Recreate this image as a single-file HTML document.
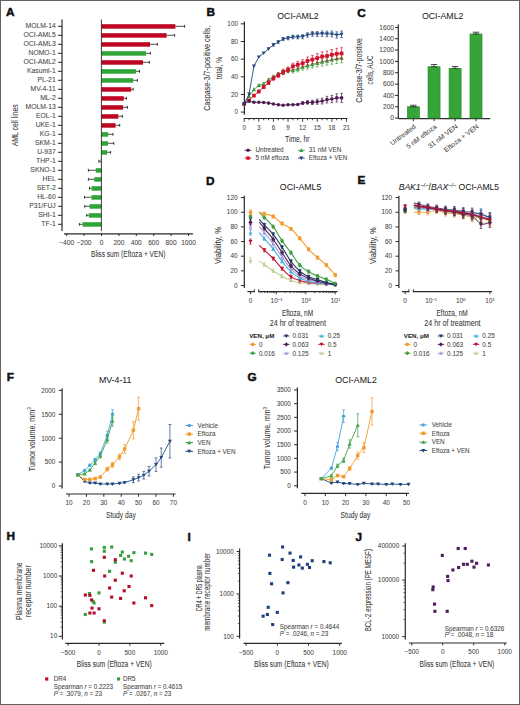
<!DOCTYPE html>
<html><head><meta charset="utf-8"><style>
html,body{margin:0;padding:0;background:#fff;}
body{width:520px;height:705px;overflow:hidden;}
svg{display:block;font-family:"Liberation Sans", sans-serif;}
text{paint-order:stroke;stroke:#666;stroke-width:0.06px;}
</style></head><body>
<svg width="520" height="705" viewBox="0 0 520 705">
<rect x="0" y="0" width="520" height="705" fill="#fff"/>
<text x="6.00" y="15.90" font-size="11.8" fill="#111" font-weight="bold" style="stroke:#111;stroke-width:0.5px" >A</text>
<text x="55.70" y="28.45" font-size="6.3" fill="#444" text-anchor="end" textLength="30.23" lengthAdjust="spacingAndGlyphs" >MOLM-14</text>
<line x1="58.00" y1="26.30" x2="62.00" y2="26.30" stroke="#2a2a2a" stroke-width="1" />
<rect x="101.40" y="24.20" width="74.00" height="4.50" fill="#be0522" />
<line x1="175.40" y1="26.30" x2="184.60" y2="26.30" stroke="#222" stroke-width="0.8" />
<line x1="184.60" y1="24.90" x2="184.60" y2="27.70" stroke="#222" stroke-width="0.9" />
<text x="55.70" y="37.45" font-size="6.3" fill="#444" text-anchor="end" textLength="32.12" lengthAdjust="spacingAndGlyphs" >OCI-AML5</text>
<line x1="58.00" y1="35.30" x2="62.00" y2="35.30" stroke="#2a2a2a" stroke-width="1" />
<rect x="101.40" y="33.20" width="65.20" height="4.50" fill="#be0522" />
<line x1="166.60" y1="35.30" x2="174.60" y2="35.30" stroke="#222" stroke-width="0.8" />
<line x1="174.60" y1="33.90" x2="174.60" y2="36.70" stroke="#222" stroke-width="0.9" />
<text x="55.70" y="46.45" font-size="6.3" fill="#444" text-anchor="end" textLength="32.12" lengthAdjust="spacingAndGlyphs" >OCI-AML3</text>
<line x1="58.00" y1="44.30" x2="62.00" y2="44.30" stroke="#2a2a2a" stroke-width="1" />
<rect x="101.40" y="42.20" width="48.60" height="4.50" fill="#be0522" />
<line x1="150.00" y1="44.30" x2="157.40" y2="44.30" stroke="#222" stroke-width="0.8" />
<line x1="157.40" y1="42.90" x2="157.40" y2="45.70" stroke="#222" stroke-width="0.9" />
<text x="55.70" y="55.45" font-size="6.3" fill="#444" text-anchor="end" textLength="27.2" lengthAdjust="spacingAndGlyphs" >NOMO-1</text>
<line x1="58.00" y1="53.30" x2="62.00" y2="53.30" stroke="#2a2a2a" stroke-width="1" />
<rect x="101.40" y="51.20" width="44.60" height="4.50" fill="#2fa437" />
<line x1="146.00" y1="53.30" x2="150.40" y2="53.30" stroke="#222" stroke-width="0.8" />
<line x1="150.40" y1="51.90" x2="150.40" y2="54.70" stroke="#222" stroke-width="0.9" />
<text x="55.70" y="64.45" font-size="6.3" fill="#444" text-anchor="end" textLength="32.12" lengthAdjust="spacingAndGlyphs" >OCI-AML2</text>
<line x1="58.00" y1="62.30" x2="62.00" y2="62.30" stroke="#2a2a2a" stroke-width="1" />
<rect x="101.40" y="60.20" width="41.60" height="4.50" fill="#be0522" />
<line x1="143.00" y1="62.30" x2="149.40" y2="62.30" stroke="#222" stroke-width="0.8" />
<line x1="149.40" y1="60.90" x2="149.40" y2="63.70" stroke="#222" stroke-width="0.9" />
<text x="55.70" y="73.45" font-size="6.3" fill="#444" text-anchor="end" textLength="28.72" lengthAdjust="spacingAndGlyphs" >Kasumi-1</text>
<line x1="58.00" y1="71.30" x2="62.00" y2="71.30" stroke="#2a2a2a" stroke-width="1" />
<rect x="101.40" y="69.20" width="34.60" height="4.50" fill="#2fa437" />
<line x1="136.00" y1="71.30" x2="139.60" y2="71.30" stroke="#222" stroke-width="0.8" />
<line x1="139.60" y1="69.90" x2="139.60" y2="72.70" stroke="#222" stroke-width="0.9" />
<text x="55.70" y="82.45" font-size="6.3" fill="#444" text-anchor="end" textLength="18.14" lengthAdjust="spacingAndGlyphs" >PL-21</text>
<line x1="58.00" y1="80.30" x2="62.00" y2="80.30" stroke="#2a2a2a" stroke-width="1" />
<rect x="101.40" y="78.20" width="31.80" height="4.50" fill="#2fa437" />
<line x1="133.20" y1="80.30" x2="137.40" y2="80.30" stroke="#222" stroke-width="0.8" />
<line x1="137.40" y1="78.90" x2="137.40" y2="81.70" stroke="#222" stroke-width="0.9" />
<text x="55.70" y="91.45" font-size="6.3" fill="#444" text-anchor="end" textLength="25.19" lengthAdjust="spacingAndGlyphs" >MV-4-11</text>
<line x1="58.00" y1="89.30" x2="62.00" y2="89.30" stroke="#2a2a2a" stroke-width="1" />
<rect x="101.40" y="87.20" width="29.80" height="4.50" fill="#be0522" />
<line x1="131.20" y1="89.30" x2="133.20" y2="89.30" stroke="#222" stroke-width="0.8" />
<line x1="133.20" y1="87.90" x2="133.20" y2="90.70" stroke="#222" stroke-width="0.9" />
<text x="55.70" y="100.45" font-size="6.3" fill="#444" text-anchor="end" textLength="15.49" lengthAdjust="spacingAndGlyphs" >ML-2</text>
<line x1="58.00" y1="98.30" x2="62.00" y2="98.30" stroke="#2a2a2a" stroke-width="1" />
<rect x="101.40" y="96.20" width="22.40" height="4.50" fill="#be0522" />
<line x1="123.80" y1="98.30" x2="126.40" y2="98.30" stroke="#222" stroke-width="0.8" />
<line x1="126.40" y1="96.90" x2="126.40" y2="99.70" stroke="#222" stroke-width="0.9" />
<text x="55.70" y="109.45" font-size="6.3" fill="#444" text-anchor="end" textLength="30.23" lengthAdjust="spacingAndGlyphs" >MOLM-13</text>
<line x1="58.00" y1="107.30" x2="62.00" y2="107.30" stroke="#2a2a2a" stroke-width="1" />
<rect x="101.40" y="105.20" width="21.60" height="4.50" fill="#be0522" />
<line x1="123.00" y1="107.30" x2="127.40" y2="107.30" stroke="#222" stroke-width="0.8" />
<line x1="127.40" y1="105.90" x2="127.40" y2="108.70" stroke="#222" stroke-width="0.9" />
<text x="55.70" y="118.45" font-size="6.3" fill="#444" text-anchor="end" textLength="19.65" lengthAdjust="spacingAndGlyphs" >EOL-1</text>
<line x1="58.00" y1="116.30" x2="62.00" y2="116.30" stroke="#2a2a2a" stroke-width="1" />
<rect x="101.40" y="114.20" width="17.00" height="4.50" fill="#be0522" />
<line x1="118.40" y1="116.30" x2="122.40" y2="116.30" stroke="#222" stroke-width="0.8" />
<line x1="122.40" y1="114.90" x2="122.40" y2="117.70" stroke="#222" stroke-width="0.9" />
<text x="55.70" y="127.45" font-size="6.3" fill="#444" text-anchor="end" textLength="20.03" lengthAdjust="spacingAndGlyphs" >UKE-1</text>
<line x1="58.00" y1="125.30" x2="62.00" y2="125.30" stroke="#2a2a2a" stroke-width="1" />
<rect x="101.40" y="123.20" width="14.20" height="4.50" fill="#be0522" />
<line x1="115.60" y1="125.30" x2="119.70" y2="125.30" stroke="#222" stroke-width="0.8" />
<line x1="119.70" y1="123.90" x2="119.70" y2="126.70" stroke="#222" stroke-width="0.9" />
<text x="55.70" y="136.45" font-size="6.3" fill="#444" text-anchor="end" textLength="15.87" lengthAdjust="spacingAndGlyphs" >KG-1</text>
<line x1="58.00" y1="134.30" x2="62.00" y2="134.30" stroke="#2a2a2a" stroke-width="1" />
<rect x="101.40" y="132.20" width="6.90" height="4.50" fill="#2fa437" />
<line x1="108.30" y1="134.30" x2="113.00" y2="134.30" stroke="#222" stroke-width="0.8" />
<line x1="113.00" y1="132.90" x2="113.00" y2="135.70" stroke="#222" stroke-width="0.9" />
<text x="55.70" y="145.45" font-size="6.3" fill="#444" text-anchor="end" textLength="20.78" lengthAdjust="spacingAndGlyphs" >SKM-1</text>
<line x1="58.00" y1="143.30" x2="62.00" y2="143.30" stroke="#2a2a2a" stroke-width="1" />
<rect x="101.40" y="141.20" width="6.60" height="4.50" fill="#2fa437" />
<line x1="108.00" y1="143.30" x2="113.75" y2="143.30" stroke="#222" stroke-width="0.8" />
<line x1="113.75" y1="141.90" x2="113.75" y2="144.70" stroke="#222" stroke-width="0.9" />
<text x="55.70" y="154.45" font-size="6.3" fill="#444" text-anchor="end" textLength="18.52" lengthAdjust="spacingAndGlyphs" >U-937</text>
<line x1="58.00" y1="152.30" x2="62.00" y2="152.30" stroke="#2a2a2a" stroke-width="1" />
<rect x="101.40" y="150.20" width="5.80" height="4.50" fill="#2fa437" />
<line x1="107.20" y1="152.30" x2="110.60" y2="152.30" stroke="#222" stroke-width="0.8" />
<line x1="110.60" y1="150.90" x2="110.60" y2="153.70" stroke="#222" stroke-width="0.9" />
<text x="55.70" y="163.45" font-size="6.3" fill="#444" text-anchor="end" textLength="19.65" lengthAdjust="spacingAndGlyphs" >THP-1</text>
<line x1="58.00" y1="161.30" x2="62.00" y2="161.30" stroke="#2a2a2a" stroke-width="1" />
<rect x="100.60" y="159.20" width="0.80" height="4.50" fill="#2fa437" />
<line x1="100.60" y1="161.30" x2="98.90" y2="161.30" stroke="#222" stroke-width="0.8" />
<line x1="98.90" y1="159.90" x2="98.90" y2="162.70" stroke="#222" stroke-width="0.9" />
<text x="55.70" y="172.45" font-size="6.3" fill="#444" text-anchor="end" textLength="25.32" lengthAdjust="spacingAndGlyphs" >SKNO-1</text>
<line x1="58.00" y1="170.30" x2="62.00" y2="170.30" stroke="#2a2a2a" stroke-width="1" />
<rect x="95.80" y="168.20" width="5.60" height="4.50" fill="#2fa437" />
<line x1="95.80" y1="170.30" x2="88.40" y2="170.30" stroke="#222" stroke-width="0.8" />
<line x1="88.40" y1="168.90" x2="88.40" y2="171.70" stroke="#222" stroke-width="0.9" />
<text x="55.70" y="181.45" font-size="6.3" fill="#444" text-anchor="end" textLength="13.23" lengthAdjust="spacingAndGlyphs" >HEL</text>
<line x1="58.00" y1="179.30" x2="62.00" y2="179.30" stroke="#2a2a2a" stroke-width="1" />
<rect x="94.20" y="177.20" width="7.20" height="4.50" fill="#2fa437" />
<line x1="94.20" y1="179.30" x2="88.40" y2="179.30" stroke="#222" stroke-width="0.8" />
<line x1="88.40" y1="177.90" x2="88.40" y2="180.70" stroke="#222" stroke-width="0.9" />
<text x="55.70" y="190.45" font-size="6.3" fill="#444" text-anchor="end" textLength="18.9" lengthAdjust="spacingAndGlyphs" >SET-2</text>
<line x1="58.00" y1="188.30" x2="62.00" y2="188.30" stroke="#2a2a2a" stroke-width="1" />
<rect x="91.60" y="186.20" width="9.80" height="4.50" fill="#2fa437" />
<line x1="91.60" y1="188.30" x2="89.50" y2="188.30" stroke="#222" stroke-width="0.8" />
<line x1="89.50" y1="186.90" x2="89.50" y2="189.70" stroke="#222" stroke-width="0.9" />
<text x="55.70" y="199.45" font-size="6.3" fill="#444" text-anchor="end" textLength="18.52" lengthAdjust="spacingAndGlyphs" >HL-60</text>
<line x1="58.00" y1="197.30" x2="62.00" y2="197.30" stroke="#2a2a2a" stroke-width="1" />
<rect x="91.40" y="195.20" width="10.00" height="4.50" fill="#2fa437" />
<line x1="91.40" y1="197.30" x2="84.50" y2="197.30" stroke="#222" stroke-width="0.8" />
<line x1="84.50" y1="195.90" x2="84.50" y2="198.70" stroke="#222" stroke-width="0.9" />
<text x="55.70" y="208.45" font-size="6.3" fill="#444" text-anchor="end" textLength="26.45" lengthAdjust="spacingAndGlyphs" >P31/FUJ</text>
<line x1="58.00" y1="206.30" x2="62.00" y2="206.30" stroke="#2a2a2a" stroke-width="1" />
<rect x="89.50" y="204.20" width="11.90" height="4.50" fill="#2fa437" />
<line x1="89.50" y1="206.30" x2="84.80" y2="206.30" stroke="#222" stroke-width="0.8" />
<line x1="84.80" y1="204.90" x2="84.80" y2="207.70" stroke="#222" stroke-width="0.9" />
<text x="55.70" y="217.45" font-size="6.3" fill="#444" text-anchor="end" textLength="17.38" lengthAdjust="spacingAndGlyphs" >SHI-1</text>
<line x1="58.00" y1="215.30" x2="62.00" y2="215.30" stroke="#2a2a2a" stroke-width="1" />
<rect x="88.75" y="213.20" width="12.65" height="4.50" fill="#2fa437" />
<line x1="88.75" y1="215.30" x2="86.70" y2="215.30" stroke="#222" stroke-width="0.8" />
<line x1="86.70" y1="213.90" x2="86.70" y2="216.70" stroke="#222" stroke-width="0.9" />
<text x="55.70" y="226.45" font-size="6.3" fill="#444" text-anchor="end" textLength="14.35" lengthAdjust="spacingAndGlyphs" >TF-1</text>
<line x1="58.00" y1="224.30" x2="62.00" y2="224.30" stroke="#2a2a2a" stroke-width="1" />
<rect x="82.50" y="222.20" width="18.90" height="4.50" fill="#2fa437" />
<line x1="82.50" y1="224.30" x2="79.40" y2="224.30" stroke="#222" stroke-width="0.8" />
<line x1="79.40" y1="222.90" x2="79.40" y2="225.70" stroke="#222" stroke-width="0.9" />
<line x1="62.00" y1="19.50" x2="62.00" y2="231.00" stroke="#2a2a2a" stroke-width="1.2" />
<line x1="101.40" y1="19.50" x2="101.40" y2="231.00" stroke="#2a2a2a" stroke-width="0.9" />
<line x1="64.00" y1="233.80" x2="193.00" y2="233.80" stroke="#2a2a2a" stroke-width="1.2" />
<line x1="66.70" y1="233.80" x2="66.70" y2="236.00" stroke="#2a2a2a" stroke-width="1" />
<text x="66.70" y="245.00" font-size="6.6" fill="#444" text-anchor="middle" >−400</text>
<line x1="84.10" y1="233.80" x2="84.10" y2="236.00" stroke="#2a2a2a" stroke-width="1" />
<text x="84.10" y="245.00" font-size="6.6" fill="#444" text-anchor="middle" >−200</text>
<line x1="101.50" y1="233.80" x2="101.50" y2="236.00" stroke="#2a2a2a" stroke-width="1" />
<text x="101.50" y="245.00" font-size="6.6" fill="#444" text-anchor="middle" >0</text>
<line x1="118.90" y1="233.80" x2="118.90" y2="236.00" stroke="#2a2a2a" stroke-width="1" />
<text x="118.90" y="245.00" font-size="6.6" fill="#444" text-anchor="middle" >200</text>
<line x1="136.30" y1="233.80" x2="136.30" y2="236.00" stroke="#2a2a2a" stroke-width="1" />
<text x="136.30" y="245.00" font-size="6.6" fill="#444" text-anchor="middle" >400</text>
<line x1="153.70" y1="233.80" x2="153.70" y2="236.00" stroke="#2a2a2a" stroke-width="1" />
<text x="153.70" y="245.00" font-size="6.6" fill="#444" text-anchor="middle" >600</text>
<line x1="171.10" y1="233.80" x2="171.10" y2="236.00" stroke="#2a2a2a" stroke-width="1" />
<text x="171.10" y="245.00" font-size="6.6" fill="#444" text-anchor="middle" >800</text>
<line x1="188.50" y1="233.80" x2="188.50" y2="236.00" stroke="#2a2a2a" stroke-width="1" />
<text x="188.50" y="245.00" font-size="6.6" fill="#444" text-anchor="middle" >1000</text>
<text x="91.00" y="257.30" font-size="8.5" fill="#333" textLength="74.4" lengthAdjust="spacingAndGlyphs" >Bliss sum (Eftoza + VEN)</text>
<text x="18.50" y="125.20" font-size="8.4" fill="#333" text-anchor="middle" textLength="42" lengthAdjust="spacingAndGlyphs" transform="rotate(-90 18.50 125.20)" >AML cell lines</text>
<text x="206.50" y="16.30" font-size="11.8" fill="#111" font-weight="bold" style="stroke:#111;stroke-width:0.5px" >B</text>
<text x="277.20" y="19.40" font-size="8.8" fill="#222" >OCI-AML2</text>
<line x1="244.40" y1="21.50" x2="244.40" y2="114.80" stroke="#2a2a2a" stroke-width="1.2" />
<line x1="240.80" y1="112.10" x2="244.40" y2="112.10" stroke="#2a2a2a" stroke-width="1" />
<text x="238.00" y="114.30" font-size="6.4" fill="#444" text-anchor="end" >0</text>
<line x1="240.80" y1="94.45" x2="244.40" y2="94.45" stroke="#2a2a2a" stroke-width="1" />
<text x="238.00" y="96.65" font-size="6.4" fill="#444" text-anchor="end" >20</text>
<line x1="240.80" y1="76.80" x2="244.40" y2="76.80" stroke="#2a2a2a" stroke-width="1" />
<text x="238.00" y="79.00" font-size="6.4" fill="#444" text-anchor="end" >40</text>
<line x1="240.80" y1="59.15" x2="244.40" y2="59.15" stroke="#2a2a2a" stroke-width="1" />
<text x="238.00" y="61.35" font-size="6.4" fill="#444" text-anchor="end" >60</text>
<line x1="240.80" y1="41.50" x2="244.40" y2="41.50" stroke="#2a2a2a" stroke-width="1" />
<text x="238.00" y="43.70" font-size="6.4" fill="#444" text-anchor="end" >80</text>
<line x1="240.80" y1="23.85" x2="244.40" y2="23.85" stroke="#2a2a2a" stroke-width="1" />
<text x="238.00" y="26.05" font-size="6.4" fill="#444" text-anchor="end" >100</text>
<line x1="243.80" y1="118.50" x2="347.50" y2="118.50" stroke="#2a2a2a" stroke-width="1.2" />
<line x1="244.20" y1="118.50" x2="244.20" y2="121.80" stroke="#2a2a2a" stroke-width="0.9" />
<text x="244.20" y="130.30" font-size="6.4" fill="#444" text-anchor="middle" >0</text>
<line x1="249.07" y1="118.50" x2="249.07" y2="120.30" stroke="#2a2a2a" stroke-width="0.9" />
<line x1="253.94" y1="118.50" x2="253.94" y2="120.30" stroke="#2a2a2a" stroke-width="0.9" />
<line x1="258.81" y1="118.50" x2="258.81" y2="121.80" stroke="#2a2a2a" stroke-width="0.9" />
<text x="258.81" y="130.30" font-size="6.4" fill="#444" text-anchor="middle" >3</text>
<line x1="263.68" y1="118.50" x2="263.68" y2="120.30" stroke="#2a2a2a" stroke-width="0.9" />
<line x1="268.55" y1="118.50" x2="268.55" y2="120.30" stroke="#2a2a2a" stroke-width="0.9" />
<line x1="273.42" y1="118.50" x2="273.42" y2="121.80" stroke="#2a2a2a" stroke-width="0.9" />
<text x="273.42" y="130.30" font-size="6.4" fill="#444" text-anchor="middle" >6</text>
<line x1="278.29" y1="118.50" x2="278.29" y2="120.30" stroke="#2a2a2a" stroke-width="0.9" />
<line x1="283.16" y1="118.50" x2="283.16" y2="120.30" stroke="#2a2a2a" stroke-width="0.9" />
<line x1="288.03" y1="118.50" x2="288.03" y2="121.80" stroke="#2a2a2a" stroke-width="0.9" />
<text x="288.03" y="130.30" font-size="6.4" fill="#444" text-anchor="middle" >9</text>
<line x1="292.90" y1="118.50" x2="292.90" y2="120.30" stroke="#2a2a2a" stroke-width="0.9" />
<line x1="297.77" y1="118.50" x2="297.77" y2="120.30" stroke="#2a2a2a" stroke-width="0.9" />
<line x1="302.64" y1="118.50" x2="302.64" y2="121.80" stroke="#2a2a2a" stroke-width="0.9" />
<text x="302.64" y="130.30" font-size="6.4" fill="#444" text-anchor="middle" >12</text>
<line x1="307.51" y1="118.50" x2="307.51" y2="120.30" stroke="#2a2a2a" stroke-width="0.9" />
<line x1="312.38" y1="118.50" x2="312.38" y2="120.30" stroke="#2a2a2a" stroke-width="0.9" />
<line x1="317.25" y1="118.50" x2="317.25" y2="121.80" stroke="#2a2a2a" stroke-width="0.9" />
<text x="317.25" y="130.30" font-size="6.4" fill="#444" text-anchor="middle" >15</text>
<line x1="322.12" y1="118.50" x2="322.12" y2="120.30" stroke="#2a2a2a" stroke-width="0.9" />
<line x1="326.99" y1="118.50" x2="326.99" y2="120.30" stroke="#2a2a2a" stroke-width="0.9" />
<line x1="331.86" y1="118.50" x2="331.86" y2="121.80" stroke="#2a2a2a" stroke-width="0.9" />
<text x="331.86" y="130.30" font-size="6.4" fill="#444" text-anchor="middle" >18</text>
<line x1="336.73" y1="118.50" x2="336.73" y2="120.30" stroke="#2a2a2a" stroke-width="0.9" />
<line x1="341.60" y1="118.50" x2="341.60" y2="120.30" stroke="#2a2a2a" stroke-width="0.9" />
<line x1="346.47" y1="118.50" x2="346.47" y2="121.80" stroke="#2a2a2a" stroke-width="0.9" />
<text x="346.47" y="130.30" font-size="6.4" fill="#444" text-anchor="middle" >21</text>
<text x="285.00" y="142.30" font-size="8.8" fill="#333" textLength="24.6" lengthAdjust="spacingAndGlyphs" >Time, hr</text>
<text x="210.20" y="68.25" font-size="8.6" fill="#333" text-anchor="middle" textLength="85.1" lengthAdjust="spacingAndGlyphs" transform="rotate(-90 210.20 68.25)" >Caspase-3/7-positive cells,</text>
<text x="221.70" y="68.00" font-size="8.6" fill="#333" text-anchor="middle" textLength="22.3" lengthAdjust="spacingAndGlyphs" transform="rotate(-90 221.70 68.00)" >total, %</text>
<polyline points="244.20,103.80 249.07,96.30 253.94,89.51 258.81,85.36 263.68,83.95 268.55,79.98 273.42,76.98 278.29,74.51 283.16,72.48 288.03,70.36 292.90,70.36 297.77,69.03 302.64,67.00 307.51,65.77 312.38,64.44 317.25,63.21 322.12,61.97 326.99,60.91 331.86,59.86 336.73,58.89 341.60,57.91" fill="none" stroke="#3f9a3f" stroke-width="0.9" stroke-linejoin="round" />
<line x1="258.81" y1="84.26" x2="258.81" y2="86.46" stroke="#3f9a3f" stroke-width="0.7" />
<line x1="257.51" y1="84.26" x2="260.11" y2="84.26" stroke="#3f9a3f" stroke-width="0.7" />
<line x1="257.51" y1="86.46" x2="260.11" y2="86.46" stroke="#3f9a3f" stroke-width="0.7" />
<line x1="263.68" y1="82.62" x2="263.68" y2="85.27" stroke="#3f9a3f" stroke-width="0.7" />
<line x1="262.38" y1="82.62" x2="264.98" y2="82.62" stroke="#3f9a3f" stroke-width="0.7" />
<line x1="262.38" y1="85.27" x2="264.98" y2="85.27" stroke="#3f9a3f" stroke-width="0.7" />
<line x1="268.55" y1="78.43" x2="268.55" y2="81.52" stroke="#3f9a3f" stroke-width="0.7" />
<line x1="267.25" y1="78.43" x2="269.85" y2="78.43" stroke="#3f9a3f" stroke-width="0.7" />
<line x1="267.25" y1="81.52" x2="269.85" y2="81.52" stroke="#3f9a3f" stroke-width="0.7" />
<line x1="273.42" y1="75.21" x2="273.42" y2="78.74" stroke="#3f9a3f" stroke-width="0.7" />
<line x1="272.12" y1="75.21" x2="274.72" y2="75.21" stroke="#3f9a3f" stroke-width="0.7" />
<line x1="272.12" y1="78.74" x2="274.72" y2="78.74" stroke="#3f9a3f" stroke-width="0.7" />
<line x1="278.29" y1="72.52" x2="278.29" y2="76.49" stroke="#3f9a3f" stroke-width="0.7" />
<line x1="276.99" y1="72.52" x2="279.59" y2="72.52" stroke="#3f9a3f" stroke-width="0.7" />
<line x1="276.99" y1="76.49" x2="279.59" y2="76.49" stroke="#3f9a3f" stroke-width="0.7" />
<line x1="283.16" y1="70.27" x2="283.16" y2="74.68" stroke="#3f9a3f" stroke-width="0.7" />
<line x1="281.86" y1="70.27" x2="284.46" y2="70.27" stroke="#3f9a3f" stroke-width="0.7" />
<line x1="281.86" y1="74.68" x2="284.46" y2="74.68" stroke="#3f9a3f" stroke-width="0.7" />
<line x1="288.03" y1="67.93" x2="288.03" y2="72.78" stroke="#3f9a3f" stroke-width="0.7" />
<line x1="286.73" y1="67.93" x2="289.33" y2="67.93" stroke="#3f9a3f" stroke-width="0.7" />
<line x1="286.73" y1="72.78" x2="289.33" y2="72.78" stroke="#3f9a3f" stroke-width="0.7" />
<line x1="292.90" y1="67.71" x2="292.90" y2="73.01" stroke="#3f9a3f" stroke-width="0.7" />
<line x1="291.60" y1="67.71" x2="294.20" y2="67.71" stroke="#3f9a3f" stroke-width="0.7" />
<line x1="291.60" y1="73.01" x2="294.20" y2="73.01" stroke="#3f9a3f" stroke-width="0.7" />
<line x1="297.77" y1="66.17" x2="297.77" y2="71.90" stroke="#3f9a3f" stroke-width="0.7" />
<line x1="296.47" y1="66.17" x2="299.07" y2="66.17" stroke="#3f9a3f" stroke-width="0.7" />
<line x1="296.47" y1="71.90" x2="299.07" y2="71.90" stroke="#3f9a3f" stroke-width="0.7" />
<line x1="302.64" y1="63.92" x2="302.64" y2="70.09" stroke="#3f9a3f" stroke-width="0.7" />
<line x1="301.34" y1="63.92" x2="303.94" y2="63.92" stroke="#3f9a3f" stroke-width="0.7" />
<line x1="301.34" y1="70.09" x2="303.94" y2="70.09" stroke="#3f9a3f" stroke-width="0.7" />
<line x1="307.51" y1="62.46" x2="307.51" y2="69.08" stroke="#3f9a3f" stroke-width="0.7" />
<line x1="306.21" y1="62.46" x2="308.81" y2="62.46" stroke="#3f9a3f" stroke-width="0.7" />
<line x1="306.21" y1="69.08" x2="308.81" y2="69.08" stroke="#3f9a3f" stroke-width="0.7" />
<line x1="312.38" y1="60.91" x2="312.38" y2="67.97" stroke="#3f9a3f" stroke-width="0.7" />
<line x1="311.08" y1="60.91" x2="313.68" y2="60.91" stroke="#3f9a3f" stroke-width="0.7" />
<line x1="311.08" y1="67.97" x2="313.68" y2="67.97" stroke="#3f9a3f" stroke-width="0.7" />
<line x1="317.25" y1="59.46" x2="317.25" y2="66.96" stroke="#3f9a3f" stroke-width="0.7" />
<line x1="315.95" y1="59.46" x2="318.55" y2="59.46" stroke="#3f9a3f" stroke-width="0.7" />
<line x1="315.95" y1="66.96" x2="318.55" y2="66.96" stroke="#3f9a3f" stroke-width="0.7" />
<line x1="322.12" y1="58.00" x2="322.12" y2="65.95" stroke="#3f9a3f" stroke-width="0.7" />
<line x1="320.82" y1="58.00" x2="323.42" y2="58.00" stroke="#3f9a3f" stroke-width="0.7" />
<line x1="320.82" y1="65.95" x2="323.42" y2="65.95" stroke="#3f9a3f" stroke-width="0.7" />
<line x1="326.99" y1="56.72" x2="326.99" y2="65.11" stroke="#3f9a3f" stroke-width="0.7" />
<line x1="325.69" y1="56.72" x2="328.29" y2="56.72" stroke="#3f9a3f" stroke-width="0.7" />
<line x1="325.69" y1="65.11" x2="328.29" y2="65.11" stroke="#3f9a3f" stroke-width="0.7" />
<line x1="331.86" y1="55.44" x2="331.86" y2="64.27" stroke="#3f9a3f" stroke-width="0.7" />
<line x1="330.56" y1="55.44" x2="333.16" y2="55.44" stroke="#3f9a3f" stroke-width="0.7" />
<line x1="330.56" y1="64.27" x2="333.16" y2="64.27" stroke="#3f9a3f" stroke-width="0.7" />
<line x1="336.73" y1="54.25" x2="336.73" y2="63.52" stroke="#3f9a3f" stroke-width="0.7" />
<line x1="335.43" y1="54.25" x2="338.03" y2="54.25" stroke="#3f9a3f" stroke-width="0.7" />
<line x1="335.43" y1="63.52" x2="338.03" y2="63.52" stroke="#3f9a3f" stroke-width="0.7" />
<line x1="341.60" y1="53.06" x2="341.60" y2="62.77" stroke="#3f9a3f" stroke-width="0.7" />
<line x1="340.30" y1="53.06" x2="342.90" y2="53.06" stroke="#3f9a3f" stroke-width="0.7" />
<line x1="340.30" y1="62.77" x2="342.90" y2="62.77" stroke="#3f9a3f" stroke-width="0.7" />
<polygon points="244.20,101.64 246.36,105.53 242.04,105.53" fill="#3f9a3f"/>
<polygon points="249.07,94.14 251.23,98.03 246.91,98.03" fill="#3f9a3f"/>
<polygon points="253.94,87.35 256.10,91.24 251.78,91.24" fill="#3f9a3f"/>
<polygon points="258.81,83.20 260.97,87.09 256.65,87.09" fill="#3f9a3f"/>
<polygon points="263.68,81.79 265.84,85.68 261.52,85.68" fill="#3f9a3f"/>
<polygon points="268.55,77.82 270.71,81.70 266.39,81.70" fill="#3f9a3f"/>
<polygon points="273.42,74.82 275.58,78.70 271.26,78.70" fill="#3f9a3f"/>
<polygon points="278.29,72.35 280.45,76.23 276.13,76.23" fill="#3f9a3f"/>
<polygon points="283.16,70.32 285.32,74.20 281.00,74.20" fill="#3f9a3f"/>
<polygon points="288.03,68.20 290.19,72.09 285.87,72.09" fill="#3f9a3f"/>
<polygon points="292.90,68.20 295.06,72.09 290.74,72.09" fill="#3f9a3f"/>
<polygon points="297.77,66.87 299.93,70.76 295.61,70.76" fill="#3f9a3f"/>
<polygon points="302.64,64.84 304.80,68.73 300.48,68.73" fill="#3f9a3f"/>
<polygon points="307.51,63.61 309.67,67.50 305.35,67.50" fill="#3f9a3f"/>
<polygon points="312.38,62.28 314.54,66.17 310.22,66.17" fill="#3f9a3f"/>
<polygon points="317.25,61.05 319.41,64.94 315.09,64.94" fill="#3f9a3f"/>
<polygon points="322.12,59.81 324.28,63.70 319.96,63.70" fill="#3f9a3f"/>
<polygon points="326.99,58.75 329.15,62.64 324.83,62.64" fill="#3f9a3f"/>
<polygon points="331.86,57.70 334.02,61.58 329.70,61.58" fill="#3f9a3f"/>
<polygon points="336.73,56.73 338.89,60.61 334.57,60.61" fill="#3f9a3f"/>
<polygon points="341.60,55.75 343.76,59.64 339.44,59.64" fill="#3f9a3f"/>
<polyline points="244.20,103.80 249.07,100.36 253.94,95.60 258.81,91.54 263.68,87.04 268.55,82.71 273.42,78.30 278.29,75.21 283.16,71.77 288.03,69.74 292.90,66.30 297.77,64.71 302.64,63.30 307.51,60.91 312.38,59.50 317.25,58.09 322.12,56.50 326.99,56.06 331.86,54.74 336.73,53.77 341.60,53.41" fill="none" stroke="#d1122c" stroke-width="0.9" stroke-linejoin="round" />
<line x1="258.81" y1="90.30" x2="258.81" y2="92.77" stroke="#d1122c" stroke-width="0.7" />
<line x1="257.51" y1="90.30" x2="260.11" y2="90.30" stroke="#d1122c" stroke-width="0.7" />
<line x1="257.51" y1="92.77" x2="260.11" y2="92.77" stroke="#d1122c" stroke-width="0.7" />
<line x1="263.68" y1="85.54" x2="263.68" y2="88.54" stroke="#d1122c" stroke-width="0.7" />
<line x1="262.38" y1="85.54" x2="264.98" y2="85.54" stroke="#d1122c" stroke-width="0.7" />
<line x1="262.38" y1="88.54" x2="264.98" y2="88.54" stroke="#d1122c" stroke-width="0.7" />
<line x1="268.55" y1="80.95" x2="268.55" y2="84.48" stroke="#d1122c" stroke-width="0.7" />
<line x1="267.25" y1="80.95" x2="269.85" y2="80.95" stroke="#d1122c" stroke-width="0.7" />
<line x1="267.25" y1="84.48" x2="269.85" y2="84.48" stroke="#d1122c" stroke-width="0.7" />
<line x1="273.42" y1="76.27" x2="273.42" y2="80.33" stroke="#d1122c" stroke-width="0.7" />
<line x1="272.12" y1="76.27" x2="274.72" y2="76.27" stroke="#d1122c" stroke-width="0.7" />
<line x1="272.12" y1="80.33" x2="274.72" y2="80.33" stroke="#d1122c" stroke-width="0.7" />
<line x1="278.29" y1="72.92" x2="278.29" y2="77.51" stroke="#d1122c" stroke-width="0.7" />
<line x1="276.99" y1="72.92" x2="279.59" y2="72.92" stroke="#d1122c" stroke-width="0.7" />
<line x1="276.99" y1="77.51" x2="279.59" y2="77.51" stroke="#d1122c" stroke-width="0.7" />
<line x1="283.16" y1="69.21" x2="283.16" y2="74.33" stroke="#d1122c" stroke-width="0.7" />
<line x1="281.86" y1="69.21" x2="284.46" y2="69.21" stroke="#d1122c" stroke-width="0.7" />
<line x1="281.86" y1="74.33" x2="284.46" y2="74.33" stroke="#d1122c" stroke-width="0.7" />
<line x1="288.03" y1="66.92" x2="288.03" y2="72.56" stroke="#d1122c" stroke-width="0.7" />
<line x1="286.73" y1="66.92" x2="289.33" y2="66.92" stroke="#d1122c" stroke-width="0.7" />
<line x1="286.73" y1="72.56" x2="289.33" y2="72.56" stroke="#d1122c" stroke-width="0.7" />
<line x1="292.90" y1="63.21" x2="292.90" y2="69.39" stroke="#d1122c" stroke-width="0.7" />
<line x1="291.60" y1="63.21" x2="294.20" y2="63.21" stroke="#d1122c" stroke-width="0.7" />
<line x1="291.60" y1="69.39" x2="294.20" y2="69.39" stroke="#d1122c" stroke-width="0.7" />
<line x1="297.77" y1="61.36" x2="297.77" y2="68.06" stroke="#d1122c" stroke-width="0.7" />
<line x1="296.47" y1="61.36" x2="299.07" y2="61.36" stroke="#d1122c" stroke-width="0.7" />
<line x1="296.47" y1="68.06" x2="299.07" y2="68.06" stroke="#d1122c" stroke-width="0.7" />
<line x1="302.64" y1="59.68" x2="302.64" y2="66.92" stroke="#d1122c" stroke-width="0.7" />
<line x1="301.34" y1="59.68" x2="303.94" y2="59.68" stroke="#d1122c" stroke-width="0.7" />
<line x1="301.34" y1="66.92" x2="303.94" y2="66.92" stroke="#d1122c" stroke-width="0.7" />
<line x1="307.51" y1="57.03" x2="307.51" y2="64.80" stroke="#d1122c" stroke-width="0.7" />
<line x1="306.21" y1="57.03" x2="308.81" y2="57.03" stroke="#d1122c" stroke-width="0.7" />
<line x1="306.21" y1="64.80" x2="308.81" y2="64.80" stroke="#d1122c" stroke-width="0.7" />
<line x1="312.38" y1="55.36" x2="312.38" y2="63.65" stroke="#d1122c" stroke-width="0.7" />
<line x1="311.08" y1="55.36" x2="313.68" y2="55.36" stroke="#d1122c" stroke-width="0.7" />
<line x1="311.08" y1="63.65" x2="313.68" y2="63.65" stroke="#d1122c" stroke-width="0.7" />
<line x1="317.25" y1="53.68" x2="317.25" y2="62.50" stroke="#d1122c" stroke-width="0.7" />
<line x1="315.95" y1="53.68" x2="318.55" y2="53.68" stroke="#d1122c" stroke-width="0.7" />
<line x1="315.95" y1="62.50" x2="318.55" y2="62.50" stroke="#d1122c" stroke-width="0.7" />
<line x1="322.12" y1="51.83" x2="322.12" y2="61.18" stroke="#d1122c" stroke-width="0.7" />
<line x1="320.82" y1="51.83" x2="323.42" y2="51.83" stroke="#d1122c" stroke-width="0.7" />
<line x1="320.82" y1="61.18" x2="323.42" y2="61.18" stroke="#d1122c" stroke-width="0.7" />
<line x1="326.99" y1="51.12" x2="326.99" y2="61.00" stroke="#d1122c" stroke-width="0.7" />
<line x1="325.69" y1="51.12" x2="328.29" y2="51.12" stroke="#d1122c" stroke-width="0.7" />
<line x1="325.69" y1="61.00" x2="328.29" y2="61.00" stroke="#d1122c" stroke-width="0.7" />
<line x1="331.86" y1="49.53" x2="331.86" y2="59.94" stroke="#d1122c" stroke-width="0.7" />
<line x1="330.56" y1="49.53" x2="333.16" y2="49.53" stroke="#d1122c" stroke-width="0.7" />
<line x1="330.56" y1="59.94" x2="333.16" y2="59.94" stroke="#d1122c" stroke-width="0.7" />
<line x1="336.73" y1="48.30" x2="336.73" y2="59.24" stroke="#d1122c" stroke-width="0.7" />
<line x1="335.43" y1="48.30" x2="338.03" y2="48.30" stroke="#d1122c" stroke-width="0.7" />
<line x1="335.43" y1="59.24" x2="338.03" y2="59.24" stroke="#d1122c" stroke-width="0.7" />
<line x1="341.60" y1="47.68" x2="341.60" y2="59.15" stroke="#d1122c" stroke-width="0.7" />
<line x1="340.30" y1="47.68" x2="342.90" y2="47.68" stroke="#d1122c" stroke-width="0.7" />
<line x1="340.30" y1="59.15" x2="342.90" y2="59.15" stroke="#d1122c" stroke-width="0.7" />
<rect x="242.35" y="101.95" width="3.70" height="3.70" fill="#d1122c"/>
<rect x="247.22" y="98.51" width="3.70" height="3.70" fill="#d1122c"/>
<rect x="252.09" y="93.75" width="3.70" height="3.70" fill="#d1122c"/>
<rect x="256.96" y="89.69" width="3.70" height="3.70" fill="#d1122c"/>
<rect x="261.83" y="85.19" width="3.70" height="3.70" fill="#d1122c"/>
<rect x="266.70" y="80.86" width="3.70" height="3.70" fill="#d1122c"/>
<rect x="271.57" y="76.45" width="3.70" height="3.70" fill="#d1122c"/>
<rect x="276.44" y="73.36" width="3.70" height="3.70" fill="#d1122c"/>
<rect x="281.31" y="69.92" width="3.70" height="3.70" fill="#d1122c"/>
<rect x="286.18" y="67.89" width="3.70" height="3.70" fill="#d1122c"/>
<rect x="291.05" y="64.45" width="3.70" height="3.70" fill="#d1122c"/>
<rect x="295.92" y="62.86" width="3.70" height="3.70" fill="#d1122c"/>
<rect x="300.79" y="61.45" width="3.70" height="3.70" fill="#d1122c"/>
<rect x="305.66" y="59.06" width="3.70" height="3.70" fill="#d1122c"/>
<rect x="310.53" y="57.65" width="3.70" height="3.70" fill="#d1122c"/>
<rect x="315.40" y="56.24" width="3.70" height="3.70" fill="#d1122c"/>
<rect x="320.27" y="54.65" width="3.70" height="3.70" fill="#d1122c"/>
<rect x="325.14" y="54.21" width="3.70" height="3.70" fill="#d1122c"/>
<rect x="330.01" y="52.89" width="3.70" height="3.70" fill="#d1122c"/>
<rect x="334.88" y="51.92" width="3.70" height="3.70" fill="#d1122c"/>
<rect x="339.75" y="51.56" width="3.70" height="3.70" fill="#d1122c"/>
<polyline points="244.20,103.80 249.07,101.25 253.94,102.22 258.81,102.22 263.68,102.48 268.55,103.10 273.42,103.98 278.29,104.78 283.16,105.30 288.03,104.78 292.90,104.69 297.77,104.51 302.64,103.10 307.51,102.39 312.38,102.39 317.25,101.69 322.12,101.07 326.99,99.66 331.86,99.04 336.73,97.89 341.60,97.89" fill="none" stroke="#4f1d52" stroke-width="0.9" stroke-linejoin="round" />
<line x1="302.64" y1="101.77" x2="302.64" y2="104.42" stroke="#4f1d52" stroke-width="0.7" />
<line x1="301.34" y1="101.77" x2="303.94" y2="101.77" stroke="#4f1d52" stroke-width="0.7" />
<line x1="301.34" y1="104.42" x2="303.94" y2="104.42" stroke="#4f1d52" stroke-width="0.7" />
<line x1="307.51" y1="100.67" x2="307.51" y2="104.11" stroke="#4f1d52" stroke-width="0.7" />
<line x1="306.21" y1="100.67" x2="308.81" y2="100.67" stroke="#4f1d52" stroke-width="0.7" />
<line x1="306.21" y1="104.11" x2="308.81" y2="104.11" stroke="#4f1d52" stroke-width="0.7" />
<line x1="312.38" y1="100.27" x2="312.38" y2="104.51" stroke="#4f1d52" stroke-width="0.7" />
<line x1="311.08" y1="100.27" x2="313.68" y2="100.27" stroke="#4f1d52" stroke-width="0.7" />
<line x1="311.08" y1="104.51" x2="313.68" y2="104.51" stroke="#4f1d52" stroke-width="0.7" />
<line x1="317.25" y1="99.17" x2="317.25" y2="104.20" stroke="#4f1d52" stroke-width="0.7" />
<line x1="315.95" y1="99.17" x2="318.55" y2="99.17" stroke="#4f1d52" stroke-width="0.7" />
<line x1="315.95" y1="104.20" x2="318.55" y2="104.20" stroke="#4f1d52" stroke-width="0.7" />
<line x1="322.12" y1="98.16" x2="322.12" y2="103.98" stroke="#4f1d52" stroke-width="0.7" />
<line x1="320.82" y1="98.16" x2="323.42" y2="98.16" stroke="#4f1d52" stroke-width="0.7" />
<line x1="320.82" y1="103.98" x2="323.42" y2="103.98" stroke="#4f1d52" stroke-width="0.7" />
<line x1="326.99" y1="96.35" x2="326.99" y2="102.97" stroke="#4f1d52" stroke-width="0.7" />
<line x1="325.69" y1="96.35" x2="328.29" y2="96.35" stroke="#4f1d52" stroke-width="0.7" />
<line x1="325.69" y1="102.97" x2="328.29" y2="102.97" stroke="#4f1d52" stroke-width="0.7" />
<line x1="331.86" y1="95.33" x2="331.86" y2="102.75" stroke="#4f1d52" stroke-width="0.7" />
<line x1="330.56" y1="95.33" x2="333.16" y2="95.33" stroke="#4f1d52" stroke-width="0.7" />
<line x1="330.56" y1="102.75" x2="333.16" y2="102.75" stroke="#4f1d52" stroke-width="0.7" />
<line x1="336.73" y1="93.79" x2="336.73" y2="102.00" stroke="#4f1d52" stroke-width="0.7" />
<line x1="335.43" y1="93.79" x2="338.03" y2="93.79" stroke="#4f1d52" stroke-width="0.7" />
<line x1="335.43" y1="102.00" x2="338.03" y2="102.00" stroke="#4f1d52" stroke-width="0.7" />
<line x1="341.60" y1="93.39" x2="341.60" y2="102.39" stroke="#4f1d52" stroke-width="0.7" />
<line x1="340.30" y1="93.39" x2="342.90" y2="93.39" stroke="#4f1d52" stroke-width="0.7" />
<line x1="340.30" y1="102.39" x2="342.90" y2="102.39" stroke="#4f1d52" stroke-width="0.7" />
<circle cx="244.20" cy="103.80" r="1.80" fill="#4f1d52"/>
<circle cx="249.07" cy="101.25" r="1.80" fill="#4f1d52"/>
<circle cx="253.94" cy="102.22" r="1.80" fill="#4f1d52"/>
<circle cx="258.81" cy="102.22" r="1.80" fill="#4f1d52"/>
<circle cx="263.68" cy="102.48" r="1.80" fill="#4f1d52"/>
<circle cx="268.55" cy="103.10" r="1.80" fill="#4f1d52"/>
<circle cx="273.42" cy="103.98" r="1.80" fill="#4f1d52"/>
<circle cx="278.29" cy="104.78" r="1.80" fill="#4f1d52"/>
<circle cx="283.16" cy="105.30" r="1.80" fill="#4f1d52"/>
<circle cx="288.03" cy="104.78" r="1.80" fill="#4f1d52"/>
<circle cx="292.90" cy="104.69" r="1.80" fill="#4f1d52"/>
<circle cx="297.77" cy="104.51" r="1.80" fill="#4f1d52"/>
<circle cx="302.64" cy="103.10" r="1.80" fill="#4f1d52"/>
<circle cx="307.51" cy="102.39" r="1.80" fill="#4f1d52"/>
<circle cx="312.38" cy="102.39" r="1.80" fill="#4f1d52"/>
<circle cx="317.25" cy="101.69" r="1.80" fill="#4f1d52"/>
<circle cx="322.12" cy="101.07" r="1.80" fill="#4f1d52"/>
<circle cx="326.99" cy="99.66" r="1.80" fill="#4f1d52"/>
<circle cx="331.86" cy="99.04" r="1.80" fill="#4f1d52"/>
<circle cx="336.73" cy="97.89" r="1.80" fill="#4f1d52"/>
<circle cx="341.60" cy="97.89" r="1.80" fill="#4f1d52"/>
<polyline points="244.20,103.80 249.07,94.19 253.94,66.03 258.81,57.03 263.68,53.06 268.55,48.91 273.42,44.94 278.29,42.12 283.16,39.12 288.03,38.15 292.90,37.00 297.77,37.00 302.64,36.65 307.51,34.97 312.38,33.91 317.25,33.91 322.12,33.65 326.99,33.91 331.86,34.00 336.73,34.97 341.60,34.26" fill="none" stroke="#23477e" stroke-width="0.9" stroke-linejoin="round" />
<line x1="273.42" y1="43.78" x2="273.42" y2="46.11" stroke="#23477e" stroke-width="0.7" />
<line x1="272.12" y1="43.78" x2="274.72" y2="43.78" stroke="#23477e" stroke-width="0.7" />
<line x1="272.12" y1="46.11" x2="274.72" y2="46.11" stroke="#23477e" stroke-width="0.7" />
<line x1="278.29" y1="40.80" x2="278.29" y2="43.43" stroke="#23477e" stroke-width="0.7" />
<line x1="276.99" y1="40.80" x2="279.59" y2="40.80" stroke="#23477e" stroke-width="0.7" />
<line x1="276.99" y1="43.43" x2="279.59" y2="43.43" stroke="#23477e" stroke-width="0.7" />
<line x1="283.16" y1="37.65" x2="283.16" y2="40.58" stroke="#23477e" stroke-width="0.7" />
<line x1="281.86" y1="37.65" x2="284.46" y2="37.65" stroke="#23477e" stroke-width="0.7" />
<line x1="281.86" y1="40.58" x2="284.46" y2="40.58" stroke="#23477e" stroke-width="0.7" />
<line x1="288.03" y1="36.53" x2="288.03" y2="39.76" stroke="#23477e" stroke-width="0.7" />
<line x1="286.73" y1="36.53" x2="289.33" y2="36.53" stroke="#23477e" stroke-width="0.7" />
<line x1="286.73" y1="39.76" x2="289.33" y2="39.76" stroke="#23477e" stroke-width="0.7" />
<line x1="292.90" y1="35.23" x2="292.90" y2="38.76" stroke="#23477e" stroke-width="0.7" />
<line x1="291.60" y1="35.23" x2="294.20" y2="35.23" stroke="#23477e" stroke-width="0.7" />
<line x1="291.60" y1="38.76" x2="294.20" y2="38.76" stroke="#23477e" stroke-width="0.7" />
<line x1="297.77" y1="35.08" x2="297.77" y2="38.91" stroke="#23477e" stroke-width="0.7" />
<line x1="296.47" y1="35.08" x2="299.07" y2="35.08" stroke="#23477e" stroke-width="0.7" />
<line x1="296.47" y1="38.91" x2="299.07" y2="38.91" stroke="#23477e" stroke-width="0.7" />
<line x1="302.64" y1="34.58" x2="302.64" y2="38.71" stroke="#23477e" stroke-width="0.7" />
<line x1="301.34" y1="34.58" x2="303.94" y2="34.58" stroke="#23477e" stroke-width="0.7" />
<line x1="301.34" y1="38.71" x2="303.94" y2="38.71" stroke="#23477e" stroke-width="0.7" />
<line x1="307.51" y1="32.75" x2="307.51" y2="37.18" stroke="#23477e" stroke-width="0.7" />
<line x1="306.21" y1="32.75" x2="308.81" y2="32.75" stroke="#23477e" stroke-width="0.7" />
<line x1="306.21" y1="37.18" x2="308.81" y2="37.18" stroke="#23477e" stroke-width="0.7" />
<line x1="312.38" y1="31.55" x2="312.38" y2="36.28" stroke="#23477e" stroke-width="0.7" />
<line x1="311.08" y1="31.55" x2="313.68" y2="31.55" stroke="#23477e" stroke-width="0.7" />
<line x1="311.08" y1="36.28" x2="313.68" y2="36.28" stroke="#23477e" stroke-width="0.7" />
<line x1="317.25" y1="31.40" x2="317.25" y2="36.43" stroke="#23477e" stroke-width="0.7" />
<line x1="315.95" y1="31.40" x2="318.55" y2="31.40" stroke="#23477e" stroke-width="0.7" />
<line x1="315.95" y1="36.43" x2="318.55" y2="36.43" stroke="#23477e" stroke-width="0.7" />
<line x1="322.12" y1="30.98" x2="322.12" y2="36.31" stroke="#23477e" stroke-width="0.7" />
<line x1="320.82" y1="30.98" x2="323.42" y2="30.98" stroke="#23477e" stroke-width="0.7" />
<line x1="320.82" y1="36.31" x2="323.42" y2="36.31" stroke="#23477e" stroke-width="0.7" />
<line x1="326.99" y1="31.10" x2="326.99" y2="36.73" stroke="#23477e" stroke-width="0.7" />
<line x1="325.69" y1="31.10" x2="328.29" y2="31.10" stroke="#23477e" stroke-width="0.7" />
<line x1="325.69" y1="36.73" x2="328.29" y2="36.73" stroke="#23477e" stroke-width="0.7" />
<line x1="331.86" y1="31.03" x2="331.86" y2="36.96" stroke="#23477e" stroke-width="0.7" />
<line x1="330.56" y1="31.03" x2="333.16" y2="31.03" stroke="#23477e" stroke-width="0.7" />
<line x1="330.56" y1="36.96" x2="333.16" y2="36.96" stroke="#23477e" stroke-width="0.7" />
<line x1="336.73" y1="31.85" x2="336.73" y2="38.08" stroke="#23477e" stroke-width="0.7" />
<line x1="335.43" y1="31.85" x2="338.03" y2="31.85" stroke="#23477e" stroke-width="0.7" />
<line x1="335.43" y1="38.08" x2="338.03" y2="38.08" stroke="#23477e" stroke-width="0.7" />
<line x1="341.60" y1="31.00" x2="341.60" y2="37.53" stroke="#23477e" stroke-width="0.7" />
<line x1="340.30" y1="31.00" x2="342.90" y2="31.00" stroke="#23477e" stroke-width="0.7" />
<line x1="340.30" y1="37.53" x2="342.90" y2="37.53" stroke="#23477e" stroke-width="0.7" />
<polygon points="244.20,105.78 246.18,102.22 242.22,102.22" fill="#23477e"/>
<polygon points="249.07,96.17 251.05,92.60 247.09,92.60" fill="#23477e"/>
<polygon points="253.94,68.01 255.92,64.45 251.96,64.45" fill="#23477e"/>
<polygon points="258.81,59.01 260.79,55.45 256.83,55.45" fill="#23477e"/>
<polygon points="263.68,55.04 265.66,51.48 261.70,51.48" fill="#23477e"/>
<polygon points="268.55,50.89 270.53,47.33 266.57,47.33" fill="#23477e"/>
<polygon points="273.42,46.92 275.40,43.36 271.44,43.36" fill="#23477e"/>
<polygon points="278.29,44.10 280.27,40.53 276.31,40.53" fill="#23477e"/>
<polygon points="283.16,41.10 285.14,37.53 281.18,37.53" fill="#23477e"/>
<polygon points="288.03,40.13 290.01,36.56 286.05,36.56" fill="#23477e"/>
<polygon points="292.90,38.98 294.88,35.42 290.92,35.42" fill="#23477e"/>
<polygon points="297.77,38.98 299.75,35.42 295.79,35.42" fill="#23477e"/>
<polygon points="302.64,38.63 304.62,35.06 300.66,35.06" fill="#23477e"/>
<polygon points="307.51,36.95 309.49,33.39 305.53,33.39" fill="#23477e"/>
<polygon points="312.38,35.89 314.36,32.33 310.40,32.33" fill="#23477e"/>
<polygon points="317.25,35.89 319.23,32.33 315.27,32.33" fill="#23477e"/>
<polygon points="322.12,35.63 324.10,32.06 320.14,32.06" fill="#23477e"/>
<polygon points="326.99,35.89 328.97,32.33 325.01,32.33" fill="#23477e"/>
<polygon points="331.86,35.98 333.84,32.41 329.88,32.41" fill="#23477e"/>
<polygon points="336.73,36.95 338.71,33.39 334.75,33.39" fill="#23477e"/>
<polygon points="341.60,36.24 343.58,32.68 339.62,32.68" fill="#23477e"/>
<line x1="244.60" y1="150.30" x2="251.40" y2="150.30" stroke="#4f1d52" stroke-width="0.9" />
<circle cx="248.00" cy="150.30" r="1.70" fill="#4f1d52"/>
<text x="255.50" y="152.20" font-size="6.4" fill="#444" >Untreated</text>
<line x1="244.60" y1="158.10" x2="251.40" y2="158.10" stroke="#d1122c" stroke-width="0.9" />
<rect x="246.30" y="156.40" width="3.40" height="3.40" fill="#d1122c"/>
<text x="255.50" y="160.00" font-size="6.4" fill="#444" >5 nM eftoza</text>
<line x1="297.90" y1="150.30" x2="304.70" y2="150.30" stroke="#3f9a3f" stroke-width="0.9" />
<polygon points="301.30,148.26 303.34,151.93 299.26,151.93" fill="#3f9a3f"/>
<text x="308.80" y="152.20" font-size="6.4" fill="#444" >31 nM VEN</text>
<line x1="297.90" y1="158.10" x2="304.70" y2="158.10" stroke="#23477e" stroke-width="0.9" />
<polygon points="301.30,160.14 303.34,156.47 299.26,156.47" fill="#23477e"/>
<text x="308.80" y="160.00" font-size="6.4" fill="#444" >Eftoza + VEN</text>
<text x="357.30" y="16.60" font-size="11.8" fill="#111" font-weight="bold" style="stroke:#111;stroke-width:0.5px" >C</text>
<text x="421.90" y="19.30" font-size="8.8" fill="#222" >OCI-AML2</text>
<line x1="398.30" y1="24.40" x2="398.30" y2="118.60" stroke="#2a2a2a" stroke-width="1.2" />
<line x1="395.00" y1="118.10" x2="398.30" y2="118.10" stroke="#2a2a2a" stroke-width="1" />
<text x="394.00" y="120.40" font-size="6.6" fill="#444" text-anchor="end" >0</text>
<line x1="395.00" y1="106.76" x2="398.30" y2="106.76" stroke="#2a2a2a" stroke-width="1" />
<text x="394.00" y="109.06" font-size="6.6" fill="#444" text-anchor="end" >200</text>
<line x1="395.00" y1="95.42" x2="398.30" y2="95.42" stroke="#2a2a2a" stroke-width="1" />
<text x="394.00" y="97.72" font-size="6.6" fill="#444" text-anchor="end" >400</text>
<line x1="395.00" y1="84.08" x2="398.30" y2="84.08" stroke="#2a2a2a" stroke-width="1" />
<text x="394.00" y="86.38" font-size="6.6" fill="#444" text-anchor="end" >600</text>
<line x1="395.00" y1="72.74" x2="398.30" y2="72.74" stroke="#2a2a2a" stroke-width="1" />
<text x="394.00" y="75.04" font-size="6.6" fill="#444" text-anchor="end" >800</text>
<line x1="395.00" y1="61.40" x2="398.30" y2="61.40" stroke="#2a2a2a" stroke-width="1" />
<text x="394.00" y="63.70" font-size="6.6" fill="#444" text-anchor="end" >1000</text>
<line x1="395.00" y1="50.06" x2="398.30" y2="50.06" stroke="#2a2a2a" stroke-width="1" />
<text x="394.00" y="52.36" font-size="6.6" fill="#444" text-anchor="end" >1200</text>
<line x1="395.00" y1="38.72" x2="398.30" y2="38.72" stroke="#2a2a2a" stroke-width="1" />
<text x="394.00" y="41.02" font-size="6.6" fill="#444" text-anchor="end" >1400</text>
<line x1="395.00" y1="27.38" x2="398.30" y2="27.38" stroke="#2a2a2a" stroke-width="1" />
<text x="394.00" y="29.68" font-size="6.6" fill="#444" text-anchor="end" >1600</text>
<line x1="398.30" y1="118.60" x2="490.20" y2="118.60" stroke="#2a2a2a" stroke-width="1.2" />
<rect x="407.35" y="106.76" width="12.00" height="11.34" fill="#34a536" stroke="#2a8d2c" stroke-width="0.7"/>
<line x1="413.35" y1="105.23" x2="413.35" y2="106.76" stroke="#333" stroke-width="0.9" />
<line x1="410.15" y1="105.23" x2="416.55" y2="105.23" stroke="#333" stroke-width="0.9" />
<line x1="410.15" y1="106.76" x2="416.55" y2="106.76" stroke="#333" stroke-width="0.9" />
<line x1="413.35" y1="118.60" x2="413.35" y2="121.20" stroke="#2a2a2a" stroke-width="1" />
<rect x="428.05" y="66.79" width="12.00" height="51.31" fill="#34a536" stroke="#2a8d2c" stroke-width="0.7"/>
<line x1="434.05" y1="64.52" x2="434.05" y2="66.79" stroke="#333" stroke-width="0.9" />
<line x1="430.85" y1="64.52" x2="437.25" y2="64.52" stroke="#333" stroke-width="0.9" />
<line x1="430.85" y1="66.79" x2="437.25" y2="66.79" stroke="#333" stroke-width="0.9" />
<line x1="434.05" y1="118.60" x2="434.05" y2="121.20" stroke="#2a2a2a" stroke-width="1" />
<rect x="449.10" y="68.37" width="12.00" height="49.73" fill="#34a536" stroke="#2a8d2c" stroke-width="0.7"/>
<line x1="455.10" y1="66.50" x2="455.10" y2="68.37" stroke="#333" stroke-width="0.9" />
<line x1="451.90" y1="66.50" x2="458.30" y2="66.50" stroke="#333" stroke-width="0.9" />
<line x1="451.90" y1="68.37" x2="458.30" y2="68.37" stroke="#333" stroke-width="0.9" />
<line x1="455.10" y1="118.60" x2="455.10" y2="121.20" stroke="#2a2a2a" stroke-width="1" />
<rect x="470.00" y="34.01" width="12.00" height="84.09" fill="#34a536" stroke="#2a8d2c" stroke-width="0.7"/>
<line x1="476.00" y1="32.20" x2="476.00" y2="34.01" stroke="#333" stroke-width="0.9" />
<line x1="472.80" y1="32.20" x2="479.20" y2="32.20" stroke="#333" stroke-width="0.9" />
<line x1="472.80" y1="34.01" x2="479.20" y2="34.01" stroke="#333" stroke-width="0.9" />
<line x1="476.00" y1="118.60" x2="476.00" y2="121.20" stroke="#2a2a2a" stroke-width="1" />
<text x="416.35" y="127.60" font-size="6.85" fill="#444" text-anchor="end" transform="rotate(-37 416.35 127.60)" >Untreated</text>
<text x="437.05" y="127.60" font-size="6.85" fill="#444" text-anchor="end" transform="rotate(-37 437.05 127.60)" >5 nM eftoza</text>
<text x="458.10" y="127.60" font-size="6.85" fill="#444" text-anchor="end" transform="rotate(-37 458.10 127.60)" >31 nM VEN</text>
<text x="479.00" y="127.60" font-size="6.85" fill="#444" text-anchor="end" transform="rotate(-37 479.00 127.60)" >Eftoza + VEN</text>
<text x="362.20" y="70.40" font-size="8.6" fill="#333" text-anchor="middle" textLength="64.7" lengthAdjust="spacingAndGlyphs" transform="rotate(-90 362.20 70.40)" >Caspase-3/7-positive</text>
<text x="373.40" y="70.00" font-size="8.6" fill="#333" text-anchor="middle" textLength="28.9" lengthAdjust="spacingAndGlyphs" transform="rotate(-90 373.40 70.00)" >cells, AUC</text>
<text x="205.90" y="184.70" font-size="11.8" fill="#111" font-weight="bold" style="stroke:#111;stroke-width:0.5px" >D</text>
<text x="300.60" y="190.40" font-size="8.8" fill="#222" text-anchor="middle" >OCI-AML5</text>
<line x1="244.30" y1="195.80" x2="244.30" y2="288.00" stroke="#2a2a2a" stroke-width="1.2" />
<line x1="240.90" y1="285.50" x2="244.30" y2="285.50" stroke="#2a2a2a" stroke-width="1" />
<text x="237.50" y="287.50" font-size="6.4" fill="#444" text-anchor="end" >0</text>
<line x1="240.90" y1="270.85" x2="244.30" y2="270.85" stroke="#2a2a2a" stroke-width="1" />
<text x="237.50" y="272.85" font-size="6.4" fill="#444" text-anchor="end" >20</text>
<line x1="240.90" y1="256.20" x2="244.30" y2="256.20" stroke="#2a2a2a" stroke-width="1" />
<text x="237.50" y="258.20" font-size="6.4" fill="#444" text-anchor="end" >40</text>
<line x1="240.90" y1="241.55" x2="244.30" y2="241.55" stroke="#2a2a2a" stroke-width="1" />
<text x="237.50" y="243.55" font-size="6.4" fill="#444" text-anchor="end" >60</text>
<line x1="240.90" y1="226.90" x2="244.30" y2="226.90" stroke="#2a2a2a" stroke-width="1" />
<text x="237.50" y="228.90" font-size="6.4" fill="#444" text-anchor="end" >80</text>
<line x1="240.90" y1="212.25" x2="244.30" y2="212.25" stroke="#2a2a2a" stroke-width="1" />
<text x="237.50" y="214.25" font-size="6.4" fill="#444" text-anchor="end" >100</text>
<line x1="240.90" y1="197.60" x2="244.30" y2="197.60" stroke="#2a2a2a" stroke-width="1" />
<text x="237.50" y="199.60" font-size="6.4" fill="#444" text-anchor="end" >120</text>
<line x1="247.40" y1="291.60" x2="254.60" y2="291.60" stroke="#2a2a2a" stroke-width="1.2" />
<line x1="250.60" y1="291.60" x2="250.60" y2="294.20" stroke="#2a2a2a" stroke-width="1" />
<line x1="254.30" y1="289.20" x2="254.30" y2="292.20" stroke="#2a2a2a" stroke-width="0.9" />
<line x1="258.40" y1="291.60" x2="337.50" y2="291.60" stroke="#2a2a2a" stroke-width="1.2" />
<line x1="258.70" y1="289.20" x2="258.70" y2="292.20" stroke="#2a2a2a" stroke-width="0.9" />
<line x1="260.95" y1="291.60" x2="260.95" y2="293.10" stroke="#2a2a2a" stroke-width="0.8" />
<line x1="264.63" y1="291.60" x2="264.63" y2="293.10" stroke="#2a2a2a" stroke-width="0.8" />
<line x1="267.48" y1="291.60" x2="267.48" y2="293.10" stroke="#2a2a2a" stroke-width="0.8" />
<line x1="269.82" y1="291.60" x2="269.82" y2="293.10" stroke="#2a2a2a" stroke-width="0.8" />
<line x1="271.79" y1="291.60" x2="271.79" y2="293.10" stroke="#2a2a2a" stroke-width="0.8" />
<line x1="273.50" y1="291.60" x2="273.50" y2="293.10" stroke="#2a2a2a" stroke-width="0.8" />
<line x1="275.00" y1="291.60" x2="275.00" y2="293.10" stroke="#2a2a2a" stroke-width="0.8" />
<line x1="276.35" y1="291.60" x2="276.35" y2="294.40" stroke="#2a2a2a" stroke-width="0.8" />
<line x1="285.22" y1="291.60" x2="285.22" y2="293.10" stroke="#2a2a2a" stroke-width="0.8" />
<line x1="290.40" y1="291.60" x2="290.40" y2="293.10" stroke="#2a2a2a" stroke-width="0.8" />
<line x1="294.08" y1="291.60" x2="294.08" y2="293.10" stroke="#2a2a2a" stroke-width="0.8" />
<line x1="296.93" y1="291.60" x2="296.93" y2="293.10" stroke="#2a2a2a" stroke-width="0.8" />
<line x1="299.27" y1="291.60" x2="299.27" y2="293.10" stroke="#2a2a2a" stroke-width="0.8" />
<line x1="301.24" y1="291.60" x2="301.24" y2="293.10" stroke="#2a2a2a" stroke-width="0.8" />
<line x1="302.95" y1="291.60" x2="302.95" y2="293.10" stroke="#2a2a2a" stroke-width="0.8" />
<line x1="304.45" y1="291.60" x2="304.45" y2="293.10" stroke="#2a2a2a" stroke-width="0.8" />
<line x1="305.80" y1="291.60" x2="305.80" y2="294.40" stroke="#2a2a2a" stroke-width="0.8" />
<line x1="314.67" y1="291.60" x2="314.67" y2="293.10" stroke="#2a2a2a" stroke-width="0.8" />
<line x1="319.85" y1="291.60" x2="319.85" y2="293.10" stroke="#2a2a2a" stroke-width="0.8" />
<line x1="323.53" y1="291.60" x2="323.53" y2="293.10" stroke="#2a2a2a" stroke-width="0.8" />
<line x1="326.38" y1="291.60" x2="326.38" y2="293.10" stroke="#2a2a2a" stroke-width="0.8" />
<line x1="328.72" y1="291.60" x2="328.72" y2="293.10" stroke="#2a2a2a" stroke-width="0.8" />
<line x1="330.69" y1="291.60" x2="330.69" y2="293.10" stroke="#2a2a2a" stroke-width="0.8" />
<line x1="332.40" y1="291.60" x2="332.40" y2="293.10" stroke="#2a2a2a" stroke-width="0.8" />
<line x1="333.90" y1="291.60" x2="333.90" y2="293.10" stroke="#2a2a2a" stroke-width="0.8" />
<line x1="335.25" y1="291.60" x2="335.25" y2="294.40" stroke="#2a2a2a" stroke-width="0.8" />
<text x="250.50" y="303.30" font-size="6.4" fill="#444" text-anchor="middle" >0</text>
<text x="276.65" y="303.3" font-size="6.4" fill="#444" text-anchor="middle">10<tspan dy="-2.6" font-size="4.4">−1</tspan></text>
<text x="306.10" y="303.3" font-size="6.4" fill="#444" text-anchor="middle">10<tspan dy="-2.6" font-size="4.4">0</tspan></text>
<text x="335.55" y="303.3" font-size="6.4" fill="#444" text-anchor="middle">10<tspan dy="-2.6" font-size="4.4">1</tspan></text>
<text x="281.90" y="316.25" font-size="8.2" fill="#333" textLength="31.2" lengthAdjust="spacingAndGlyphs" >Eftoza, nM</text>
<text x="269.75" y="326.25" font-size="8.6" fill="#333" textLength="56.25" lengthAdjust="spacingAndGlyphs" >24 hr of treatment</text>
<text x="221.30" y="245.50" font-size="8.6" fill="#333" text-anchor="middle" textLength="37" lengthAdjust="spacingAndGlyphs" transform="rotate(-90 221.30 245.50)" >Viability, %</text>
<polyline points="259.20,261.02 264.33,264.62 265.01,265.11 265.92,265.76 267.00,266.53 268.21,267.39 269.48,268.30 270.77,269.20 272.02,270.06 273.19,270.85 274.30,271.58 275.41,272.31 276.52,273.03 277.63,273.73 278.73,274.42 279.84,275.09 280.95,275.73 282.06,276.34 283.17,276.93 284.27,277.50 285.38,278.04 286.49,278.56 287.60,279.06 288.71,279.53 289.82,279.97 290.92,280.37 292.03,280.74 293.14,281.08 294.25,281.40 295.36,281.68 296.46,281.93 297.57,282.17 298.68,282.38 299.79,282.57 300.90,282.73 302.00,282.86 303.11,282.95 304.22,283.03 305.33,283.09 306.44,283.15 307.55,283.22 308.65,283.30 309.76,283.40 310.87,283.49 311.98,283.59 313.09,283.69 314.19,283.79 315.30,283.88 316.41,283.96 317.52,284.04 318.63,284.10 319.74,284.15 320.84,284.20 321.95,284.24 323.06,284.28 324.17,284.32 325.28,284.36 326.38,284.40 327.55,284.45 328.81,284.50 330.10,284.55 331.37,284.61 332.57,284.66 333.66,284.70 334.57,284.74 335.25,284.77" fill="none" stroke="#c3cc95" stroke-width="1.1" stroke-linejoin="round" />
<line x1="250.50" y1="257.81" x2="250.50" y2="262.94" stroke="#c3cc95" stroke-width="0.7" />
<line x1="249.20" y1="257.81" x2="251.80" y2="257.81" stroke="#c3cc95" stroke-width="0.7" />
<line x1="249.20" y1="262.94" x2="251.80" y2="262.94" stroke="#c3cc95" stroke-width="0.7" />
<line x1="264.33" y1="263.01" x2="264.33" y2="266.24" stroke="#c3cc95" stroke-width="0.7" />
<line x1="263.03" y1="263.01" x2="265.63" y2="263.01" stroke="#c3cc95" stroke-width="0.7" />
<line x1="263.03" y1="266.24" x2="265.63" y2="266.24" stroke="#c3cc95" stroke-width="0.7" />
<line x1="273.19" y1="269.24" x2="273.19" y2="272.46" stroke="#c3cc95" stroke-width="0.7" />
<line x1="271.89" y1="269.24" x2="274.49" y2="269.24" stroke="#c3cc95" stroke-width="0.7" />
<line x1="271.89" y1="272.46" x2="274.49" y2="272.46" stroke="#c3cc95" stroke-width="0.7" />
<line x1="282.06" y1="274.73" x2="282.06" y2="277.96" stroke="#c3cc95" stroke-width="0.7" />
<line x1="280.76" y1="274.73" x2="283.36" y2="274.73" stroke="#c3cc95" stroke-width="0.7" />
<line x1="280.76" y1="277.96" x2="283.36" y2="277.96" stroke="#c3cc95" stroke-width="0.7" />
<line x1="290.92" y1="278.76" x2="290.92" y2="281.98" stroke="#c3cc95" stroke-width="0.7" />
<line x1="289.62" y1="278.76" x2="292.22" y2="278.76" stroke="#c3cc95" stroke-width="0.7" />
<line x1="289.62" y1="281.98" x2="292.22" y2="281.98" stroke="#c3cc95" stroke-width="0.7" />
<polygon points="250.50,258.40 252.48,261.96 248.52,261.96" fill="#c3cc95"/>
<polygon points="264.33,262.64 266.31,266.21 262.35,266.21" fill="#c3cc95"/>
<polygon points="273.19,268.87 275.17,272.43 271.21,272.43" fill="#c3cc95"/>
<polygon points="282.06,274.36 284.04,277.93 280.08,277.93" fill="#c3cc95"/>
<polygon points="290.92,278.39 292.90,281.96 288.94,281.96" fill="#c3cc95"/>
<polygon points="299.79,280.59 301.77,284.15 297.81,284.15" fill="#c3cc95"/>
<polygon points="308.65,281.32 310.63,284.89 306.67,284.89" fill="#c3cc95"/>
<polygon points="317.52,282.06 319.50,285.62 315.54,285.62" fill="#c3cc95"/>
<polygon points="326.38,282.42 328.36,285.99 324.40,285.99" fill="#c3cc95"/>
<polygon points="335.25,282.79 337.23,286.35 333.27,286.35" fill="#c3cc95"/>
<polyline points="259.20,245.41 264.33,250.19 265.01,250.82 265.92,251.64 267.00,252.61 268.21,253.70 269.48,254.86 270.77,256.07 272.02,257.29 273.19,258.47 274.30,259.67 275.41,260.93 276.52,262.24 277.63,263.58 278.73,264.91 279.84,266.21 280.95,267.47 282.06,268.65 283.17,269.79 284.27,270.92 285.38,272.02 286.49,273.09 287.60,274.10 288.71,275.05 289.82,275.93 290.92,276.71 292.03,277.39 293.14,277.97 294.25,278.47 295.36,278.91 296.46,279.30 297.57,279.66 298.68,280.01 299.79,280.37 300.90,280.73 302.00,281.06 303.11,281.37 304.22,281.65 305.33,281.92 306.44,282.16 307.55,282.38 308.65,282.57 309.76,282.73 310.87,282.86 311.98,282.95 313.09,283.03 314.19,283.09 315.30,283.15 316.41,283.22 317.52,283.30 318.63,283.39 319.74,283.49 320.84,283.58 321.95,283.67 323.06,283.76 324.17,283.85 325.28,283.94 326.38,284.04 327.55,284.13 328.81,284.24 330.10,284.34 331.37,284.45 332.57,284.55 333.66,284.64 334.57,284.71 335.25,284.77" fill="none" stroke="#c0102c" stroke-width="1.1" stroke-linejoin="round" />
<line x1="250.50" y1="238.99" x2="250.50" y2="244.11" stroke="#c0102c" stroke-width="0.7" />
<line x1="249.20" y1="238.99" x2="251.80" y2="238.99" stroke="#c0102c" stroke-width="0.7" />
<line x1="249.20" y1="244.11" x2="251.80" y2="244.11" stroke="#c0102c" stroke-width="0.7" />
<line x1="264.33" y1="248.58" x2="264.33" y2="251.81" stroke="#c0102c" stroke-width="0.7" />
<line x1="263.03" y1="248.58" x2="265.63" y2="248.58" stroke="#c0102c" stroke-width="0.7" />
<line x1="263.03" y1="251.81" x2="265.63" y2="251.81" stroke="#c0102c" stroke-width="0.7" />
<line x1="273.19" y1="256.86" x2="273.19" y2="260.08" stroke="#c0102c" stroke-width="0.7" />
<line x1="271.89" y1="256.86" x2="274.49" y2="256.86" stroke="#c0102c" stroke-width="0.7" />
<line x1="271.89" y1="260.08" x2="274.49" y2="260.08" stroke="#c0102c" stroke-width="0.7" />
<line x1="282.06" y1="267.04" x2="282.06" y2="270.26" stroke="#c0102c" stroke-width="0.7" />
<line x1="280.76" y1="267.04" x2="283.36" y2="267.04" stroke="#c0102c" stroke-width="0.7" />
<line x1="280.76" y1="270.26" x2="283.36" y2="270.26" stroke="#c0102c" stroke-width="0.7" />
<line x1="290.92" y1="275.10" x2="290.92" y2="278.32" stroke="#c0102c" stroke-width="0.7" />
<line x1="289.62" y1="275.10" x2="292.22" y2="275.10" stroke="#c0102c" stroke-width="0.7" />
<line x1="289.62" y1="278.32" x2="292.22" y2="278.32" stroke="#c0102c" stroke-width="0.7" />
<line x1="299.79" y1="278.76" x2="299.79" y2="281.98" stroke="#c0102c" stroke-width="0.7" />
<line x1="298.49" y1="278.76" x2="301.09" y2="278.76" stroke="#c0102c" stroke-width="0.7" />
<line x1="298.49" y1="281.98" x2="301.09" y2="281.98" stroke="#c0102c" stroke-width="0.7" />
<polygon points="250.50,243.53 252.48,239.97 248.52,239.97" fill="#c0102c"/>
<polygon points="264.33,252.17 266.31,248.61 262.35,248.61" fill="#c0102c"/>
<polygon points="273.19,260.45 275.17,256.89 271.21,256.89" fill="#c0102c"/>
<polygon points="282.06,270.63 284.04,267.07 280.08,267.07" fill="#c0102c"/>
<polygon points="290.92,278.69 292.90,275.13 288.94,275.13" fill="#c0102c"/>
<polygon points="299.79,282.35 301.77,278.79 297.81,278.79" fill="#c0102c"/>
<polygon points="308.65,284.55 310.63,280.99 306.67,280.99" fill="#c0102c"/>
<polygon points="317.52,285.28 319.50,281.72 315.54,281.72" fill="#c0102c"/>
<polygon points="326.38,286.02 328.36,282.45 324.40,282.45" fill="#c0102c"/>
<polygon points="335.25,286.75 337.23,283.18 333.27,283.18" fill="#c0102c"/>
<polyline points="259.20,232.69 264.33,238.62 265.01,239.40 265.92,240.41 267.00,241.62 268.21,242.97 269.48,244.42 270.77,245.92 272.02,247.42 273.19,248.88 274.30,250.34 275.41,251.89 276.52,253.48 277.63,255.10 278.73,256.72 279.84,258.32 280.95,259.86 282.06,261.33 283.17,262.74 284.27,264.14 285.38,265.51 286.49,266.84 287.60,268.13 288.71,269.35 289.82,270.51 290.92,271.58 292.03,272.57 293.14,273.49 294.25,274.34 295.36,275.13 296.46,275.87 297.57,276.55 298.68,277.20 299.79,277.81 300.90,278.37 302.00,278.88 303.11,279.34 304.22,279.75 305.33,280.13 306.44,280.48 307.55,280.80 308.65,281.11 309.76,281.38 310.87,281.60 311.98,281.79 313.09,281.95 314.19,282.10 315.30,282.25 316.41,282.40 317.52,282.57 318.63,282.76 319.74,282.95 320.84,283.15 321.95,283.35 323.06,283.54 324.17,283.72 325.28,283.89 326.38,284.04 327.55,284.17 328.81,284.29 330.10,284.40 331.37,284.49 332.57,284.58 333.66,284.65 334.57,284.72 335.25,284.77" fill="none" stroke="#47aedc" stroke-width="1.1" stroke-linejoin="round" />
<line x1="250.50" y1="230.20" x2="250.50" y2="235.32" stroke="#47aedc" stroke-width="0.7" />
<line x1="249.20" y1="230.20" x2="251.80" y2="230.20" stroke="#47aedc" stroke-width="0.7" />
<line x1="249.20" y1="235.32" x2="251.80" y2="235.32" stroke="#47aedc" stroke-width="0.7" />
<line x1="264.33" y1="237.01" x2="264.33" y2="240.23" stroke="#47aedc" stroke-width="0.7" />
<line x1="263.03" y1="237.01" x2="265.63" y2="237.01" stroke="#47aedc" stroke-width="0.7" />
<line x1="263.03" y1="240.23" x2="265.63" y2="240.23" stroke="#47aedc" stroke-width="0.7" />
<line x1="273.19" y1="247.26" x2="273.19" y2="250.49" stroke="#47aedc" stroke-width="0.7" />
<line x1="271.89" y1="247.26" x2="274.49" y2="247.26" stroke="#47aedc" stroke-width="0.7" />
<line x1="271.89" y1="250.49" x2="274.49" y2="250.49" stroke="#47aedc" stroke-width="0.7" />
<line x1="282.06" y1="259.72" x2="282.06" y2="262.94" stroke="#47aedc" stroke-width="0.7" />
<line x1="280.76" y1="259.72" x2="283.36" y2="259.72" stroke="#47aedc" stroke-width="0.7" />
<line x1="280.76" y1="262.94" x2="283.36" y2="262.94" stroke="#47aedc" stroke-width="0.7" />
<line x1="290.92" y1="269.97" x2="290.92" y2="273.19" stroke="#47aedc" stroke-width="0.7" />
<line x1="289.62" y1="269.97" x2="292.22" y2="269.97" stroke="#47aedc" stroke-width="0.7" />
<line x1="289.62" y1="273.19" x2="292.22" y2="273.19" stroke="#47aedc" stroke-width="0.7" />
<line x1="299.79" y1="276.20" x2="299.79" y2="279.42" stroke="#47aedc" stroke-width="0.7" />
<line x1="298.49" y1="276.20" x2="301.09" y2="276.20" stroke="#47aedc" stroke-width="0.7" />
<line x1="298.49" y1="279.42" x2="301.09" y2="279.42" stroke="#47aedc" stroke-width="0.7" />
<polygon points="250.50,230.78 252.48,234.34 248.52,234.34" fill="#47aedc"/>
<polygon points="264.33,236.64 266.31,240.20 262.35,240.20" fill="#47aedc"/>
<polygon points="273.19,246.90 275.17,250.46 271.21,250.46" fill="#47aedc"/>
<polygon points="282.06,259.35 284.04,262.91 280.08,262.91" fill="#47aedc"/>
<polygon points="290.92,269.60 292.90,273.17 288.94,273.17" fill="#47aedc"/>
<polygon points="299.79,275.83 301.77,279.39 297.81,279.39" fill="#47aedc"/>
<polygon points="308.65,279.12 310.63,282.69 306.67,282.69" fill="#47aedc"/>
<polygon points="317.52,280.59 319.50,284.15 315.54,284.15" fill="#47aedc"/>
<polygon points="326.38,282.06 328.36,285.62 324.40,285.62" fill="#47aedc"/>
<polygon points="335.25,282.79 337.23,286.35 333.27,286.35" fill="#47aedc"/>
<polyline points="259.20,226.41 264.33,232.76 265.01,233.59 265.92,234.68 267.00,235.98 268.21,237.43 269.48,238.98 270.77,240.59 272.02,242.19 273.19,243.75 274.30,245.30 275.41,246.92 276.52,248.60 277.63,250.29 278.73,252.00 279.84,253.69 280.95,255.34 282.06,256.93 283.17,258.50 284.27,260.07 285.38,261.63 286.49,263.16 287.60,264.64 288.71,266.07 289.82,267.41 290.92,268.65 292.03,269.80 293.14,270.88 294.25,271.88 295.36,272.82 296.46,273.69 297.57,274.51 298.68,275.27 299.79,275.98 300.90,276.62 302.00,277.18 303.11,277.68 304.22,278.13 305.33,278.53 306.44,278.91 307.55,279.28 308.65,279.64 309.76,279.99 310.87,280.31 311.98,280.60 313.09,280.88 314.19,281.13 315.30,281.37 316.41,281.61 317.52,281.84 318.63,282.06 319.74,282.26 320.84,282.44 321.95,282.62 323.06,282.79 324.17,282.95 325.28,283.12 326.38,283.30 327.55,283.50 328.81,283.70 330.10,283.92 331.37,284.13 332.57,284.33 333.66,284.50 334.57,284.65 335.25,284.77" fill="none" stroke="#a39ad8" stroke-width="1.1" stroke-linejoin="round" />
<line x1="250.50" y1="224.34" x2="250.50" y2="229.46" stroke="#a39ad8" stroke-width="0.7" />
<line x1="249.20" y1="224.34" x2="251.80" y2="224.34" stroke="#a39ad8" stroke-width="0.7" />
<line x1="249.20" y1="229.46" x2="251.80" y2="229.46" stroke="#a39ad8" stroke-width="0.7" />
<line x1="264.33" y1="231.15" x2="264.33" y2="234.37" stroke="#a39ad8" stroke-width="0.7" />
<line x1="263.03" y1="231.15" x2="265.63" y2="231.15" stroke="#a39ad8" stroke-width="0.7" />
<line x1="263.03" y1="234.37" x2="265.63" y2="234.37" stroke="#a39ad8" stroke-width="0.7" />
<line x1="273.19" y1="242.14" x2="273.19" y2="245.36" stroke="#a39ad8" stroke-width="0.7" />
<line x1="271.89" y1="242.14" x2="274.49" y2="242.14" stroke="#a39ad8" stroke-width="0.7" />
<line x1="271.89" y1="245.36" x2="274.49" y2="245.36" stroke="#a39ad8" stroke-width="0.7" />
<line x1="282.06" y1="255.32" x2="282.06" y2="258.54" stroke="#a39ad8" stroke-width="0.7" />
<line x1="280.76" y1="255.32" x2="283.36" y2="255.32" stroke="#a39ad8" stroke-width="0.7" />
<line x1="280.76" y1="258.54" x2="283.36" y2="258.54" stroke="#a39ad8" stroke-width="0.7" />
<line x1="290.92" y1="267.04" x2="290.92" y2="270.26" stroke="#a39ad8" stroke-width="0.7" />
<line x1="289.62" y1="267.04" x2="292.22" y2="267.04" stroke="#a39ad8" stroke-width="0.7" />
<line x1="289.62" y1="270.26" x2="292.22" y2="270.26" stroke="#a39ad8" stroke-width="0.7" />
<line x1="299.79" y1="274.37" x2="299.79" y2="277.59" stroke="#a39ad8" stroke-width="0.7" />
<line x1="298.49" y1="274.37" x2="301.09" y2="274.37" stroke="#a39ad8" stroke-width="0.7" />
<line x1="298.49" y1="277.59" x2="301.09" y2="277.59" stroke="#a39ad8" stroke-width="0.7" />
<line x1="308.65" y1="278.03" x2="308.65" y2="281.25" stroke="#a39ad8" stroke-width="0.7" />
<line x1="307.35" y1="278.03" x2="309.95" y2="278.03" stroke="#a39ad8" stroke-width="0.7" />
<line x1="307.35" y1="281.25" x2="309.95" y2="281.25" stroke="#a39ad8" stroke-width="0.7" />
<polygon points="250.50,224.92 252.48,228.48 248.52,228.48" fill="#a39ad8"/>
<polygon points="264.33,230.78 266.31,234.34 262.35,234.34" fill="#a39ad8"/>
<polygon points="273.19,241.77 275.17,245.33 271.21,245.33" fill="#a39ad8"/>
<polygon points="282.06,254.95 284.04,258.52 280.08,258.52" fill="#a39ad8"/>
<polygon points="290.92,266.67 292.90,270.24 288.94,270.24" fill="#a39ad8"/>
<polygon points="299.79,274.00 301.77,277.56 297.81,277.56" fill="#a39ad8"/>
<polygon points="308.65,277.66 310.63,281.22 306.67,281.22" fill="#a39ad8"/>
<polygon points="317.52,279.86 319.50,283.42 315.54,283.42" fill="#a39ad8"/>
<polygon points="326.38,281.32 328.36,284.89 324.40,284.89" fill="#a39ad8"/>
<polygon points="335.25,282.79 337.23,286.35 333.27,286.35" fill="#a39ad8"/>
<polyline points="259.20,222.01 264.33,228.37 265.01,229.20 265.92,230.29 267.00,231.58 268.21,233.03 269.48,234.59 270.77,236.19 272.02,237.80 273.19,239.35 274.30,240.90 275.41,242.49 276.52,244.14 277.63,245.81 278.73,247.50 279.84,249.19 280.95,250.87 282.06,252.54 283.17,254.22 284.27,255.95 285.38,257.71 286.49,259.45 287.60,261.15 288.71,262.79 289.82,264.32 290.92,265.72 292.03,267.00 293.14,268.18 294.25,269.28 295.36,270.30 296.46,271.25 297.57,272.14 298.68,272.98 299.79,273.78 300.90,274.51 302.00,275.17 303.11,275.76 304.22,276.30 305.33,276.80 306.44,277.27 307.55,277.72 308.65,278.18 309.76,278.62 310.87,279.03 311.98,279.41 313.09,279.78 314.19,280.12 315.30,280.46 316.41,280.78 317.52,281.11 318.63,281.42 319.74,281.73 320.84,282.02 321.95,282.30 323.06,282.58 324.17,282.83 325.28,283.07 326.38,283.30 327.55,283.52 328.81,283.72 330.10,283.92 331.37,284.10 332.57,284.26 333.66,284.40 334.57,284.53 335.25,284.62" fill="none" stroke="#4c1f55" stroke-width="1.1" stroke-linejoin="round" />
<line x1="250.50" y1="219.94" x2="250.50" y2="225.07" stroke="#4c1f55" stroke-width="0.7" />
<line x1="249.20" y1="219.94" x2="251.80" y2="219.94" stroke="#4c1f55" stroke-width="0.7" />
<line x1="249.20" y1="225.07" x2="251.80" y2="225.07" stroke="#4c1f55" stroke-width="0.7" />
<line x1="264.33" y1="226.75" x2="264.33" y2="229.98" stroke="#4c1f55" stroke-width="0.7" />
<line x1="263.03" y1="226.75" x2="265.63" y2="226.75" stroke="#4c1f55" stroke-width="0.7" />
<line x1="263.03" y1="229.98" x2="265.63" y2="229.98" stroke="#4c1f55" stroke-width="0.7" />
<line x1="273.19" y1="237.74" x2="273.19" y2="240.96" stroke="#4c1f55" stroke-width="0.7" />
<line x1="271.89" y1="237.74" x2="274.49" y2="237.74" stroke="#4c1f55" stroke-width="0.7" />
<line x1="271.89" y1="240.96" x2="274.49" y2="240.96" stroke="#4c1f55" stroke-width="0.7" />
<line x1="282.06" y1="250.93" x2="282.06" y2="254.15" stroke="#4c1f55" stroke-width="0.7" />
<line x1="280.76" y1="250.93" x2="283.36" y2="250.93" stroke="#4c1f55" stroke-width="0.7" />
<line x1="280.76" y1="254.15" x2="283.36" y2="254.15" stroke="#4c1f55" stroke-width="0.7" />
<line x1="290.92" y1="264.11" x2="290.92" y2="267.33" stroke="#4c1f55" stroke-width="0.7" />
<line x1="289.62" y1="264.11" x2="292.22" y2="264.11" stroke="#4c1f55" stroke-width="0.7" />
<line x1="289.62" y1="267.33" x2="292.22" y2="267.33" stroke="#4c1f55" stroke-width="0.7" />
<line x1="299.79" y1="272.17" x2="299.79" y2="275.39" stroke="#4c1f55" stroke-width="0.7" />
<line x1="298.49" y1="272.17" x2="301.09" y2="272.17" stroke="#4c1f55" stroke-width="0.7" />
<line x1="298.49" y1="275.39" x2="301.09" y2="275.39" stroke="#4c1f55" stroke-width="0.7" />
<line x1="308.65" y1="276.56" x2="308.65" y2="279.79" stroke="#4c1f55" stroke-width="0.7" />
<line x1="307.35" y1="276.56" x2="309.95" y2="276.56" stroke="#4c1f55" stroke-width="0.7" />
<line x1="307.35" y1="279.79" x2="309.95" y2="279.79" stroke="#4c1f55" stroke-width="0.7" />
<polygon points="250.50,220.36 252.65,222.50 250.50,224.65 248.35,222.50" fill="#4c1f55"/>
<polygon points="264.33,226.22 266.47,228.37 264.33,230.51 262.18,228.37" fill="#4c1f55"/>
<polygon points="273.19,237.21 275.34,239.35 273.19,241.50 271.05,239.35" fill="#4c1f55"/>
<polygon points="282.06,250.39 284.20,252.54 282.06,254.68 279.91,252.54" fill="#4c1f55"/>
<polygon points="290.92,263.58 293.07,265.72 290.92,267.87 288.78,265.72" fill="#4c1f55"/>
<polygon points="299.79,271.63 301.93,273.78 299.79,275.92 297.64,273.78" fill="#4c1f55"/>
<polygon points="308.65,276.03 310.80,278.18 308.65,280.32 306.51,278.18" fill="#4c1f55"/>
<polygon points="317.52,278.96 319.66,281.11 317.52,283.25 315.37,281.11" fill="#4c1f55"/>
<polygon points="326.38,281.16 328.53,283.30 326.38,285.45 324.24,283.30" fill="#4c1f55"/>
<polygon points="335.25,282.48 337.39,284.62 335.25,286.77 333.11,284.62" fill="#4c1f55"/>
<polyline points="259.20,219.46 264.33,224.92 265.01,225.63 265.92,226.54 267.00,227.62 268.21,228.84 269.48,230.16 270.77,231.55 272.02,232.96 273.19,234.37 274.30,235.81 275.41,237.32 276.52,238.90 277.63,240.53 278.73,242.19 279.84,243.88 280.95,245.57 282.06,247.26 283.17,249.00 284.27,250.80 285.38,252.64 286.49,254.50 287.60,256.32 288.71,258.09 289.82,259.77 290.92,261.33 292.03,262.77 293.14,264.15 294.25,265.45 295.36,266.68 296.46,267.85 297.57,268.96 298.68,270.01 299.79,271.00 300.90,271.92 302.00,272.77 303.11,273.55 304.22,274.27 305.33,274.95 306.44,275.57 307.55,276.16 308.65,276.71 309.76,277.21 310.87,277.64 311.98,278.02 313.09,278.35 314.19,278.67 315.30,278.98 316.41,279.30 317.52,279.64 318.63,280.01 319.74,280.38 320.84,280.76 321.95,281.13 323.06,281.50 324.17,281.85 325.28,282.19 326.38,282.50 327.55,282.79 328.81,283.08 330.10,283.36 331.37,283.63 332.57,283.87 333.66,284.08 334.57,284.26 335.25,284.40" fill="none" stroke="#1f3563" stroke-width="1.1" stroke-linejoin="round" />
<line x1="250.50" y1="216.28" x2="250.50" y2="221.41" stroke="#1f3563" stroke-width="0.7" />
<line x1="249.20" y1="216.28" x2="251.80" y2="216.28" stroke="#1f3563" stroke-width="0.7" />
<line x1="249.20" y1="221.41" x2="251.80" y2="221.41" stroke="#1f3563" stroke-width="0.7" />
<line x1="264.33" y1="223.31" x2="264.33" y2="226.53" stroke="#1f3563" stroke-width="0.7" />
<line x1="263.03" y1="223.31" x2="265.63" y2="223.31" stroke="#1f3563" stroke-width="0.7" />
<line x1="263.03" y1="226.53" x2="265.63" y2="226.53" stroke="#1f3563" stroke-width="0.7" />
<line x1="273.19" y1="232.76" x2="273.19" y2="235.98" stroke="#1f3563" stroke-width="0.7" />
<line x1="271.89" y1="232.76" x2="274.49" y2="232.76" stroke="#1f3563" stroke-width="0.7" />
<line x1="271.89" y1="235.98" x2="274.49" y2="235.98" stroke="#1f3563" stroke-width="0.7" />
<line x1="282.06" y1="245.65" x2="282.06" y2="248.88" stroke="#1f3563" stroke-width="0.7" />
<line x1="280.76" y1="245.65" x2="283.36" y2="245.65" stroke="#1f3563" stroke-width="0.7" />
<line x1="280.76" y1="248.88" x2="283.36" y2="248.88" stroke="#1f3563" stroke-width="0.7" />
<line x1="290.92" y1="259.72" x2="290.92" y2="262.94" stroke="#1f3563" stroke-width="0.7" />
<line x1="289.62" y1="259.72" x2="292.22" y2="259.72" stroke="#1f3563" stroke-width="0.7" />
<line x1="289.62" y1="262.94" x2="292.22" y2="262.94" stroke="#1f3563" stroke-width="0.7" />
<line x1="299.79" y1="269.38" x2="299.79" y2="272.61" stroke="#1f3563" stroke-width="0.7" />
<line x1="298.49" y1="269.38" x2="301.09" y2="269.38" stroke="#1f3563" stroke-width="0.7" />
<line x1="298.49" y1="272.61" x2="301.09" y2="272.61" stroke="#1f3563" stroke-width="0.7" />
<line x1="308.65" y1="275.10" x2="308.65" y2="278.32" stroke="#1f3563" stroke-width="0.7" />
<line x1="307.35" y1="275.10" x2="309.95" y2="275.10" stroke="#1f3563" stroke-width="0.7" />
<line x1="307.35" y1="278.32" x2="309.95" y2="278.32" stroke="#1f3563" stroke-width="0.7" />
<line x1="317.52" y1="278.03" x2="317.52" y2="281.25" stroke="#1f3563" stroke-width="0.7" />
<line x1="316.22" y1="278.03" x2="318.82" y2="278.03" stroke="#1f3563" stroke-width="0.7" />
<line x1="316.22" y1="281.25" x2="318.82" y2="281.25" stroke="#1f3563" stroke-width="0.7" />
<polygon points="250.50,220.82 252.48,217.26 248.52,217.26" fill="#1f3563"/>
<polygon points="264.33,226.90 266.31,223.34 262.35,223.34" fill="#1f3563"/>
<polygon points="273.19,236.35 275.17,232.79 271.21,232.79" fill="#1f3563"/>
<polygon points="282.06,249.24 284.04,245.68 280.08,245.68" fill="#1f3563"/>
<polygon points="290.92,263.31 292.90,259.74 288.94,259.74" fill="#1f3563"/>
<polygon points="299.79,272.98 301.77,269.41 297.81,269.41" fill="#1f3563"/>
<polygon points="308.65,278.69 310.63,275.13 306.67,275.13" fill="#1f3563"/>
<polygon points="317.52,281.62 319.50,278.06 315.54,278.06" fill="#1f3563"/>
<polygon points="326.38,284.48 328.36,280.91 324.40,280.91" fill="#1f3563"/>
<polygon points="335.25,286.38 337.23,282.82 333.27,282.82" fill="#1f3563"/>
<polyline points="259.20,212.23 264.33,217.52 265.01,218.20 265.92,219.05 267.00,220.07 268.21,221.22 269.48,222.48 270.77,223.83 272.02,225.23 273.19,226.68 274.30,228.22 275.41,229.92 276.52,231.72 277.63,233.58 278.73,235.46 279.84,237.33 280.95,239.12 282.06,240.82 283.17,242.41 284.27,243.93 285.38,245.41 286.49,246.86 287.60,248.29 288.71,249.73 289.82,251.19 290.92,252.68 292.03,254.25 293.14,255.90 294.25,257.57 295.36,259.25 296.46,260.88 297.57,262.43 298.68,263.86 299.79,265.14 300.90,266.24 302.00,267.22 303.11,268.08 304.22,268.86 305.33,269.58 306.44,270.26 307.55,270.92 308.65,271.58 309.76,272.24 310.87,272.85 311.98,273.42 313.09,273.96 314.19,274.48 315.30,274.99 316.41,275.48 317.52,275.98 318.63,276.46 319.74,276.91 320.84,277.35 321.95,277.77 323.06,278.19 324.17,278.61 325.28,279.05 326.38,279.49 327.55,279.98 328.81,280.51 330.10,281.07 331.37,281.62 332.57,282.14 333.66,282.61 334.57,283.01 335.25,283.30" fill="none" stroke="#3d9e3d" stroke-width="1.1" stroke-linejoin="round" />
<line x1="250.50" y1="213.35" x2="250.50" y2="218.48" stroke="#3d9e3d" stroke-width="0.7" />
<line x1="249.20" y1="213.35" x2="251.80" y2="213.35" stroke="#3d9e3d" stroke-width="0.7" />
<line x1="249.20" y1="218.48" x2="251.80" y2="218.48" stroke="#3d9e3d" stroke-width="0.7" />
<line x1="264.33" y1="215.91" x2="264.33" y2="219.14" stroke="#3d9e3d" stroke-width="0.7" />
<line x1="263.03" y1="215.91" x2="265.63" y2="215.91" stroke="#3d9e3d" stroke-width="0.7" />
<line x1="263.03" y1="219.14" x2="265.63" y2="219.14" stroke="#3d9e3d" stroke-width="0.7" />
<line x1="273.19" y1="225.07" x2="273.19" y2="228.29" stroke="#3d9e3d" stroke-width="0.7" />
<line x1="271.89" y1="225.07" x2="274.49" y2="225.07" stroke="#3d9e3d" stroke-width="0.7" />
<line x1="271.89" y1="228.29" x2="274.49" y2="228.29" stroke="#3d9e3d" stroke-width="0.7" />
<line x1="282.06" y1="239.21" x2="282.06" y2="242.43" stroke="#3d9e3d" stroke-width="0.7" />
<line x1="280.76" y1="239.21" x2="283.36" y2="239.21" stroke="#3d9e3d" stroke-width="0.7" />
<line x1="280.76" y1="242.43" x2="283.36" y2="242.43" stroke="#3d9e3d" stroke-width="0.7" />
<line x1="290.92" y1="251.07" x2="290.92" y2="254.30" stroke="#3d9e3d" stroke-width="0.7" />
<line x1="289.62" y1="251.07" x2="292.22" y2="251.07" stroke="#3d9e3d" stroke-width="0.7" />
<line x1="289.62" y1="254.30" x2="292.22" y2="254.30" stroke="#3d9e3d" stroke-width="0.7" />
<line x1="299.79" y1="263.52" x2="299.79" y2="266.75" stroke="#3d9e3d" stroke-width="0.7" />
<line x1="298.49" y1="263.52" x2="301.09" y2="263.52" stroke="#3d9e3d" stroke-width="0.7" />
<line x1="298.49" y1="266.75" x2="301.09" y2="266.75" stroke="#3d9e3d" stroke-width="0.7" />
<line x1="308.65" y1="269.97" x2="308.65" y2="273.19" stroke="#3d9e3d" stroke-width="0.7" />
<line x1="307.35" y1="269.97" x2="309.95" y2="269.97" stroke="#3d9e3d" stroke-width="0.7" />
<line x1="307.35" y1="273.19" x2="309.95" y2="273.19" stroke="#3d9e3d" stroke-width="0.7" />
<line x1="317.52" y1="274.37" x2="317.52" y2="277.59" stroke="#3d9e3d" stroke-width="0.7" />
<line x1="316.22" y1="274.37" x2="318.82" y2="274.37" stroke="#3d9e3d" stroke-width="0.7" />
<line x1="316.22" y1="277.59" x2="318.82" y2="277.59" stroke="#3d9e3d" stroke-width="0.7" />
<line x1="326.38" y1="277.88" x2="326.38" y2="281.11" stroke="#3d9e3d" stroke-width="0.7" />
<line x1="325.08" y1="277.88" x2="327.68" y2="277.88" stroke="#3d9e3d" stroke-width="0.7" />
<line x1="325.08" y1="281.11" x2="327.68" y2="281.11" stroke="#3d9e3d" stroke-width="0.7" />
<polygon points="250.50,213.77 252.65,215.91 250.50,218.06 248.35,215.91" fill="#3d9e3d"/>
<polygon points="264.33,215.38 266.47,217.52 264.33,219.67 262.18,217.52" fill="#3d9e3d"/>
<polygon points="273.19,224.54 275.34,226.68 273.19,228.83 271.05,226.68" fill="#3d9e3d"/>
<polygon points="282.06,238.67 284.20,240.82 282.06,242.96 279.91,240.82" fill="#3d9e3d"/>
<polygon points="290.92,250.54 293.07,252.68 290.92,254.83 288.78,252.68" fill="#3d9e3d"/>
<polygon points="299.79,262.99 301.93,265.14 299.79,267.28 297.64,265.14" fill="#3d9e3d"/>
<polygon points="308.65,269.44 310.80,271.58 308.65,273.73 306.51,271.58" fill="#3d9e3d"/>
<polygon points="317.52,273.83 319.66,275.98 317.52,278.12 315.37,275.98" fill="#3d9e3d"/>
<polygon points="326.38,277.35 328.53,279.49 326.38,281.64 324.24,279.49" fill="#3d9e3d"/>
<polygon points="335.25,281.16 337.39,283.30 335.25,285.45 333.11,283.30" fill="#3d9e3d"/>
<polyline points="259.20,212.22 264.33,213.79 265.01,213.97 265.92,214.17 267.00,214.42 268.21,214.70 269.48,215.05 270.77,215.45 272.02,215.93 273.19,216.50 274.30,217.18 275.41,217.99 276.52,218.89 277.63,219.85 278.73,220.83 279.84,221.79 280.95,222.70 282.06,223.53 283.17,224.25 284.27,224.89 285.38,225.48 286.49,226.05 287.60,226.64 288.71,227.29 289.82,228.02 290.92,228.88 292.03,229.86 293.14,230.93 294.25,232.08 295.36,233.29 296.46,234.54 297.57,235.82 298.68,237.11 299.79,238.40 300.90,239.72 302.00,241.09 303.11,242.51 304.22,243.94 305.33,245.36 306.44,246.74 307.55,248.07 308.65,249.31 309.76,250.47 310.87,251.57 311.98,252.62 313.09,253.62 314.19,254.60 315.30,255.57 316.41,256.54 317.52,257.52 318.63,258.48 319.74,259.41 320.84,260.32 321.95,261.22 323.06,262.13 324.17,263.08 325.28,264.08 326.38,265.14 327.55,266.34 328.81,267.70 330.10,269.14 331.37,270.59 332.57,271.99 333.66,273.25 334.57,274.31 335.25,275.10" fill="none" stroke="#f39a2b" stroke-width="1.1" stroke-linejoin="round" />
<line x1="250.50" y1="209.83" x2="250.50" y2="214.96" stroke="#f39a2b" stroke-width="0.7" />
<line x1="249.20" y1="209.83" x2="251.80" y2="209.83" stroke="#f39a2b" stroke-width="0.7" />
<line x1="249.20" y1="214.96" x2="251.80" y2="214.96" stroke="#f39a2b" stroke-width="0.7" />
<line x1="264.33" y1="212.18" x2="264.33" y2="215.40" stroke="#f39a2b" stroke-width="0.7" />
<line x1="263.03" y1="212.18" x2="265.63" y2="212.18" stroke="#f39a2b" stroke-width="0.7" />
<line x1="263.03" y1="215.40" x2="265.63" y2="215.40" stroke="#f39a2b" stroke-width="0.7" />
<line x1="273.19" y1="214.89" x2="273.19" y2="218.11" stroke="#f39a2b" stroke-width="0.7" />
<line x1="271.89" y1="214.89" x2="274.49" y2="214.89" stroke="#f39a2b" stroke-width="0.7" />
<line x1="271.89" y1="218.11" x2="274.49" y2="218.11" stroke="#f39a2b" stroke-width="0.7" />
<line x1="282.06" y1="221.92" x2="282.06" y2="225.14" stroke="#f39a2b" stroke-width="0.7" />
<line x1="280.76" y1="221.92" x2="283.36" y2="221.92" stroke="#f39a2b" stroke-width="0.7" />
<line x1="280.76" y1="225.14" x2="283.36" y2="225.14" stroke="#f39a2b" stroke-width="0.7" />
<line x1="290.92" y1="227.27" x2="290.92" y2="230.49" stroke="#f39a2b" stroke-width="0.7" />
<line x1="289.62" y1="227.27" x2="292.22" y2="227.27" stroke="#f39a2b" stroke-width="0.7" />
<line x1="289.62" y1="230.49" x2="292.22" y2="230.49" stroke="#f39a2b" stroke-width="0.7" />
<line x1="299.79" y1="236.79" x2="299.79" y2="240.01" stroke="#f39a2b" stroke-width="0.7" />
<line x1="298.49" y1="236.79" x2="301.09" y2="236.79" stroke="#f39a2b" stroke-width="0.7" />
<line x1="298.49" y1="240.01" x2="301.09" y2="240.01" stroke="#f39a2b" stroke-width="0.7" />
<line x1="308.65" y1="247.70" x2="308.65" y2="250.93" stroke="#f39a2b" stroke-width="0.7" />
<line x1="307.35" y1="247.70" x2="309.95" y2="247.70" stroke="#f39a2b" stroke-width="0.7" />
<line x1="307.35" y1="250.93" x2="309.95" y2="250.93" stroke="#f39a2b" stroke-width="0.7" />
<line x1="317.52" y1="255.91" x2="317.52" y2="259.13" stroke="#f39a2b" stroke-width="0.7" />
<line x1="316.22" y1="255.91" x2="318.82" y2="255.91" stroke="#f39a2b" stroke-width="0.7" />
<line x1="316.22" y1="259.13" x2="318.82" y2="259.13" stroke="#f39a2b" stroke-width="0.7" />
<line x1="326.38" y1="263.52" x2="326.38" y2="266.75" stroke="#f39a2b" stroke-width="0.7" />
<line x1="325.08" y1="263.52" x2="327.68" y2="263.52" stroke="#f39a2b" stroke-width="0.7" />
<line x1="325.08" y1="266.75" x2="327.68" y2="266.75" stroke="#f39a2b" stroke-width="0.7" />
<line x1="335.25" y1="273.49" x2="335.25" y2="276.71" stroke="#f39a2b" stroke-width="0.7" />
<line x1="333.95" y1="273.49" x2="336.55" y2="273.49" stroke="#f39a2b" stroke-width="0.7" />
<line x1="333.95" y1="276.71" x2="336.55" y2="276.71" stroke="#f39a2b" stroke-width="0.7" />
<rect x="248.85" y="210.75" width="3.30" height="3.30" fill="#f39a2b"/>
<rect x="262.68" y="212.14" width="3.30" height="3.30" fill="#f39a2b"/>
<rect x="271.54" y="214.85" width="3.30" height="3.30" fill="#f39a2b"/>
<rect x="280.41" y="221.88" width="3.30" height="3.30" fill="#f39a2b"/>
<rect x="289.27" y="227.23" width="3.30" height="3.30" fill="#f39a2b"/>
<rect x="298.14" y="236.75" width="3.30" height="3.30" fill="#f39a2b"/>
<rect x="307.00" y="247.66" width="3.30" height="3.30" fill="#f39a2b"/>
<rect x="315.87" y="255.87" width="3.30" height="3.30" fill="#f39a2b"/>
<rect x="324.73" y="263.49" width="3.30" height="3.30" fill="#f39a2b"/>
<rect x="333.60" y="273.45" width="3.30" height="3.30" fill="#f39a2b"/>
<text x="249.20" y="337.80" font-size="6.2" fill="#222" font-weight="bold" >VEN, μM</text>
<line x1="283.10" y1="336.00" x2="289.50" y2="336.00" stroke="#1f3563" stroke-width="0.9" />
<polygon points="286.30,337.92 288.22,334.46 284.38,334.46" fill="#1f3563"/>
<text x="292.50" y="338.30" font-size="6.4" fill="#444" >0.031</text>
<line x1="318.30" y1="336.00" x2="324.70" y2="336.00" stroke="#47aedc" stroke-width="0.9" />
<polygon points="321.50,334.08 323.42,337.54 319.58,337.54" fill="#47aedc"/>
<text x="327.70" y="338.30" font-size="6.4" fill="#444" >0.25</text>
<line x1="249.50" y1="344.40" x2="255.90" y2="344.40" stroke="#f39a2b" stroke-width="0.9" />
<circle cx="252.70" cy="344.40" r="1.80" fill="#f39a2b"/>
<text x="258.90" y="346.70" font-size="6.4" fill="#444" >0</text>
<line x1="283.10" y1="344.40" x2="289.50" y2="344.40" stroke="#4c1f55" stroke-width="0.9" />
<polygon points="286.30,342.32 288.38,344.40 286.30,346.48 284.22,344.40" fill="#4c1f55"/>
<text x="292.50" y="346.70" font-size="6.4" fill="#444" >0.063</text>
<line x1="318.30" y1="344.40" x2="324.70" y2="344.40" stroke="#c0102c" stroke-width="0.9" />
<polygon points="321.50,346.32 323.42,342.86 319.58,342.86" fill="#c0102c"/>
<text x="327.70" y="346.70" font-size="6.4" fill="#444" >0.5</text>
<line x1="249.50" y1="353.20" x2="255.90" y2="353.20" stroke="#3d9e3d" stroke-width="0.9" />
<polygon points="252.70,351.12 254.78,353.20 252.70,355.28 250.62,353.20" fill="#3d9e3d"/>
<text x="258.90" y="355.50" font-size="6.4" fill="#444" >0.016</text>
<line x1="283.10" y1="353.20" x2="289.50" y2="353.20" stroke="#a39ad8" stroke-width="0.9" />
<polygon points="286.30,351.28 288.22,354.74 284.38,354.74" fill="#a39ad8"/>
<text x="292.50" y="355.50" font-size="6.4" fill="#444" >0.125</text>
<line x1="318.30" y1="353.20" x2="324.70" y2="353.20" stroke="#c3cc95" stroke-width="0.9" />
<polygon points="321.50,351.28 323.42,354.74 319.58,354.74" fill="#c3cc95"/>
<text x="327.70" y="355.50" font-size="6.4" fill="#444" >1</text>
<text x="357.40" y="183.90" font-size="11.8" fill="#111" font-weight="bold" style="stroke:#111;stroke-width:0.5px" >E</text>
<text x="448.9" y="190.4" font-size="8.6" fill="#222" text-anchor="middle"><tspan font-style="italic">BAK1</tspan><tspan dy="-3" font-size="5.5">−/−</tspan><tspan dy="3">/</tspan><tspan font-style="italic">BAX</tspan><tspan dy="-3" font-size="5.5">−/−</tspan><tspan dy="3"> OCI-AML5</tspan></text>
<line x1="398.90" y1="195.80" x2="398.90" y2="288.00" stroke="#2a2a2a" stroke-width="1.2" />
<line x1="395.50" y1="285.50" x2="398.90" y2="285.50" stroke="#2a2a2a" stroke-width="1" />
<text x="392.10" y="287.50" font-size="6.4" fill="#444" text-anchor="end" >0</text>
<line x1="395.50" y1="270.85" x2="398.90" y2="270.85" stroke="#2a2a2a" stroke-width="1" />
<text x="392.10" y="272.85" font-size="6.4" fill="#444" text-anchor="end" >20</text>
<line x1="395.50" y1="256.20" x2="398.90" y2="256.20" stroke="#2a2a2a" stroke-width="1" />
<text x="392.10" y="258.20" font-size="6.4" fill="#444" text-anchor="end" >40</text>
<line x1="395.50" y1="241.55" x2="398.90" y2="241.55" stroke="#2a2a2a" stroke-width="1" />
<text x="392.10" y="243.55" font-size="6.4" fill="#444" text-anchor="end" >60</text>
<line x1="395.50" y1="226.90" x2="398.90" y2="226.90" stroke="#2a2a2a" stroke-width="1" />
<text x="392.10" y="228.90" font-size="6.4" fill="#444" text-anchor="end" >80</text>
<line x1="395.50" y1="212.25" x2="398.90" y2="212.25" stroke="#2a2a2a" stroke-width="1" />
<text x="392.10" y="214.25" font-size="6.4" fill="#444" text-anchor="end" >100</text>
<line x1="395.50" y1="197.60" x2="398.90" y2="197.60" stroke="#2a2a2a" stroke-width="1" />
<text x="392.10" y="199.60" font-size="6.4" fill="#444" text-anchor="end" >120</text>
<line x1="402.00" y1="291.60" x2="409.20" y2="291.60" stroke="#2a2a2a" stroke-width="1.2" />
<line x1="405.20" y1="291.60" x2="405.20" y2="294.20" stroke="#2a2a2a" stroke-width="1" />
<line x1="408.90" y1="289.20" x2="408.90" y2="292.20" stroke="#2a2a2a" stroke-width="0.9" />
<line x1="413.00" y1="291.60" x2="492.10" y2="291.60" stroke="#2a2a2a" stroke-width="1.2" />
<line x1="413.30" y1="289.20" x2="413.30" y2="292.20" stroke="#2a2a2a" stroke-width="0.9" />
<line x1="489.85" y1="291.60" x2="489.85" y2="294.40" stroke="#2a2a2a" stroke-width="0.8" />
<text x="405.10" y="303.30" font-size="6.4" fill="#444" text-anchor="middle" >0</text>
<text x="431.25" y="303.3" font-size="6.4" fill="#444" text-anchor="middle">10<tspan dy="-2.6" font-size="4.4">−1</tspan></text>
<text x="460.70" y="303.3" font-size="6.4" fill="#444" text-anchor="middle">10<tspan dy="-2.6" font-size="4.4">0</tspan></text>
<text x="490.15" y="303.3" font-size="6.4" fill="#444" text-anchor="middle">10<tspan dy="-2.6" font-size="4.4">1</tspan></text>
<text x="436.50" y="316.25" font-size="8.2" fill="#333" textLength="31.2" lengthAdjust="spacingAndGlyphs" >Eftoza, nM</text>
<text x="424.35" y="326.25" font-size="8.6" fill="#333" textLength="56.25" lengthAdjust="spacingAndGlyphs" >24 hr of treatment</text>
<text x="375.90" y="245.50" font-size="8.6" fill="#333" text-anchor="middle" textLength="37" lengthAdjust="spacingAndGlyphs" transform="rotate(-90 375.90 245.50)" >Viability, %</text>
<polyline points="413.80,209.32 418.93,209.32 419.61,209.31 420.52,209.30 421.60,209.29 422.81,209.27 424.08,209.27 425.37,209.27 426.62,209.28 427.79,209.32 428.90,209.37 430.01,209.43 431.12,209.51 432.23,209.59 433.33,209.69 434.44,209.80 435.55,209.92 436.66,210.05 437.77,210.21 438.87,210.38 439.98,210.58 441.09,210.78 442.20,210.99 443.31,211.19 444.42,211.36 445.52,211.52 446.63,211.63 447.74,211.72 448.85,211.78 449.96,211.84 451.06,211.90 452.17,211.98 453.28,212.09 454.39,212.25 455.50,212.45 456.60,212.68 457.71,212.93 458.82,213.21 459.93,213.51 461.04,213.81 462.15,214.13 463.25,214.45 464.36,214.76 465.47,215.08 466.58,215.40 467.69,215.73 468.79,216.09 469.90,216.47 471.01,216.90 472.12,217.38 473.23,217.95 474.34,218.63 475.44,219.36 476.55,220.12 477.66,220.86 478.77,221.53 479.88,222.09 480.98,222.50 482.15,222.75 483.41,222.87 484.70,222.88 485.97,222.83 487.17,222.73 488.26,222.63 489.17,222.54 489.85,222.50" fill="none" stroke="#c3cc95" stroke-width="0.9" stroke-linejoin="round" />
<line x1="405.10" y1="208.22" x2="405.10" y2="211.88" stroke="#c3cc95" stroke-width="0.7" />
<line x1="403.80" y1="208.22" x2="406.40" y2="208.22" stroke="#c3cc95" stroke-width="0.7" />
<line x1="403.80" y1="211.88" x2="406.40" y2="211.88" stroke="#c3cc95" stroke-width="0.7" />
<line x1="418.93" y1="207.16" x2="418.93" y2="211.48" stroke="#c3cc95" stroke-width="0.7" />
<line x1="417.63" y1="207.16" x2="420.23" y2="207.16" stroke="#c3cc95" stroke-width="0.7" />
<line x1="417.63" y1="211.48" x2="420.23" y2="211.48" stroke="#c3cc95" stroke-width="0.7" />
<line x1="427.79" y1="206.83" x2="427.79" y2="211.81" stroke="#c3cc95" stroke-width="0.7" />
<line x1="426.49" y1="206.83" x2="429.09" y2="206.83" stroke="#c3cc95" stroke-width="0.7" />
<line x1="426.49" y1="211.81" x2="429.09" y2="211.81" stroke="#c3cc95" stroke-width="0.7" />
<line x1="436.66" y1="207.23" x2="436.66" y2="212.87" stroke="#c3cc95" stroke-width="0.7" />
<line x1="435.36" y1="207.23" x2="437.96" y2="207.23" stroke="#c3cc95" stroke-width="0.7" />
<line x1="435.36" y1="212.87" x2="437.96" y2="212.87" stroke="#c3cc95" stroke-width="0.7" />
<line x1="445.52" y1="208.37" x2="445.52" y2="214.67" stroke="#c3cc95" stroke-width="0.7" />
<line x1="444.22" y1="208.37" x2="446.82" y2="208.37" stroke="#c3cc95" stroke-width="0.7" />
<line x1="444.22" y1="214.67" x2="446.82" y2="214.67" stroke="#c3cc95" stroke-width="0.7" />
<line x1="454.39" y1="208.77" x2="454.39" y2="215.73" stroke="#c3cc95" stroke-width="0.7" />
<line x1="453.09" y1="208.77" x2="455.69" y2="208.77" stroke="#c3cc95" stroke-width="0.7" />
<line x1="453.09" y1="215.73" x2="455.69" y2="215.73" stroke="#c3cc95" stroke-width="0.7" />
<line x1="463.25" y1="210.64" x2="463.25" y2="218.26" stroke="#c3cc95" stroke-width="0.7" />
<line x1="461.95" y1="210.64" x2="464.55" y2="210.64" stroke="#c3cc95" stroke-width="0.7" />
<line x1="461.95" y1="218.26" x2="464.55" y2="218.26" stroke="#c3cc95" stroke-width="0.7" />
<line x1="472.12" y1="213.24" x2="472.12" y2="221.52" stroke="#c3cc95" stroke-width="0.7" />
<line x1="470.82" y1="213.24" x2="473.42" y2="213.24" stroke="#c3cc95" stroke-width="0.7" />
<line x1="470.82" y1="221.52" x2="473.42" y2="221.52" stroke="#c3cc95" stroke-width="0.7" />
<line x1="480.98" y1="218.04" x2="480.98" y2="226.97" stroke="#c3cc95" stroke-width="0.7" />
<line x1="479.68" y1="218.04" x2="482.28" y2="218.04" stroke="#c3cc95" stroke-width="0.7" />
<line x1="479.68" y1="226.97" x2="482.28" y2="226.97" stroke="#c3cc95" stroke-width="0.7" />
<line x1="489.85" y1="217.71" x2="489.85" y2="227.30" stroke="#c3cc95" stroke-width="0.7" />
<line x1="488.55" y1="217.71" x2="491.15" y2="217.71" stroke="#c3cc95" stroke-width="0.7" />
<line x1="488.55" y1="227.30" x2="491.15" y2="227.30" stroke="#c3cc95" stroke-width="0.7" />
<polygon points="405.10,208.13 407.02,211.59 403.18,211.59" fill="#c3cc95"/>
<polygon points="418.93,207.40 420.85,210.86 417.01,210.86" fill="#c3cc95"/>
<polygon points="427.79,207.40 429.71,210.86 425.87,210.86" fill="#c3cc95"/>
<polygon points="436.66,208.13 438.58,211.59 434.74,211.59" fill="#c3cc95"/>
<polygon points="445.52,209.60 447.44,213.05 443.60,213.05" fill="#c3cc95"/>
<polygon points="454.39,210.33 456.31,213.79 452.47,213.79" fill="#c3cc95"/>
<polygon points="463.25,212.53 465.17,215.98 461.33,215.98" fill="#c3cc95"/>
<polygon points="472.12,215.46 474.04,218.91 470.20,218.91" fill="#c3cc95"/>
<polygon points="480.98,220.59 482.90,224.04 479.06,224.04" fill="#c3cc95"/>
<polygon points="489.85,220.59 491.77,224.04 487.93,224.04" fill="#c3cc95"/>
<polyline points="413.80,212.25 418.93,212.25 419.61,212.26 420.52,212.28 421.60,212.31 422.81,212.34 424.08,212.36 425.37,212.35 426.62,212.32 427.79,212.25 428.90,212.11 430.01,211.90 431.12,211.65 432.23,211.38 433.33,211.13 434.44,210.93 435.55,210.80 436.66,210.78 437.77,210.89 438.87,211.11 439.98,211.41 441.09,211.75 442.20,212.10 443.31,212.45 444.42,212.75 445.52,212.98 446.63,213.14 447.74,213.25 448.85,213.33 449.96,213.39 451.06,213.45 452.17,213.51 453.28,213.60 454.39,213.71 455.50,213.86 456.60,214.01 457.71,214.18 458.82,214.36 459.93,214.54 461.04,214.75 462.15,214.96 463.25,215.18 464.36,215.43 465.47,215.71 466.58,216.01 467.69,216.32 468.79,216.63 469.90,216.91 471.01,217.17 472.12,217.38 473.23,217.52 474.34,217.61 475.44,217.66 476.55,217.70 477.66,217.74 478.77,217.81 479.88,217.92 480.98,218.11 482.15,218.39 483.41,218.76 484.70,219.18 485.97,219.62 487.17,220.06 488.26,220.46 489.17,220.80 489.85,221.04" fill="none" stroke="#f39a2b" stroke-width="0.9" stroke-linejoin="round" />
<line x1="405.10" y1="209.69" x2="405.10" y2="213.35" stroke="#f39a2b" stroke-width="0.7" />
<line x1="403.80" y1="209.69" x2="406.40" y2="209.69" stroke="#f39a2b" stroke-width="0.7" />
<line x1="403.80" y1="213.35" x2="406.40" y2="213.35" stroke="#f39a2b" stroke-width="0.7" />
<line x1="418.93" y1="210.09" x2="418.93" y2="214.41" stroke="#f39a2b" stroke-width="0.7" />
<line x1="417.63" y1="210.09" x2="420.23" y2="210.09" stroke="#f39a2b" stroke-width="0.7" />
<line x1="417.63" y1="214.41" x2="420.23" y2="214.41" stroke="#f39a2b" stroke-width="0.7" />
<line x1="427.79" y1="209.76" x2="427.79" y2="214.74" stroke="#f39a2b" stroke-width="0.7" />
<line x1="426.49" y1="209.76" x2="429.09" y2="209.76" stroke="#f39a2b" stroke-width="0.7" />
<line x1="426.49" y1="214.74" x2="429.09" y2="214.74" stroke="#f39a2b" stroke-width="0.7" />
<line x1="436.66" y1="207.96" x2="436.66" y2="213.61" stroke="#f39a2b" stroke-width="0.7" />
<line x1="435.36" y1="207.96" x2="437.96" y2="207.96" stroke="#f39a2b" stroke-width="0.7" />
<line x1="435.36" y1="213.61" x2="437.96" y2="213.61" stroke="#f39a2b" stroke-width="0.7" />
<line x1="445.52" y1="209.83" x2="445.52" y2="216.13" stroke="#f39a2b" stroke-width="0.7" />
<line x1="444.22" y1="209.83" x2="446.82" y2="209.83" stroke="#f39a2b" stroke-width="0.7" />
<line x1="444.22" y1="216.13" x2="446.82" y2="216.13" stroke="#f39a2b" stroke-width="0.7" />
<line x1="454.39" y1="210.24" x2="454.39" y2="217.19" stroke="#f39a2b" stroke-width="0.7" />
<line x1="453.09" y1="210.24" x2="455.69" y2="210.24" stroke="#f39a2b" stroke-width="0.7" />
<line x1="453.09" y1="217.19" x2="455.69" y2="217.19" stroke="#f39a2b" stroke-width="0.7" />
<line x1="463.25" y1="211.37" x2="463.25" y2="218.99" stroke="#f39a2b" stroke-width="0.7" />
<line x1="461.95" y1="211.37" x2="464.55" y2="211.37" stroke="#f39a2b" stroke-width="0.7" />
<line x1="461.95" y1="218.99" x2="464.55" y2="218.99" stroke="#f39a2b" stroke-width="0.7" />
<line x1="472.12" y1="213.24" x2="472.12" y2="221.52" stroke="#f39a2b" stroke-width="0.7" />
<line x1="470.82" y1="213.24" x2="473.42" y2="213.24" stroke="#f39a2b" stroke-width="0.7" />
<line x1="470.82" y1="221.52" x2="473.42" y2="221.52" stroke="#f39a2b" stroke-width="0.7" />
<line x1="480.98" y1="213.64" x2="480.98" y2="222.58" stroke="#f39a2b" stroke-width="0.7" />
<line x1="479.68" y1="213.64" x2="482.28" y2="213.64" stroke="#f39a2b" stroke-width="0.7" />
<line x1="479.68" y1="222.58" x2="482.28" y2="222.58" stroke="#f39a2b" stroke-width="0.7" />
<line x1="489.85" y1="216.24" x2="489.85" y2="225.84" stroke="#f39a2b" stroke-width="0.7" />
<line x1="488.55" y1="216.24" x2="491.15" y2="216.24" stroke="#f39a2b" stroke-width="0.7" />
<line x1="488.55" y1="225.84" x2="491.15" y2="225.84" stroke="#f39a2b" stroke-width="0.7" />
<rect x="403.50" y="209.92" width="3.20" height="3.20" fill="#f39a2b"/>
<rect x="417.33" y="210.65" width="3.20" height="3.20" fill="#f39a2b"/>
<rect x="426.19" y="210.65" width="3.20" height="3.20" fill="#f39a2b"/>
<rect x="435.06" y="209.19" width="3.20" height="3.20" fill="#f39a2b"/>
<rect x="443.92" y="211.38" width="3.20" height="3.20" fill="#f39a2b"/>
<rect x="452.79" y="212.11" width="3.20" height="3.20" fill="#f39a2b"/>
<rect x="461.65" y="213.58" width="3.20" height="3.20" fill="#f39a2b"/>
<rect x="470.52" y="215.78" width="3.20" height="3.20" fill="#f39a2b"/>
<rect x="479.38" y="216.51" width="3.20" height="3.20" fill="#f39a2b"/>
<rect x="488.25" y="219.44" width="3.20" height="3.20" fill="#f39a2b"/>
<polyline points="413.80,207.43 418.93,207.85 419.61,207.91 420.52,207.99 421.60,208.08 422.81,208.18 424.08,208.28 425.37,208.39 426.62,208.49 427.79,208.59 428.90,208.67 430.01,208.74 431.12,208.80 432.23,208.86 433.33,208.94 434.44,209.03 435.55,209.16 436.66,209.32 437.77,209.53 438.87,209.80 439.98,210.10 441.09,210.42 442.20,210.74 443.31,211.04 444.42,211.30 445.52,211.52 446.63,211.67 447.74,211.79 448.85,211.87 449.96,211.93 451.06,211.99 452.17,212.05 453.28,212.13 454.39,212.25 455.50,212.40 456.60,212.56 457.71,212.75 458.82,212.94 459.93,213.13 461.04,213.33 462.15,213.53 463.25,213.71 464.36,213.89 465.47,214.05 466.58,214.20 467.69,214.36 468.79,214.52 469.90,214.71 471.01,214.93 472.12,215.18 473.23,215.50 474.34,215.88 475.44,216.30 476.55,216.74 477.66,217.16 478.77,217.55 479.88,217.87 480.98,218.11 482.15,218.25 483.41,218.32 484.70,218.32 485.97,218.29 487.17,218.24 488.26,218.18 489.17,218.13 489.85,218.11" fill="none" stroke="#3d9e3d" stroke-width="0.9" stroke-linejoin="round" />
<line x1="405.10" y1="208.95" x2="405.10" y2="212.62" stroke="#3d9e3d" stroke-width="0.7" />
<line x1="403.80" y1="208.95" x2="406.40" y2="208.95" stroke="#3d9e3d" stroke-width="0.7" />
<line x1="403.80" y1="212.62" x2="406.40" y2="212.62" stroke="#3d9e3d" stroke-width="0.7" />
<line x1="418.93" y1="205.69" x2="418.93" y2="210.02" stroke="#3d9e3d" stroke-width="0.7" />
<line x1="417.63" y1="205.69" x2="420.23" y2="205.69" stroke="#3d9e3d" stroke-width="0.7" />
<line x1="417.63" y1="210.02" x2="420.23" y2="210.02" stroke="#3d9e3d" stroke-width="0.7" />
<line x1="427.79" y1="206.10" x2="427.79" y2="211.08" stroke="#3d9e3d" stroke-width="0.7" />
<line x1="426.49" y1="206.10" x2="429.09" y2="206.10" stroke="#3d9e3d" stroke-width="0.7" />
<line x1="426.49" y1="211.08" x2="429.09" y2="211.08" stroke="#3d9e3d" stroke-width="0.7" />
<line x1="436.66" y1="206.50" x2="436.66" y2="212.14" stroke="#3d9e3d" stroke-width="0.7" />
<line x1="435.36" y1="206.50" x2="437.96" y2="206.50" stroke="#3d9e3d" stroke-width="0.7" />
<line x1="435.36" y1="212.14" x2="437.96" y2="212.14" stroke="#3d9e3d" stroke-width="0.7" />
<line x1="445.52" y1="208.37" x2="445.52" y2="214.67" stroke="#3d9e3d" stroke-width="0.7" />
<line x1="444.22" y1="208.37" x2="446.82" y2="208.37" stroke="#3d9e3d" stroke-width="0.7" />
<line x1="444.22" y1="214.67" x2="446.82" y2="214.67" stroke="#3d9e3d" stroke-width="0.7" />
<line x1="454.39" y1="208.77" x2="454.39" y2="215.73" stroke="#3d9e3d" stroke-width="0.7" />
<line x1="453.09" y1="208.77" x2="455.69" y2="208.77" stroke="#3d9e3d" stroke-width="0.7" />
<line x1="453.09" y1="215.73" x2="455.69" y2="215.73" stroke="#3d9e3d" stroke-width="0.7" />
<line x1="463.25" y1="209.91" x2="463.25" y2="217.52" stroke="#3d9e3d" stroke-width="0.7" />
<line x1="461.95" y1="209.91" x2="464.55" y2="209.91" stroke="#3d9e3d" stroke-width="0.7" />
<line x1="461.95" y1="217.52" x2="464.55" y2="217.52" stroke="#3d9e3d" stroke-width="0.7" />
<line x1="472.12" y1="211.04" x2="472.12" y2="219.32" stroke="#3d9e3d" stroke-width="0.7" />
<line x1="470.82" y1="211.04" x2="473.42" y2="211.04" stroke="#3d9e3d" stroke-width="0.7" />
<line x1="470.82" y1="219.32" x2="473.42" y2="219.32" stroke="#3d9e3d" stroke-width="0.7" />
<line x1="480.98" y1="213.64" x2="480.98" y2="222.58" stroke="#3d9e3d" stroke-width="0.7" />
<line x1="479.68" y1="213.64" x2="482.28" y2="213.64" stroke="#3d9e3d" stroke-width="0.7" />
<line x1="479.68" y1="222.58" x2="482.28" y2="222.58" stroke="#3d9e3d" stroke-width="0.7" />
<line x1="489.85" y1="213.31" x2="489.85" y2="222.91" stroke="#3d9e3d" stroke-width="0.7" />
<line x1="488.55" y1="213.31" x2="491.15" y2="213.31" stroke="#3d9e3d" stroke-width="0.7" />
<line x1="488.55" y1="222.91" x2="491.15" y2="222.91" stroke="#3d9e3d" stroke-width="0.7" />
<polygon points="405.10,208.70 407.18,210.78 405.10,212.87 403.02,210.78" fill="#3d9e3d"/>
<polygon points="418.93,205.77 421.01,207.85 418.93,209.94 416.85,207.85" fill="#3d9e3d"/>
<polygon points="427.79,206.51 429.87,208.59 427.79,210.67 425.71,208.59" fill="#3d9e3d"/>
<polygon points="436.66,207.24 438.74,209.32 436.66,211.40 434.58,209.32" fill="#3d9e3d"/>
<polygon points="445.52,209.44 447.60,211.52 445.52,213.60 443.44,211.52" fill="#3d9e3d"/>
<polygon points="454.39,210.17 456.47,212.25 454.39,214.33 452.31,212.25" fill="#3d9e3d"/>
<polygon points="463.25,211.63 465.33,213.71 463.25,215.79 461.17,213.71" fill="#3d9e3d"/>
<polygon points="472.12,213.10 474.20,215.18 472.12,217.26 470.04,215.18" fill="#3d9e3d"/>
<polygon points="480.98,216.03 483.06,218.11 480.98,220.19 478.90,218.11" fill="#3d9e3d"/>
<polygon points="489.85,216.03 491.93,218.11 489.85,220.19 487.77,218.11" fill="#3d9e3d"/>
<polyline points="413.80,208.16 418.93,208.59 419.61,208.65 420.52,208.74 421.60,208.84 422.81,208.95 424.08,209.07 425.37,209.17 426.62,209.26 427.79,209.32 428.90,209.35 430.01,209.35 431.12,209.34 432.23,209.32 433.33,209.30 434.44,209.29 435.55,209.29 436.66,209.32 437.77,209.38 438.87,209.45 439.98,209.54 441.09,209.64 442.20,209.75 443.31,209.85 444.42,209.96 445.52,210.05 446.63,210.14 447.74,210.22 448.85,210.29 449.96,210.37 451.06,210.46 452.17,210.55 453.28,210.66 454.39,210.78 455.50,210.93 456.60,211.10 457.71,211.28 458.82,211.47 459.93,211.67 461.04,211.87 462.15,212.06 463.25,212.25 464.36,212.45 465.47,212.67 466.58,212.90 467.69,213.12 468.79,213.33 469.90,213.50 471.01,213.64 472.12,213.71 473.23,213.69 474.34,213.55 475.44,213.34 476.55,213.12 477.66,212.92 478.77,212.81 479.88,212.81 480.98,212.98 482.15,213.38 483.41,213.97 484.70,214.70 485.97,215.50 487.17,216.31 488.26,217.05 489.17,217.67 489.85,218.11" fill="none" stroke="#47aedc" stroke-width="0.9" stroke-linejoin="round" />
<line x1="405.10" y1="207.49" x2="405.10" y2="211.15" stroke="#47aedc" stroke-width="0.7" />
<line x1="403.80" y1="207.49" x2="406.40" y2="207.49" stroke="#47aedc" stroke-width="0.7" />
<line x1="403.80" y1="211.15" x2="406.40" y2="211.15" stroke="#47aedc" stroke-width="0.7" />
<line x1="418.93" y1="206.43" x2="418.93" y2="210.75" stroke="#47aedc" stroke-width="0.7" />
<line x1="417.63" y1="206.43" x2="420.23" y2="206.43" stroke="#47aedc" stroke-width="0.7" />
<line x1="417.63" y1="210.75" x2="420.23" y2="210.75" stroke="#47aedc" stroke-width="0.7" />
<line x1="427.79" y1="206.83" x2="427.79" y2="211.81" stroke="#47aedc" stroke-width="0.7" />
<line x1="426.49" y1="206.83" x2="429.09" y2="206.83" stroke="#47aedc" stroke-width="0.7" />
<line x1="426.49" y1="211.81" x2="429.09" y2="211.81" stroke="#47aedc" stroke-width="0.7" />
<line x1="436.66" y1="206.50" x2="436.66" y2="212.14" stroke="#47aedc" stroke-width="0.7" />
<line x1="435.36" y1="206.50" x2="437.96" y2="206.50" stroke="#47aedc" stroke-width="0.7" />
<line x1="435.36" y1="212.14" x2="437.96" y2="212.14" stroke="#47aedc" stroke-width="0.7" />
<line x1="445.52" y1="206.90" x2="445.52" y2="213.20" stroke="#47aedc" stroke-width="0.7" />
<line x1="444.22" y1="206.90" x2="446.82" y2="206.90" stroke="#47aedc" stroke-width="0.7" />
<line x1="444.22" y1="213.20" x2="446.82" y2="213.20" stroke="#47aedc" stroke-width="0.7" />
<line x1="454.39" y1="207.31" x2="454.39" y2="214.26" stroke="#47aedc" stroke-width="0.7" />
<line x1="453.09" y1="207.31" x2="455.69" y2="207.31" stroke="#47aedc" stroke-width="0.7" />
<line x1="453.09" y1="214.26" x2="455.69" y2="214.26" stroke="#47aedc" stroke-width="0.7" />
<line x1="463.25" y1="208.44" x2="463.25" y2="216.06" stroke="#47aedc" stroke-width="0.7" />
<line x1="461.95" y1="208.44" x2="464.55" y2="208.44" stroke="#47aedc" stroke-width="0.7" />
<line x1="461.95" y1="216.06" x2="464.55" y2="216.06" stroke="#47aedc" stroke-width="0.7" />
<line x1="472.12" y1="209.58" x2="472.12" y2="217.85" stroke="#47aedc" stroke-width="0.7" />
<line x1="470.82" y1="209.58" x2="473.42" y2="209.58" stroke="#47aedc" stroke-width="0.7" />
<line x1="470.82" y1="217.85" x2="473.42" y2="217.85" stroke="#47aedc" stroke-width="0.7" />
<line x1="480.98" y1="208.51" x2="480.98" y2="217.45" stroke="#47aedc" stroke-width="0.7" />
<line x1="479.68" y1="208.51" x2="482.28" y2="208.51" stroke="#47aedc" stroke-width="0.7" />
<line x1="479.68" y1="217.45" x2="482.28" y2="217.45" stroke="#47aedc" stroke-width="0.7" />
<line x1="489.85" y1="213.31" x2="489.85" y2="222.91" stroke="#47aedc" stroke-width="0.7" />
<line x1="488.55" y1="213.31" x2="491.15" y2="213.31" stroke="#47aedc" stroke-width="0.7" />
<line x1="488.55" y1="222.91" x2="491.15" y2="222.91" stroke="#47aedc" stroke-width="0.7" />
<polygon points="405.10,207.40 407.02,210.86 403.18,210.86" fill="#47aedc"/>
<polygon points="418.93,206.67 420.85,210.12 417.01,210.12" fill="#47aedc"/>
<polygon points="427.79,207.40 429.71,210.86 425.87,210.86" fill="#47aedc"/>
<polygon points="436.66,207.40 438.58,210.86 434.74,210.86" fill="#47aedc"/>
<polygon points="445.52,208.13 447.44,211.59 443.60,211.59" fill="#47aedc"/>
<polygon points="454.39,208.87 456.31,212.32 452.47,212.32" fill="#47aedc"/>
<polygon points="463.25,210.33 465.17,213.79 461.33,213.79" fill="#47aedc"/>
<polygon points="472.12,211.79 474.04,215.25 470.20,215.25" fill="#47aedc"/>
<polygon points="480.98,211.06 482.90,214.52 479.06,214.52" fill="#47aedc"/>
<polygon points="489.85,216.19 491.77,219.65 487.93,219.65" fill="#47aedc"/>
<polyline points="413.80,206.28 418.93,207.12 419.61,207.24 420.52,207.40 421.60,207.60 422.81,207.81 424.08,208.03 425.37,208.24 426.62,208.43 427.79,208.59 428.90,208.71 430.01,208.82 431.12,208.92 432.23,209.00 433.33,209.08 434.44,209.15 435.55,209.23 436.66,209.32 437.77,209.41 438.87,209.49 439.98,209.56 441.09,209.64 442.20,209.72 443.31,209.82 444.42,209.93 445.52,210.05 446.63,210.21 447.74,210.38 448.85,210.58 449.96,210.78 451.06,210.99 452.17,211.19 453.28,211.36 454.39,211.52 455.50,211.64 456.60,211.73 457.71,211.81 458.82,211.88 459.93,211.95 461.04,212.03 462.15,212.13 463.25,212.25 464.36,212.40 465.47,212.58 466.58,212.78 467.69,212.98 468.79,213.19 469.90,213.38 471.01,213.56 472.12,213.71 473.23,213.82 474.34,213.86 475.44,213.88 476.55,213.90 477.66,213.94 478.77,214.02 479.88,214.19 480.98,214.45 482.15,214.85 483.41,215.39 484.70,216.02 485.97,216.69 487.17,217.36 488.26,217.97 489.17,218.48 489.85,218.84" fill="none" stroke="#a39ad8" stroke-width="0.9" stroke-linejoin="round" />
<line x1="405.10" y1="206.76" x2="405.10" y2="210.42" stroke="#a39ad8" stroke-width="0.7" />
<line x1="403.80" y1="206.76" x2="406.40" y2="206.76" stroke="#a39ad8" stroke-width="0.7" />
<line x1="403.80" y1="210.42" x2="406.40" y2="210.42" stroke="#a39ad8" stroke-width="0.7" />
<line x1="418.93" y1="204.96" x2="418.93" y2="209.28" stroke="#a39ad8" stroke-width="0.7" />
<line x1="417.63" y1="204.96" x2="420.23" y2="204.96" stroke="#a39ad8" stroke-width="0.7" />
<line x1="417.63" y1="209.28" x2="420.23" y2="209.28" stroke="#a39ad8" stroke-width="0.7" />
<line x1="427.79" y1="206.10" x2="427.79" y2="211.08" stroke="#a39ad8" stroke-width="0.7" />
<line x1="426.49" y1="206.10" x2="429.09" y2="206.10" stroke="#a39ad8" stroke-width="0.7" />
<line x1="426.49" y1="211.08" x2="429.09" y2="211.08" stroke="#a39ad8" stroke-width="0.7" />
<line x1="436.66" y1="206.50" x2="436.66" y2="212.14" stroke="#a39ad8" stroke-width="0.7" />
<line x1="435.36" y1="206.50" x2="437.96" y2="206.50" stroke="#a39ad8" stroke-width="0.7" />
<line x1="435.36" y1="212.14" x2="437.96" y2="212.14" stroke="#a39ad8" stroke-width="0.7" />
<line x1="445.52" y1="206.90" x2="445.52" y2="213.20" stroke="#a39ad8" stroke-width="0.7" />
<line x1="444.22" y1="206.90" x2="446.82" y2="206.90" stroke="#a39ad8" stroke-width="0.7" />
<line x1="444.22" y1="213.20" x2="446.82" y2="213.20" stroke="#a39ad8" stroke-width="0.7" />
<line x1="454.39" y1="208.04" x2="454.39" y2="215.00" stroke="#a39ad8" stroke-width="0.7" />
<line x1="453.09" y1="208.04" x2="455.69" y2="208.04" stroke="#a39ad8" stroke-width="0.7" />
<line x1="453.09" y1="215.00" x2="455.69" y2="215.00" stroke="#a39ad8" stroke-width="0.7" />
<line x1="463.25" y1="208.44" x2="463.25" y2="216.06" stroke="#a39ad8" stroke-width="0.7" />
<line x1="461.95" y1="208.44" x2="464.55" y2="208.44" stroke="#a39ad8" stroke-width="0.7" />
<line x1="461.95" y1="216.06" x2="464.55" y2="216.06" stroke="#a39ad8" stroke-width="0.7" />
<line x1="472.12" y1="209.58" x2="472.12" y2="217.85" stroke="#a39ad8" stroke-width="0.7" />
<line x1="470.82" y1="209.58" x2="473.42" y2="209.58" stroke="#a39ad8" stroke-width="0.7" />
<line x1="470.82" y1="217.85" x2="473.42" y2="217.85" stroke="#a39ad8" stroke-width="0.7" />
<line x1="480.98" y1="209.98" x2="480.98" y2="218.92" stroke="#a39ad8" stroke-width="0.7" />
<line x1="479.68" y1="209.98" x2="482.28" y2="209.98" stroke="#a39ad8" stroke-width="0.7" />
<line x1="479.68" y1="218.92" x2="482.28" y2="218.92" stroke="#a39ad8" stroke-width="0.7" />
<line x1="489.85" y1="214.04" x2="489.85" y2="223.64" stroke="#a39ad8" stroke-width="0.7" />
<line x1="488.55" y1="214.04" x2="491.15" y2="214.04" stroke="#a39ad8" stroke-width="0.7" />
<line x1="488.55" y1="223.64" x2="491.15" y2="223.64" stroke="#a39ad8" stroke-width="0.7" />
<polygon points="405.10,206.67 407.02,210.12 403.18,210.12" fill="#a39ad8"/>
<polygon points="418.93,205.20 420.85,208.66 417.01,208.66" fill="#a39ad8"/>
<polygon points="427.79,206.67 429.71,210.12 425.87,210.12" fill="#a39ad8"/>
<polygon points="436.66,207.40 438.58,210.86 434.74,210.86" fill="#a39ad8"/>
<polygon points="445.52,208.13 447.44,211.59 443.60,211.59" fill="#a39ad8"/>
<polygon points="454.39,209.60 456.31,213.05 452.47,213.05" fill="#a39ad8"/>
<polygon points="463.25,210.33 465.17,213.79 461.33,213.79" fill="#a39ad8"/>
<polygon points="472.12,211.79 474.04,215.25 470.20,215.25" fill="#a39ad8"/>
<polygon points="480.98,212.53 482.90,215.98 479.06,215.98" fill="#a39ad8"/>
<polygon points="489.85,216.92 491.77,220.38 487.93,220.38" fill="#a39ad8"/>
<polyline points="413.80,205.54 418.93,206.39 419.61,206.50 420.52,206.65 421.60,206.83 422.81,207.03 424.08,207.24 425.37,207.45 426.62,207.66 427.79,207.85 428.90,208.04 430.01,208.22 431.12,208.40 432.23,208.59 433.33,208.77 434.44,208.95 435.55,209.14 436.66,209.32 437.77,209.50 438.87,209.69 439.98,209.87 441.09,210.05 442.20,210.24 443.31,210.42 444.42,210.60 445.52,210.78 446.63,210.96 447.74,211.13 448.85,211.30 449.96,211.47 451.06,211.65 452.17,211.83 453.28,212.03 454.39,212.25 455.50,212.49 456.60,212.77 457.71,213.05 458.82,213.35 459.93,213.64 461.04,213.93 462.15,214.20 463.25,214.45 464.36,214.62 465.47,214.71 466.58,214.76 467.69,214.81 468.79,214.91 469.90,215.10 471.01,215.42 472.12,215.91 473.23,216.67 474.34,217.69 475.44,218.87 476.55,220.12 477.66,221.36 478.77,222.47 479.88,223.37 480.98,223.97 482.15,224.23 483.41,224.24 484.70,224.05 485.97,223.74 487.17,223.37 488.26,222.99 489.17,222.68 489.85,222.50" fill="none" stroke="#4c1f55" stroke-width="0.9" stroke-linejoin="round" />
<line x1="405.10" y1="207.49" x2="405.10" y2="211.15" stroke="#4c1f55" stroke-width="0.7" />
<line x1="403.80" y1="207.49" x2="406.40" y2="207.49" stroke="#4c1f55" stroke-width="0.7" />
<line x1="403.80" y1="211.15" x2="406.40" y2="211.15" stroke="#4c1f55" stroke-width="0.7" />
<line x1="418.93" y1="204.23" x2="418.93" y2="208.55" stroke="#4c1f55" stroke-width="0.7" />
<line x1="417.63" y1="204.23" x2="420.23" y2="204.23" stroke="#4c1f55" stroke-width="0.7" />
<line x1="417.63" y1="208.55" x2="420.23" y2="208.55" stroke="#4c1f55" stroke-width="0.7" />
<line x1="427.79" y1="205.36" x2="427.79" y2="210.35" stroke="#4c1f55" stroke-width="0.7" />
<line x1="426.49" y1="205.36" x2="429.09" y2="205.36" stroke="#4c1f55" stroke-width="0.7" />
<line x1="426.49" y1="210.35" x2="429.09" y2="210.35" stroke="#4c1f55" stroke-width="0.7" />
<line x1="436.66" y1="206.50" x2="436.66" y2="212.14" stroke="#4c1f55" stroke-width="0.7" />
<line x1="435.36" y1="206.50" x2="437.96" y2="206.50" stroke="#4c1f55" stroke-width="0.7" />
<line x1="435.36" y1="212.14" x2="437.96" y2="212.14" stroke="#4c1f55" stroke-width="0.7" />
<line x1="445.52" y1="207.64" x2="445.52" y2="213.93" stroke="#4c1f55" stroke-width="0.7" />
<line x1="444.22" y1="207.64" x2="446.82" y2="207.64" stroke="#4c1f55" stroke-width="0.7" />
<line x1="444.22" y1="213.93" x2="446.82" y2="213.93" stroke="#4c1f55" stroke-width="0.7" />
<line x1="454.39" y1="208.77" x2="454.39" y2="215.73" stroke="#4c1f55" stroke-width="0.7" />
<line x1="453.09" y1="208.77" x2="455.69" y2="208.77" stroke="#4c1f55" stroke-width="0.7" />
<line x1="453.09" y1="215.73" x2="455.69" y2="215.73" stroke="#4c1f55" stroke-width="0.7" />
<line x1="463.25" y1="210.64" x2="463.25" y2="218.26" stroke="#4c1f55" stroke-width="0.7" />
<line x1="461.95" y1="210.64" x2="464.55" y2="210.64" stroke="#4c1f55" stroke-width="0.7" />
<line x1="461.95" y1="218.26" x2="464.55" y2="218.26" stroke="#4c1f55" stroke-width="0.7" />
<line x1="472.12" y1="211.77" x2="472.12" y2="220.05" stroke="#4c1f55" stroke-width="0.7" />
<line x1="470.82" y1="211.77" x2="473.42" y2="211.77" stroke="#4c1f55" stroke-width="0.7" />
<line x1="470.82" y1="220.05" x2="473.42" y2="220.05" stroke="#4c1f55" stroke-width="0.7" />
<line x1="480.98" y1="219.50" x2="480.98" y2="228.44" stroke="#4c1f55" stroke-width="0.7" />
<line x1="479.68" y1="219.50" x2="482.28" y2="219.50" stroke="#4c1f55" stroke-width="0.7" />
<line x1="479.68" y1="228.44" x2="482.28" y2="228.44" stroke="#4c1f55" stroke-width="0.7" />
<line x1="489.85" y1="217.71" x2="489.85" y2="227.30" stroke="#4c1f55" stroke-width="0.7" />
<line x1="488.55" y1="217.71" x2="491.15" y2="217.71" stroke="#4c1f55" stroke-width="0.7" />
<line x1="488.55" y1="227.30" x2="491.15" y2="227.30" stroke="#4c1f55" stroke-width="0.7" />
<polygon points="405.10,207.24 407.18,209.32 405.10,211.40 403.02,209.32" fill="#4c1f55"/>
<polygon points="418.93,204.31 421.01,206.39 418.93,208.47 416.85,206.39" fill="#4c1f55"/>
<polygon points="427.79,205.77 429.87,207.85 427.79,209.94 425.71,207.85" fill="#4c1f55"/>
<polygon points="436.66,207.24 438.74,209.32 436.66,211.40 434.58,209.32" fill="#4c1f55"/>
<polygon points="445.52,208.70 447.60,210.78 445.52,212.87 443.44,210.78" fill="#4c1f55"/>
<polygon points="454.39,210.17 456.47,212.25 454.39,214.33 452.31,212.25" fill="#4c1f55"/>
<polygon points="463.25,212.37 465.33,214.45 463.25,216.53 461.17,214.45" fill="#4c1f55"/>
<polygon points="472.12,213.83 474.20,215.91 472.12,217.99 470.04,215.91" fill="#4c1f55"/>
<polygon points="480.98,221.89 483.06,223.97 480.98,226.05 478.90,223.97" fill="#4c1f55"/>
<polygon points="489.85,220.42 491.93,222.50 489.85,224.59 487.77,222.50" fill="#4c1f55"/>
<polyline points="413.80,202.92 418.93,204.19 419.61,204.37 420.52,204.60 421.60,204.89 422.81,205.20 424.08,205.52 425.37,205.84 426.62,206.14 427.79,206.39 428.90,206.61 430.01,206.81 431.12,206.99 432.23,207.17 433.33,207.34 434.44,207.51 435.55,207.68 436.66,207.85 437.77,208.04 438.87,208.24 439.98,208.44 441.09,208.63 442.20,208.82 443.31,209.01 444.42,209.17 445.52,209.32 446.63,209.44 447.74,209.54 448.85,209.62 449.96,209.69 451.06,209.76 452.17,209.84 453.28,209.93 454.39,210.05 455.50,210.21 456.60,210.38 457.71,210.58 458.82,210.78 459.93,210.99 461.04,211.19 462.15,211.36 463.25,211.52 464.36,211.63 465.47,211.72 466.58,211.78 467.69,211.84 468.79,211.90 469.90,211.98 471.01,212.09 472.12,212.25 473.23,212.45 474.34,212.68 475.44,212.93 476.55,213.21 477.66,213.51 478.77,213.81 479.88,214.13 480.98,214.45 482.15,214.80 483.41,215.20 484.70,215.62 485.97,216.05 487.17,216.46 488.26,216.83 489.17,217.15 489.85,217.38" fill="none" stroke="#1f3563" stroke-width="0.9" stroke-linejoin="round" />
<line x1="405.10" y1="208.22" x2="405.10" y2="211.88" stroke="#1f3563" stroke-width="0.7" />
<line x1="403.80" y1="208.22" x2="406.40" y2="208.22" stroke="#1f3563" stroke-width="0.7" />
<line x1="403.80" y1="211.88" x2="406.40" y2="211.88" stroke="#1f3563" stroke-width="0.7" />
<line x1="418.93" y1="202.03" x2="418.93" y2="206.35" stroke="#1f3563" stroke-width="0.7" />
<line x1="417.63" y1="202.03" x2="420.23" y2="202.03" stroke="#1f3563" stroke-width="0.7" />
<line x1="417.63" y1="206.35" x2="420.23" y2="206.35" stroke="#1f3563" stroke-width="0.7" />
<line x1="427.79" y1="203.90" x2="427.79" y2="208.88" stroke="#1f3563" stroke-width="0.7" />
<line x1="426.49" y1="203.90" x2="429.09" y2="203.90" stroke="#1f3563" stroke-width="0.7" />
<line x1="426.49" y1="208.88" x2="429.09" y2="208.88" stroke="#1f3563" stroke-width="0.7" />
<line x1="436.66" y1="205.03" x2="436.66" y2="210.68" stroke="#1f3563" stroke-width="0.7" />
<line x1="435.36" y1="205.03" x2="437.96" y2="205.03" stroke="#1f3563" stroke-width="0.7" />
<line x1="435.36" y1="210.68" x2="437.96" y2="210.68" stroke="#1f3563" stroke-width="0.7" />
<line x1="445.52" y1="206.17" x2="445.52" y2="212.47" stroke="#1f3563" stroke-width="0.7" />
<line x1="444.22" y1="206.17" x2="446.82" y2="206.17" stroke="#1f3563" stroke-width="0.7" />
<line x1="444.22" y1="212.47" x2="446.82" y2="212.47" stroke="#1f3563" stroke-width="0.7" />
<line x1="454.39" y1="206.57" x2="454.39" y2="213.53" stroke="#1f3563" stroke-width="0.7" />
<line x1="453.09" y1="206.57" x2="455.69" y2="206.57" stroke="#1f3563" stroke-width="0.7" />
<line x1="453.09" y1="213.53" x2="455.69" y2="213.53" stroke="#1f3563" stroke-width="0.7" />
<line x1="463.25" y1="207.71" x2="463.25" y2="215.33" stroke="#1f3563" stroke-width="0.7" />
<line x1="461.95" y1="207.71" x2="464.55" y2="207.71" stroke="#1f3563" stroke-width="0.7" />
<line x1="461.95" y1="215.33" x2="464.55" y2="215.33" stroke="#1f3563" stroke-width="0.7" />
<line x1="472.12" y1="208.11" x2="472.12" y2="216.39" stroke="#1f3563" stroke-width="0.7" />
<line x1="470.82" y1="208.11" x2="473.42" y2="208.11" stroke="#1f3563" stroke-width="0.7" />
<line x1="470.82" y1="216.39" x2="473.42" y2="216.39" stroke="#1f3563" stroke-width="0.7" />
<line x1="480.98" y1="209.98" x2="480.98" y2="218.92" stroke="#1f3563" stroke-width="0.7" />
<line x1="479.68" y1="209.98" x2="482.28" y2="209.98" stroke="#1f3563" stroke-width="0.7" />
<line x1="479.68" y1="218.92" x2="482.28" y2="218.92" stroke="#1f3563" stroke-width="0.7" />
<line x1="489.85" y1="212.58" x2="489.85" y2="222.18" stroke="#1f3563" stroke-width="0.7" />
<line x1="488.55" y1="212.58" x2="491.15" y2="212.58" stroke="#1f3563" stroke-width="0.7" />
<line x1="488.55" y1="222.18" x2="491.15" y2="222.18" stroke="#1f3563" stroke-width="0.7" />
<polygon points="405.10,211.97 407.02,208.52 403.18,208.52" fill="#1f3563"/>
<polygon points="418.93,206.11 420.85,202.66 417.01,202.66" fill="#1f3563"/>
<polygon points="427.79,208.31 429.71,204.85 425.87,204.85" fill="#1f3563"/>
<polygon points="436.66,209.77 438.58,206.32 434.74,206.32" fill="#1f3563"/>
<polygon points="445.52,211.24 447.44,207.78 443.60,207.78" fill="#1f3563"/>
<polygon points="454.39,211.97 456.31,208.52 452.47,208.52" fill="#1f3563"/>
<polygon points="463.25,213.44 465.17,209.98 461.33,209.98" fill="#1f3563"/>
<polygon points="472.12,214.17 474.04,210.71 470.20,210.71" fill="#1f3563"/>
<polygon points="480.98,216.37 482.90,212.91 479.06,212.91" fill="#1f3563"/>
<polygon points="489.85,219.30 491.77,215.84 487.93,215.84" fill="#1f3563"/>
<polyline points="413.80,205.18 418.93,206.02 419.61,206.14 420.52,206.29 421.60,206.47 422.81,206.66 424.08,206.87 425.37,207.09 426.62,207.30 427.79,207.49 428.90,207.67 430.01,207.85 431.12,208.02 432.23,208.20 433.33,208.38 434.44,208.56 435.55,208.75 436.66,208.95 437.77,209.17 438.87,209.41 439.98,209.66 441.09,209.92 442.20,210.16 443.31,210.40 444.42,210.61 445.52,210.78 446.63,210.92 447.74,211.03 448.85,211.11 449.96,211.17 451.06,211.24 452.17,211.31 453.28,211.40 454.39,211.52 455.50,211.67 456.60,211.83 457.71,212.01 458.82,212.20 459.93,212.40 461.04,212.60 462.15,212.79 463.25,212.98 464.36,213.16 465.47,213.32 466.58,213.48 467.69,213.65 468.79,213.82 469.90,214.00 471.01,214.21 472.12,214.45 473.23,214.71 474.34,215.00 475.44,215.31 476.55,215.64 477.66,215.97 478.77,216.32 479.88,216.67 480.98,217.01 482.15,217.38 483.41,217.79 484.70,218.21 485.97,218.64 487.17,219.04 488.26,219.41 489.17,219.71 489.85,219.94" fill="none" stroke="#a3173f" stroke-width="1.7" stroke-linejoin="round" />
<line x1="405.10" y1="204.56" x2="405.10" y2="208.22" stroke="#a3173f" stroke-width="0.7" />
<line x1="403.80" y1="204.56" x2="406.40" y2="204.56" stroke="#a3173f" stroke-width="0.7" />
<line x1="403.80" y1="208.22" x2="406.40" y2="208.22" stroke="#a3173f" stroke-width="0.7" />
<line x1="418.93" y1="203.86" x2="418.93" y2="208.18" stroke="#a3173f" stroke-width="0.7" />
<line x1="417.63" y1="203.86" x2="420.23" y2="203.86" stroke="#a3173f" stroke-width="0.7" />
<line x1="417.63" y1="208.18" x2="420.23" y2="208.18" stroke="#a3173f" stroke-width="0.7" />
<line x1="427.79" y1="205.00" x2="427.79" y2="209.98" stroke="#a3173f" stroke-width="0.7" />
<line x1="426.49" y1="205.00" x2="429.09" y2="205.00" stroke="#a3173f" stroke-width="0.7" />
<line x1="426.49" y1="209.98" x2="429.09" y2="209.98" stroke="#a3173f" stroke-width="0.7" />
<line x1="436.66" y1="206.13" x2="436.66" y2="211.77" stroke="#a3173f" stroke-width="0.7" />
<line x1="435.36" y1="206.13" x2="437.96" y2="206.13" stroke="#a3173f" stroke-width="0.7" />
<line x1="435.36" y1="211.77" x2="437.96" y2="211.77" stroke="#a3173f" stroke-width="0.7" />
<line x1="445.52" y1="207.64" x2="445.52" y2="213.93" stroke="#a3173f" stroke-width="0.7" />
<line x1="444.22" y1="207.64" x2="446.82" y2="207.64" stroke="#a3173f" stroke-width="0.7" />
<line x1="444.22" y1="213.93" x2="446.82" y2="213.93" stroke="#a3173f" stroke-width="0.7" />
<line x1="454.39" y1="208.04" x2="454.39" y2="215.00" stroke="#a3173f" stroke-width="0.7" />
<line x1="453.09" y1="208.04" x2="455.69" y2="208.04" stroke="#a3173f" stroke-width="0.7" />
<line x1="453.09" y1="215.00" x2="455.69" y2="215.00" stroke="#a3173f" stroke-width="0.7" />
<line x1="463.25" y1="209.17" x2="463.25" y2="216.79" stroke="#a3173f" stroke-width="0.7" />
<line x1="461.95" y1="209.17" x2="464.55" y2="209.17" stroke="#a3173f" stroke-width="0.7" />
<line x1="461.95" y1="216.79" x2="464.55" y2="216.79" stroke="#a3173f" stroke-width="0.7" />
<line x1="472.12" y1="210.31" x2="472.12" y2="218.59" stroke="#a3173f" stroke-width="0.7" />
<line x1="470.82" y1="210.31" x2="473.42" y2="210.31" stroke="#a3173f" stroke-width="0.7" />
<line x1="470.82" y1="218.59" x2="473.42" y2="218.59" stroke="#a3173f" stroke-width="0.7" />
<line x1="480.98" y1="212.54" x2="480.98" y2="221.48" stroke="#a3173f" stroke-width="0.7" />
<line x1="479.68" y1="212.54" x2="482.28" y2="212.54" stroke="#a3173f" stroke-width="0.7" />
<line x1="479.68" y1="221.48" x2="482.28" y2="221.48" stroke="#a3173f" stroke-width="0.7" />
<line x1="489.85" y1="215.14" x2="489.85" y2="224.74" stroke="#a3173f" stroke-width="0.7" />
<line x1="488.55" y1="215.14" x2="491.15" y2="215.14" stroke="#a3173f" stroke-width="0.7" />
<line x1="488.55" y1="224.74" x2="491.15" y2="224.74" stroke="#a3173f" stroke-width="0.7" />
<polygon points="405.10,208.31 407.02,204.85 403.18,204.85" fill="#a3173f"/>
<polygon points="418.93,207.94 420.85,204.49 417.01,204.49" fill="#a3173f"/>
<polygon points="427.79,209.41 429.71,205.95 425.87,205.95" fill="#a3173f"/>
<polygon points="436.66,210.87 438.58,207.42 434.74,207.42" fill="#a3173f"/>
<polygon points="445.52,212.70 447.44,209.25 443.60,209.25" fill="#a3173f"/>
<polygon points="454.39,213.44 456.31,209.98 452.47,209.98" fill="#a3173f"/>
<polygon points="463.25,214.90 465.17,211.45 461.33,211.45" fill="#a3173f"/>
<polygon points="472.12,216.37 474.04,212.91 470.20,212.91" fill="#a3173f"/>
<polygon points="480.98,218.93 482.90,215.48 479.06,215.48" fill="#a3173f"/>
<polygon points="489.85,221.86 491.77,218.41 487.93,218.41" fill="#a3173f"/>
<text x="403.80" y="337.80" font-size="6.2" fill="#222" font-weight="bold" >VEN, μM</text>
<line x1="437.70" y1="336.00" x2="444.10" y2="336.00" stroke="#1f3563" stroke-width="0.9" />
<polygon points="440.90,337.92 442.82,334.46 438.98,334.46" fill="#1f3563"/>
<text x="447.10" y="338.30" font-size="6.4" fill="#444" >0.031</text>
<line x1="472.90" y1="336.00" x2="479.30" y2="336.00" stroke="#47aedc" stroke-width="0.9" />
<polygon points="476.10,334.08 478.02,337.54 474.18,337.54" fill="#47aedc"/>
<text x="482.30" y="338.30" font-size="6.4" fill="#444" >0.25</text>
<line x1="404.10" y1="344.40" x2="410.50" y2="344.40" stroke="#f39a2b" stroke-width="0.9" />
<circle cx="407.30" cy="344.40" r="1.80" fill="#f39a2b"/>
<text x="413.50" y="346.70" font-size="6.4" fill="#444" >0</text>
<line x1="437.70" y1="344.40" x2="444.10" y2="344.40" stroke="#4c1f55" stroke-width="0.9" />
<polygon points="440.90,342.32 442.98,344.40 440.90,346.48 438.82,344.40" fill="#4c1f55"/>
<text x="447.10" y="346.70" font-size="6.4" fill="#444" >0.063</text>
<line x1="472.90" y1="344.40" x2="479.30" y2="344.40" stroke="#c0102c" stroke-width="0.9" />
<polygon points="476.10,346.32 478.02,342.86 474.18,342.86" fill="#c0102c"/>
<text x="482.30" y="346.70" font-size="6.4" fill="#444" >0.5</text>
<line x1="404.10" y1="353.20" x2="410.50" y2="353.20" stroke="#3d9e3d" stroke-width="0.9" />
<polygon points="407.30,351.12 409.38,353.20 407.30,355.28 405.22,353.20" fill="#3d9e3d"/>
<text x="413.50" y="355.50" font-size="6.4" fill="#444" >0.016</text>
<line x1="437.70" y1="353.20" x2="444.10" y2="353.20" stroke="#a39ad8" stroke-width="0.9" />
<polygon points="440.90,351.28 442.82,354.74 438.98,354.74" fill="#a39ad8"/>
<text x="447.10" y="355.50" font-size="6.4" fill="#444" >0.125</text>
<line x1="472.90" y1="353.20" x2="479.30" y2="353.20" stroke="#c3cc95" stroke-width="0.9" />
<polygon points="476.10,351.28 478.02,354.74 474.18,354.74" fill="#c3cc95"/>
<text x="482.30" y="355.50" font-size="6.4" fill="#444" >1</text>
<text x="6.70" y="380.70" font-size="11.8" fill="#111" font-weight="bold" style="stroke:#111;stroke-width:0.5px" >F</text>
<text x="115.20" y="382.50" font-size="8.8" fill="#222" text-anchor="middle" >MV-4-11</text>
<line x1="62.10" y1="388.20" x2="62.10" y2="488.40" stroke="#2a2a2a" stroke-width="1.2" />
<line x1="58.80" y1="486.00" x2="62.10" y2="486.00" stroke="#2a2a2a" stroke-width="1" />
<text x="55.40" y="488.30" font-size="6.4" fill="#444" text-anchor="end" >0</text>
<line x1="58.80" y1="462.10" x2="62.10" y2="462.10" stroke="#2a2a2a" stroke-width="1" />
<text x="55.40" y="464.40" font-size="6.4" fill="#444" text-anchor="end" >500</text>
<line x1="58.80" y1="438.20" x2="62.10" y2="438.20" stroke="#2a2a2a" stroke-width="1" />
<text x="55.40" y="440.50" font-size="6.4" fill="#444" text-anchor="end" >1000</text>
<line x1="58.80" y1="414.30" x2="62.10" y2="414.30" stroke="#2a2a2a" stroke-width="1" />
<text x="55.40" y="416.60" font-size="6.4" fill="#444" text-anchor="end" >1500</text>
<line x1="58.80" y1="390.40" x2="62.10" y2="390.40" stroke="#2a2a2a" stroke-width="1" />
<text x="55.40" y="392.70" font-size="6.4" fill="#444" text-anchor="end" >2000</text>
<line x1="66.00" y1="494.00" x2="175.50" y2="494.00" stroke="#2a2a2a" stroke-width="1.2" />
<line x1="69.00" y1="494.00" x2="69.00" y2="496.80" stroke="#2a2a2a" stroke-width="1" />
<text x="69.00" y="505.00" font-size="6.4" fill="#444" text-anchor="middle" >10</text>
<line x1="86.40" y1="494.00" x2="86.40" y2="496.80" stroke="#2a2a2a" stroke-width="1" />
<text x="86.40" y="505.00" font-size="6.4" fill="#444" text-anchor="middle" >20</text>
<line x1="103.80" y1="494.00" x2="103.80" y2="496.80" stroke="#2a2a2a" stroke-width="1" />
<text x="103.80" y="505.00" font-size="6.4" fill="#444" text-anchor="middle" >30</text>
<line x1="121.20" y1="494.00" x2="121.20" y2="496.80" stroke="#2a2a2a" stroke-width="1" />
<text x="121.20" y="505.00" font-size="6.4" fill="#444" text-anchor="middle" >40</text>
<line x1="138.60" y1="494.00" x2="138.60" y2="496.80" stroke="#2a2a2a" stroke-width="1" />
<text x="138.60" y="505.00" font-size="6.4" fill="#444" text-anchor="middle" >50</text>
<line x1="156.00" y1="494.00" x2="156.00" y2="496.80" stroke="#2a2a2a" stroke-width="1" />
<text x="156.00" y="505.00" font-size="6.4" fill="#444" text-anchor="middle" >60</text>
<line x1="173.40" y1="494.00" x2="173.40" y2="496.80" stroke="#2a2a2a" stroke-width="1" />
<text x="173.40" y="505.00" font-size="6.4" fill="#444" text-anchor="middle" >70</text>
<text x="106.00" y="518.00" font-size="9.2" fill="#333" textLength="29.8" lengthAdjust="spacingAndGlyphs" >Study day</text>
<text x="34.8" y="439.15" font-size="8.8" fill="#333" text-anchor="middle" textLength="64" lengthAdjust="spacingAndGlyphs" transform="rotate(-90 34.8 439.15)">Tumor volume, mm<tspan dy="-3.4" font-size="5.6">3</tspan></text>
<polyline points="77.70,474.72 84.66,481.41 89.88,482.99 95.10,482.99 100.32,483.99 107.28,483.99 112.50,483.99 119.46,483.32 124.68,482.51 133.38,479.74 138.60,477.68 143.82,475.20 149.04,471.18 156.00,464.63 161.22,457.56 169.92,441.21" fill="none" stroke="#1f4a80" stroke-width="0.9" stroke-linejoin="round" />
<line x1="84.66" y1="480.93" x2="84.66" y2="481.89" stroke="#1f4a80" stroke-width="0.7" />
<line x1="83.26" y1="480.93" x2="86.06" y2="480.93" stroke="#1f4a80" stroke-width="0.7" />
<line x1="83.26" y1="481.89" x2="86.06" y2="481.89" stroke="#1f4a80" stroke-width="0.7" />
<line x1="89.88" y1="482.61" x2="89.88" y2="483.37" stroke="#1f4a80" stroke-width="0.7" />
<line x1="88.48" y1="482.61" x2="91.28" y2="482.61" stroke="#1f4a80" stroke-width="0.7" />
<line x1="88.48" y1="483.37" x2="91.28" y2="483.37" stroke="#1f4a80" stroke-width="0.7" />
<line x1="95.10" y1="482.61" x2="95.10" y2="483.37" stroke="#1f4a80" stroke-width="0.7" />
<line x1="93.70" y1="482.61" x2="96.50" y2="482.61" stroke="#1f4a80" stroke-width="0.7" />
<line x1="93.70" y1="483.37" x2="96.50" y2="483.37" stroke="#1f4a80" stroke-width="0.7" />
<line x1="100.32" y1="483.75" x2="100.32" y2="484.23" stroke="#1f4a80" stroke-width="0.7" />
<line x1="98.92" y1="483.75" x2="101.72" y2="483.75" stroke="#1f4a80" stroke-width="0.7" />
<line x1="98.92" y1="484.23" x2="101.72" y2="484.23" stroke="#1f4a80" stroke-width="0.7" />
<line x1="107.28" y1="483.75" x2="107.28" y2="484.23" stroke="#1f4a80" stroke-width="0.7" />
<line x1="105.88" y1="483.75" x2="108.68" y2="483.75" stroke="#1f4a80" stroke-width="0.7" />
<line x1="105.88" y1="484.23" x2="108.68" y2="484.23" stroke="#1f4a80" stroke-width="0.7" />
<line x1="112.50" y1="483.75" x2="112.50" y2="484.23" stroke="#1f4a80" stroke-width="0.7" />
<line x1="111.10" y1="483.75" x2="113.90" y2="483.75" stroke="#1f4a80" stroke-width="0.7" />
<line x1="111.10" y1="484.23" x2="113.90" y2="484.23" stroke="#1f4a80" stroke-width="0.7" />
<line x1="119.46" y1="482.94" x2="119.46" y2="483.71" stroke="#1f4a80" stroke-width="0.7" />
<line x1="118.06" y1="482.94" x2="120.86" y2="482.94" stroke="#1f4a80" stroke-width="0.7" />
<line x1="118.06" y1="483.71" x2="120.86" y2="483.71" stroke="#1f4a80" stroke-width="0.7" />
<line x1="124.68" y1="482.03" x2="124.68" y2="482.99" stroke="#1f4a80" stroke-width="0.7" />
<line x1="123.28" y1="482.03" x2="126.08" y2="482.03" stroke="#1f4a80" stroke-width="0.7" />
<line x1="123.28" y1="482.99" x2="126.08" y2="482.99" stroke="#1f4a80" stroke-width="0.7" />
<line x1="133.38" y1="476.87" x2="133.38" y2="482.61" stroke="#1f4a80" stroke-width="0.7" />
<line x1="131.98" y1="476.87" x2="134.78" y2="476.87" stroke="#1f4a80" stroke-width="0.7" />
<line x1="131.98" y1="482.61" x2="134.78" y2="482.61" stroke="#1f4a80" stroke-width="0.7" />
<line x1="138.60" y1="474.34" x2="138.60" y2="481.03" stroke="#1f4a80" stroke-width="0.7" />
<line x1="137.20" y1="474.34" x2="140.00" y2="474.34" stroke="#1f4a80" stroke-width="0.7" />
<line x1="137.20" y1="481.03" x2="140.00" y2="481.03" stroke="#1f4a80" stroke-width="0.7" />
<line x1="143.82" y1="471.37" x2="143.82" y2="479.02" stroke="#1f4a80" stroke-width="0.7" />
<line x1="142.42" y1="471.37" x2="145.22" y2="471.37" stroke="#1f4a80" stroke-width="0.7" />
<line x1="142.42" y1="479.02" x2="145.22" y2="479.02" stroke="#1f4a80" stroke-width="0.7" />
<line x1="149.04" y1="466.40" x2="149.04" y2="475.96" stroke="#1f4a80" stroke-width="0.7" />
<line x1="147.64" y1="466.40" x2="150.44" y2="466.40" stroke="#1f4a80" stroke-width="0.7" />
<line x1="147.64" y1="475.96" x2="150.44" y2="475.96" stroke="#1f4a80" stroke-width="0.7" />
<line x1="156.00" y1="457.94" x2="156.00" y2="471.33" stroke="#1f4a80" stroke-width="0.7" />
<line x1="154.60" y1="457.94" x2="157.40" y2="457.94" stroke="#1f4a80" stroke-width="0.7" />
<line x1="154.60" y1="471.33" x2="157.40" y2="471.33" stroke="#1f4a80" stroke-width="0.7" />
<line x1="161.22" y1="448.00" x2="161.22" y2="467.12" stroke="#1f4a80" stroke-width="0.7" />
<line x1="159.82" y1="448.00" x2="162.62" y2="448.00" stroke="#1f4a80" stroke-width="0.7" />
<line x1="159.82" y1="467.12" x2="162.62" y2="467.12" stroke="#1f4a80" stroke-width="0.7" />
<line x1="169.92" y1="424.48" x2="169.92" y2="457.94" stroke="#1f4a80" stroke-width="0.7" />
<line x1="168.52" y1="424.48" x2="171.32" y2="424.48" stroke="#1f4a80" stroke-width="0.7" />
<line x1="168.52" y1="457.94" x2="171.32" y2="457.94" stroke="#1f4a80" stroke-width="0.7" />
<polygon points="77.70,476.64 79.62,473.18 75.78,473.18" fill="#1f4a80"/>
<polygon points="84.66,483.33 86.58,479.88 82.74,479.88" fill="#1f4a80"/>
<polygon points="89.88,484.91 91.80,481.45 87.96,481.45" fill="#1f4a80"/>
<polygon points="95.10,484.91 97.02,481.45 93.18,481.45" fill="#1f4a80"/>
<polygon points="100.32,485.91 102.24,482.46 98.40,482.46" fill="#1f4a80"/>
<polygon points="107.28,485.91 109.20,482.46 105.36,482.46" fill="#1f4a80"/>
<polygon points="112.50,485.91 114.42,482.46 110.58,482.46" fill="#1f4a80"/>
<polygon points="119.46,485.24 121.38,481.79 117.54,481.79" fill="#1f4a80"/>
<polygon points="124.68,484.43 126.60,480.97 122.76,480.97" fill="#1f4a80"/>
<polygon points="133.38,481.66 135.30,478.20 131.46,478.20" fill="#1f4a80"/>
<polygon points="138.60,479.60 140.52,476.15 136.68,476.15" fill="#1f4a80"/>
<polygon points="143.82,477.12 145.74,473.66 141.90,473.66" fill="#1f4a80"/>
<polygon points="149.04,473.10 150.96,469.65 147.12,469.65" fill="#1f4a80"/>
<polygon points="156.00,466.55 157.92,463.10 154.08,463.10" fill="#1f4a80"/>
<polygon points="161.22,459.48 163.14,456.02 159.30,456.02" fill="#1f4a80"/>
<polygon points="169.92,443.13 171.84,439.68 168.00,439.68" fill="#1f4a80"/>
<polyline points="77.70,474.72 84.66,479.40 89.88,479.40 95.10,478.59 100.32,477.01 107.28,469.22 112.50,464.92 119.46,456.79 124.68,449.00 133.38,430.22 138.60,408.71" fill="none" stroke="#f39a2b" stroke-width="0.9" stroke-linejoin="round" />
<line x1="84.66" y1="478.69" x2="84.66" y2="480.12" stroke="#f39a2b" stroke-width="0.7" />
<line x1="83.26" y1="478.69" x2="86.06" y2="478.69" stroke="#f39a2b" stroke-width="0.7" />
<line x1="83.26" y1="480.12" x2="86.06" y2="480.12" stroke="#f39a2b" stroke-width="0.7" />
<line x1="89.88" y1="478.69" x2="89.88" y2="480.12" stroke="#f39a2b" stroke-width="0.7" />
<line x1="88.48" y1="478.69" x2="91.28" y2="478.69" stroke="#f39a2b" stroke-width="0.7" />
<line x1="88.48" y1="480.12" x2="91.28" y2="480.12" stroke="#f39a2b" stroke-width="0.7" />
<line x1="95.10" y1="477.63" x2="95.10" y2="479.55" stroke="#f39a2b" stroke-width="0.7" />
<line x1="93.70" y1="477.63" x2="96.50" y2="477.63" stroke="#f39a2b" stroke-width="0.7" />
<line x1="93.70" y1="479.55" x2="96.50" y2="479.55" stroke="#f39a2b" stroke-width="0.7" />
<line x1="100.32" y1="476.06" x2="100.32" y2="477.97" stroke="#f39a2b" stroke-width="0.7" />
<line x1="98.92" y1="476.06" x2="101.72" y2="476.06" stroke="#f39a2b" stroke-width="0.7" />
<line x1="98.92" y1="477.97" x2="101.72" y2="477.97" stroke="#f39a2b" stroke-width="0.7" />
<line x1="107.28" y1="467.31" x2="107.28" y2="471.13" stroke="#f39a2b" stroke-width="0.7" />
<line x1="105.88" y1="467.31" x2="108.68" y2="467.31" stroke="#f39a2b" stroke-width="0.7" />
<line x1="105.88" y1="471.13" x2="108.68" y2="471.13" stroke="#f39a2b" stroke-width="0.7" />
<line x1="112.50" y1="462.53" x2="112.50" y2="467.31" stroke="#f39a2b" stroke-width="0.7" />
<line x1="111.10" y1="462.53" x2="113.90" y2="462.53" stroke="#f39a2b" stroke-width="0.7" />
<line x1="111.10" y1="467.31" x2="113.90" y2="467.31" stroke="#f39a2b" stroke-width="0.7" />
<line x1="119.46" y1="453.93" x2="119.46" y2="459.66" stroke="#f39a2b" stroke-width="0.7" />
<line x1="118.06" y1="453.93" x2="120.86" y2="453.93" stroke="#f39a2b" stroke-width="0.7" />
<line x1="118.06" y1="459.66" x2="120.86" y2="459.66" stroke="#f39a2b" stroke-width="0.7" />
<line x1="124.68" y1="444.70" x2="124.68" y2="453.30" stroke="#f39a2b" stroke-width="0.7" />
<line x1="123.28" y1="444.70" x2="126.08" y2="444.70" stroke="#f39a2b" stroke-width="0.7" />
<line x1="123.28" y1="453.30" x2="126.08" y2="453.30" stroke="#f39a2b" stroke-width="0.7" />
<line x1="133.38" y1="421.61" x2="133.38" y2="438.82" stroke="#f39a2b" stroke-width="0.7" />
<line x1="131.98" y1="421.61" x2="134.78" y2="421.61" stroke="#f39a2b" stroke-width="0.7" />
<line x1="131.98" y1="438.82" x2="134.78" y2="438.82" stroke="#f39a2b" stroke-width="0.7" />
<line x1="138.60" y1="397.24" x2="138.60" y2="420.18" stroke="#f39a2b" stroke-width="0.7" />
<line x1="137.20" y1="397.24" x2="140.00" y2="397.24" stroke="#f39a2b" stroke-width="0.7" />
<line x1="137.20" y1="420.18" x2="140.00" y2="420.18" stroke="#f39a2b" stroke-width="0.7" />
<rect x="76.00" y="473.02" width="3.40" height="3.40" fill="#f39a2b"/>
<rect x="82.96" y="477.70" width="3.40" height="3.40" fill="#f39a2b"/>
<rect x="88.18" y="477.70" width="3.40" height="3.40" fill="#f39a2b"/>
<rect x="93.40" y="476.89" width="3.40" height="3.40" fill="#f39a2b"/>
<rect x="98.62" y="475.31" width="3.40" height="3.40" fill="#f39a2b"/>
<rect x="105.58" y="467.52" width="3.40" height="3.40" fill="#f39a2b"/>
<rect x="110.80" y="463.22" width="3.40" height="3.40" fill="#f39a2b"/>
<rect x="117.76" y="455.09" width="3.40" height="3.40" fill="#f39a2b"/>
<rect x="122.98" y="447.30" width="3.40" height="3.40" fill="#f39a2b"/>
<rect x="131.68" y="428.52" width="3.40" height="3.40" fill="#f39a2b"/>
<rect x="136.90" y="407.01" width="3.40" height="3.40" fill="#f39a2b"/>
<polyline points="77.70,474.72 84.66,470.51 89.88,465.30 95.10,459.61 100.32,453.59 107.28,435.19 112.50,413.92" fill="none" stroke="#4aa5de" stroke-width="0.9" stroke-linejoin="round" />
<line x1="84.66" y1="469.80" x2="84.66" y2="471.23" stroke="#4aa5de" stroke-width="0.7" />
<line x1="83.26" y1="469.80" x2="86.06" y2="469.80" stroke="#4aa5de" stroke-width="0.7" />
<line x1="83.26" y1="471.23" x2="86.06" y2="471.23" stroke="#4aa5de" stroke-width="0.7" />
<line x1="89.88" y1="464.35" x2="89.88" y2="466.26" stroke="#4aa5de" stroke-width="0.7" />
<line x1="88.48" y1="464.35" x2="91.28" y2="464.35" stroke="#4aa5de" stroke-width="0.7" />
<line x1="88.48" y1="466.26" x2="91.28" y2="466.26" stroke="#4aa5de" stroke-width="0.7" />
<line x1="95.10" y1="458.18" x2="95.10" y2="461.05" stroke="#4aa5de" stroke-width="0.7" />
<line x1="93.70" y1="458.18" x2="96.50" y2="458.18" stroke="#4aa5de" stroke-width="0.7" />
<line x1="93.70" y1="461.05" x2="96.50" y2="461.05" stroke="#4aa5de" stroke-width="0.7" />
<line x1="100.32" y1="451.68" x2="100.32" y2="455.50" stroke="#4aa5de" stroke-width="0.7" />
<line x1="98.92" y1="451.68" x2="101.72" y2="451.68" stroke="#4aa5de" stroke-width="0.7" />
<line x1="98.92" y1="455.50" x2="101.72" y2="455.50" stroke="#4aa5de" stroke-width="0.7" />
<line x1="107.28" y1="431.36" x2="107.28" y2="439.01" stroke="#4aa5de" stroke-width="0.7" />
<line x1="105.88" y1="431.36" x2="108.68" y2="431.36" stroke="#4aa5de" stroke-width="0.7" />
<line x1="105.88" y1="439.01" x2="108.68" y2="439.01" stroke="#4aa5de" stroke-width="0.7" />
<line x1="112.50" y1="409.62" x2="112.50" y2="418.22" stroke="#4aa5de" stroke-width="0.7" />
<line x1="111.10" y1="409.62" x2="113.90" y2="409.62" stroke="#4aa5de" stroke-width="0.7" />
<line x1="111.10" y1="418.22" x2="113.90" y2="418.22" stroke="#4aa5de" stroke-width="0.7" />
<circle cx="77.70" cy="474.72" r="1.70" fill="#4aa5de"/>
<circle cx="84.66" cy="470.51" r="1.70" fill="#4aa5de"/>
<circle cx="89.88" cy="465.30" r="1.70" fill="#4aa5de"/>
<circle cx="95.10" cy="459.61" r="1.70" fill="#4aa5de"/>
<circle cx="100.32" cy="453.59" r="1.70" fill="#4aa5de"/>
<circle cx="107.28" cy="435.19" r="1.70" fill="#4aa5de"/>
<circle cx="112.50" cy="413.92" r="1.70" fill="#4aa5de"/>
<polyline points="77.70,474.72 84.66,473.91 89.88,469.99 95.10,463.01 100.32,455.98 107.28,439.59 112.50,420.90" fill="none" stroke="#3fa447" stroke-width="0.9" stroke-linejoin="round" />
<line x1="84.66" y1="473.19" x2="84.66" y2="474.62" stroke="#3fa447" stroke-width="0.7" />
<line x1="83.26" y1="473.19" x2="86.06" y2="473.19" stroke="#3fa447" stroke-width="0.7" />
<line x1="83.26" y1="474.62" x2="86.06" y2="474.62" stroke="#3fa447" stroke-width="0.7" />
<line x1="89.88" y1="469.03" x2="89.88" y2="470.94" stroke="#3fa447" stroke-width="0.7" />
<line x1="88.48" y1="469.03" x2="91.28" y2="469.03" stroke="#3fa447" stroke-width="0.7" />
<line x1="88.48" y1="470.94" x2="91.28" y2="470.94" stroke="#3fa447" stroke-width="0.7" />
<line x1="95.10" y1="461.57" x2="95.10" y2="464.44" stroke="#3fa447" stroke-width="0.7" />
<line x1="93.70" y1="461.57" x2="96.50" y2="461.57" stroke="#3fa447" stroke-width="0.7" />
<line x1="93.70" y1="464.44" x2="96.50" y2="464.44" stroke="#3fa447" stroke-width="0.7" />
<line x1="100.32" y1="454.07" x2="100.32" y2="457.89" stroke="#3fa447" stroke-width="0.7" />
<line x1="98.92" y1="454.07" x2="101.72" y2="454.07" stroke="#3fa447" stroke-width="0.7" />
<line x1="98.92" y1="457.89" x2="101.72" y2="457.89" stroke="#3fa447" stroke-width="0.7" />
<line x1="107.28" y1="436.24" x2="107.28" y2="442.93" stroke="#3fa447" stroke-width="0.7" />
<line x1="105.88" y1="436.24" x2="108.68" y2="436.24" stroke="#3fa447" stroke-width="0.7" />
<line x1="105.88" y1="442.93" x2="108.68" y2="442.93" stroke="#3fa447" stroke-width="0.7" />
<line x1="112.50" y1="415.64" x2="112.50" y2="426.15" stroke="#3fa447" stroke-width="0.7" />
<line x1="111.10" y1="415.64" x2="113.90" y2="415.64" stroke="#3fa447" stroke-width="0.7" />
<line x1="111.10" y1="426.15" x2="113.90" y2="426.15" stroke="#3fa447" stroke-width="0.7" />
<polygon points="77.70,472.68 79.74,476.35 75.66,476.35" fill="#3fa447"/>
<polygon points="84.66,471.87 86.70,475.54 82.62,475.54" fill="#3fa447"/>
<polygon points="89.88,467.95 91.92,471.62 87.84,471.62" fill="#3fa447"/>
<polygon points="95.10,460.97 97.14,464.64 93.06,464.64" fill="#3fa447"/>
<polygon points="100.32,453.94 102.36,457.61 98.28,457.61" fill="#3fa447"/>
<polygon points="107.28,437.55 109.32,441.22 105.24,441.22" fill="#3fa447"/>
<polygon points="112.50,418.86 114.54,422.53 110.46,422.53" fill="#3fa447"/>
<line x1="185.40" y1="425.50" x2="193.00" y2="425.50" stroke="#4aa5de" stroke-width="1.0" />
<circle cx="189.20" cy="425.50" r="1.70" fill="#4aa5de"/>
<text x="197.60" y="427.70" font-size="6.3" fill="#444" >Vehicle</text>
<line x1="185.40" y1="434.10" x2="193.00" y2="434.10" stroke="#f39a2b" stroke-width="1.0" />
<rect x="187.50" y="432.40" width="3.40" height="3.40" fill="#f39a2b"/>
<text x="197.60" y="436.30" font-size="6.3" fill="#444" >Eftoza</text>
<line x1="185.40" y1="442.60" x2="193.00" y2="442.60" stroke="#3fa447" stroke-width="1.0" />
<polygon points="189.20,440.56 191.24,444.23 187.16,444.23" fill="#3fa447"/>
<text x="197.60" y="444.80" font-size="6.3" fill="#444" >VEN</text>
<line x1="185.40" y1="451.30" x2="193.00" y2="451.30" stroke="#1f4a80" stroke-width="1.0" />
<polygon points="189.20,453.34 191.24,449.67 187.16,449.67" fill="#1f4a80"/>
<text x="197.60" y="453.50" font-size="6.3" fill="#444" >Eftoza + VEN</text>
<text x="247.60" y="380.70" font-size="11.8" fill="#111" font-weight="bold" style="stroke:#111;stroke-width:0.5px" >G</text>
<text x="356.00" y="382.50" font-size="8.8" fill="#222" text-anchor="middle" >OCI-AML2</text>
<line x1="297.40" y1="387.60" x2="297.40" y2="488.30" stroke="#2a2a2a" stroke-width="1.2" />
<line x1="294.10" y1="485.75" x2="297.40" y2="485.75" stroke="#2a2a2a" stroke-width="1" />
<text x="290.90" y="487.95" font-size="6.4" fill="#444" text-anchor="end" >0</text>
<line x1="294.10" y1="472.07" x2="297.40" y2="472.07" stroke="#2a2a2a" stroke-width="1" />
<text x="290.90" y="474.27" font-size="6.4" fill="#444" text-anchor="end" >500</text>
<line x1="294.10" y1="458.39" x2="297.40" y2="458.39" stroke="#2a2a2a" stroke-width="1" />
<text x="290.90" y="460.59" font-size="6.4" fill="#444" text-anchor="end" >1000</text>
<line x1="294.10" y1="444.71" x2="297.40" y2="444.71" stroke="#2a2a2a" stroke-width="1" />
<text x="290.90" y="446.91" font-size="6.4" fill="#444" text-anchor="end" >1500</text>
<line x1="294.10" y1="431.03" x2="297.40" y2="431.03" stroke="#2a2a2a" stroke-width="1" />
<text x="290.90" y="433.23" font-size="6.4" fill="#444" text-anchor="end" >2000</text>
<line x1="294.10" y1="417.35" x2="297.40" y2="417.35" stroke="#2a2a2a" stroke-width="1" />
<text x="290.90" y="419.55" font-size="6.4" fill="#444" text-anchor="end" >2500</text>
<line x1="294.10" y1="403.67" x2="297.40" y2="403.67" stroke="#2a2a2a" stroke-width="1" />
<text x="290.90" y="405.87" font-size="6.4" fill="#444" text-anchor="end" >3000</text>
<line x1="294.10" y1="389.99" x2="297.40" y2="389.99" stroke="#2a2a2a" stroke-width="1" />
<text x="290.90" y="392.19" font-size="6.4" fill="#444" text-anchor="end" >3500</text>
<line x1="301.20" y1="493.30" x2="409.00" y2="493.30" stroke="#2a2a2a" stroke-width="1.2" />
<line x1="305.00" y1="493.30" x2="305.00" y2="496.10" stroke="#2a2a2a" stroke-width="1" />
<text x="305.00" y="505.00" font-size="6.4" fill="#444" text-anchor="middle" >0</text>
<line x1="325.30" y1="493.30" x2="325.30" y2="496.10" stroke="#2a2a2a" stroke-width="1" />
<text x="325.30" y="505.00" font-size="6.4" fill="#444" text-anchor="middle" >10</text>
<line x1="345.60" y1="493.30" x2="345.60" y2="496.10" stroke="#2a2a2a" stroke-width="1" />
<text x="345.60" y="505.00" font-size="6.4" fill="#444" text-anchor="middle" >20</text>
<line x1="365.90" y1="493.30" x2="365.90" y2="496.10" stroke="#2a2a2a" stroke-width="1" />
<text x="365.90" y="505.00" font-size="6.4" fill="#444" text-anchor="middle" >30</text>
<line x1="386.20" y1="493.30" x2="386.20" y2="496.10" stroke="#2a2a2a" stroke-width="1" />
<text x="386.20" y="505.00" font-size="6.4" fill="#444" text-anchor="middle" >40</text>
<line x1="406.50" y1="493.30" x2="406.50" y2="496.10" stroke="#2a2a2a" stroke-width="1" />
<text x="406.50" y="505.00" font-size="6.4" fill="#444" text-anchor="middle" >50</text>
<text x="340.60" y="518.00" font-size="9.2" fill="#333" textLength="29.8" lengthAdjust="spacingAndGlyphs" >Study day</text>
<text x="270.1" y="438.1" font-size="8.8" fill="#333" text-anchor="middle" textLength="62.2" lengthAdjust="spacingAndGlyphs" transform="rotate(-90 270.1 438.1)">Tumor volume, mm<tspan dy="-3.4" font-size="5.6">3</tspan></text>
<polyline points="321.24,478.61 331.39,483.01 337.48,482.00 343.57,483.59 349.66,483.59 357.78,484.49 363.87,483.29 371.99,484.00 378.08,484.00 386.20,484.49 392.29,484.00 400.41,484.49 408.53,484.25" fill="none" stroke="#1f4a80" stroke-width="0.9" stroke-linejoin="round" />
<line x1="331.39" y1="482.47" x2="331.39" y2="483.56" stroke="#1f4a80" stroke-width="0.7" />
<line x1="329.99" y1="482.47" x2="332.79" y2="482.47" stroke="#1f4a80" stroke-width="0.7" />
<line x1="329.99" y1="483.56" x2="332.79" y2="483.56" stroke="#1f4a80" stroke-width="0.7" />
<line x1="337.48" y1="481.45" x2="337.48" y2="482.55" stroke="#1f4a80" stroke-width="0.7" />
<line x1="336.08" y1="481.45" x2="338.88" y2="481.45" stroke="#1f4a80" stroke-width="0.7" />
<line x1="336.08" y1="482.55" x2="338.88" y2="482.55" stroke="#1f4a80" stroke-width="0.7" />
<line x1="343.57" y1="483.31" x2="343.57" y2="483.86" stroke="#1f4a80" stroke-width="0.7" />
<line x1="342.17" y1="483.31" x2="344.97" y2="483.31" stroke="#1f4a80" stroke-width="0.7" />
<line x1="342.17" y1="483.86" x2="344.97" y2="483.86" stroke="#1f4a80" stroke-width="0.7" />
<line x1="349.66" y1="483.31" x2="349.66" y2="483.86" stroke="#1f4a80" stroke-width="0.7" />
<line x1="348.26" y1="483.31" x2="351.06" y2="483.31" stroke="#1f4a80" stroke-width="0.7" />
<line x1="348.26" y1="483.86" x2="351.06" y2="483.86" stroke="#1f4a80" stroke-width="0.7" />
<line x1="357.78" y1="484.27" x2="357.78" y2="484.71" stroke="#1f4a80" stroke-width="0.7" />
<line x1="356.38" y1="484.27" x2="359.18" y2="484.27" stroke="#1f4a80" stroke-width="0.7" />
<line x1="356.38" y1="484.71" x2="359.18" y2="484.71" stroke="#1f4a80" stroke-width="0.7" />
<line x1="363.87" y1="482.88" x2="363.87" y2="483.70" stroke="#1f4a80" stroke-width="0.7" />
<line x1="362.47" y1="482.88" x2="365.27" y2="482.88" stroke="#1f4a80" stroke-width="0.7" />
<line x1="362.47" y1="483.70" x2="365.27" y2="483.70" stroke="#1f4a80" stroke-width="0.7" />
<line x1="371.99" y1="483.73" x2="371.99" y2="484.27" stroke="#1f4a80" stroke-width="0.7" />
<line x1="370.59" y1="483.73" x2="373.39" y2="483.73" stroke="#1f4a80" stroke-width="0.7" />
<line x1="370.59" y1="484.27" x2="373.39" y2="484.27" stroke="#1f4a80" stroke-width="0.7" />
<line x1="378.08" y1="483.73" x2="378.08" y2="484.27" stroke="#1f4a80" stroke-width="0.7" />
<line x1="376.68" y1="483.73" x2="379.48" y2="483.73" stroke="#1f4a80" stroke-width="0.7" />
<line x1="376.68" y1="484.27" x2="379.48" y2="484.27" stroke="#1f4a80" stroke-width="0.7" />
<line x1="386.20" y1="484.27" x2="386.20" y2="484.71" stroke="#1f4a80" stroke-width="0.7" />
<line x1="384.80" y1="484.27" x2="387.60" y2="484.27" stroke="#1f4a80" stroke-width="0.7" />
<line x1="384.80" y1="484.71" x2="387.60" y2="484.71" stroke="#1f4a80" stroke-width="0.7" />
<line x1="392.29" y1="483.73" x2="392.29" y2="484.27" stroke="#1f4a80" stroke-width="0.7" />
<line x1="390.89" y1="483.73" x2="393.69" y2="483.73" stroke="#1f4a80" stroke-width="0.7" />
<line x1="390.89" y1="484.27" x2="393.69" y2="484.27" stroke="#1f4a80" stroke-width="0.7" />
<line x1="400.41" y1="484.27" x2="400.41" y2="484.71" stroke="#1f4a80" stroke-width="0.7" />
<line x1="399.01" y1="484.27" x2="401.81" y2="484.27" stroke="#1f4a80" stroke-width="0.7" />
<line x1="399.01" y1="484.71" x2="401.81" y2="484.71" stroke="#1f4a80" stroke-width="0.7" />
<line x1="408.53" y1="483.97" x2="408.53" y2="484.52" stroke="#1f4a80" stroke-width="0.7" />
<line x1="407.13" y1="483.97" x2="409.93" y2="483.97" stroke="#1f4a80" stroke-width="0.7" />
<line x1="407.13" y1="484.52" x2="409.93" y2="484.52" stroke="#1f4a80" stroke-width="0.7" />
<polygon points="321.24,480.53 323.16,477.07 319.32,477.07" fill="#1f4a80"/>
<polygon points="331.39,484.93 333.31,481.48 329.47,481.48" fill="#1f4a80"/>
<polygon points="337.48,483.92 339.40,480.47 335.56,480.47" fill="#1f4a80"/>
<polygon points="343.57,485.51 345.49,482.05 341.65,482.05" fill="#1f4a80"/>
<polygon points="349.66,485.51 351.58,482.05 347.74,482.05" fill="#1f4a80"/>
<polygon points="357.78,486.41 359.70,482.96 355.86,482.96" fill="#1f4a80"/>
<polygon points="363.87,485.21 365.79,481.75 361.95,481.75" fill="#1f4a80"/>
<polygon points="371.99,485.92 373.91,482.46 370.07,482.46" fill="#1f4a80"/>
<polygon points="378.08,485.92 380.00,482.46 376.16,482.46" fill="#1f4a80"/>
<polygon points="386.20,486.41 388.12,482.96 384.28,482.96" fill="#1f4a80"/>
<polygon points="392.29,485.92 394.21,482.46 390.37,482.46" fill="#1f4a80"/>
<polygon points="400.41,486.41 402.33,482.96 398.49,482.96" fill="#1f4a80"/>
<polygon points="408.53,486.17 410.45,482.71 406.61,482.71" fill="#1f4a80"/>
<polyline points="321.24,478.61 331.39,479.89 337.48,475.52 343.57,476.69 349.66,468.51 357.78,455.49 363.87,447.69 371.99,411.49" fill="none" stroke="#f39a2b" stroke-width="0.9" stroke-linejoin="round" />
<line x1="331.39" y1="479.07" x2="331.39" y2="480.72" stroke="#f39a2b" stroke-width="0.7" />
<line x1="329.99" y1="479.07" x2="332.79" y2="479.07" stroke="#f39a2b" stroke-width="0.7" />
<line x1="329.99" y1="480.72" x2="332.79" y2="480.72" stroke="#f39a2b" stroke-width="0.7" />
<line x1="337.48" y1="474.42" x2="337.48" y2="476.61" stroke="#f39a2b" stroke-width="0.7" />
<line x1="336.08" y1="474.42" x2="338.88" y2="474.42" stroke="#f39a2b" stroke-width="0.7" />
<line x1="336.08" y1="476.61" x2="338.88" y2="476.61" stroke="#f39a2b" stroke-width="0.7" />
<line x1="343.57" y1="475.60" x2="343.57" y2="477.79" stroke="#f39a2b" stroke-width="0.7" />
<line x1="342.17" y1="475.60" x2="344.97" y2="475.60" stroke="#f39a2b" stroke-width="0.7" />
<line x1="342.17" y1="477.79" x2="344.97" y2="477.79" stroke="#f39a2b" stroke-width="0.7" />
<line x1="349.66" y1="466.87" x2="349.66" y2="470.15" stroke="#f39a2b" stroke-width="0.7" />
<line x1="348.26" y1="466.87" x2="351.06" y2="466.87" stroke="#f39a2b" stroke-width="0.7" />
<line x1="348.26" y1="470.15" x2="351.06" y2="470.15" stroke="#f39a2b" stroke-width="0.7" />
<line x1="357.78" y1="451.93" x2="357.78" y2="459.05" stroke="#f39a2b" stroke-width="0.7" />
<line x1="356.38" y1="451.93" x2="359.18" y2="451.93" stroke="#f39a2b" stroke-width="0.7" />
<line x1="356.38" y1="459.05" x2="359.18" y2="459.05" stroke="#f39a2b" stroke-width="0.7" />
<line x1="363.87" y1="442.77" x2="363.87" y2="452.62" stroke="#f39a2b" stroke-width="0.7" />
<line x1="362.47" y1="442.77" x2="365.27" y2="442.77" stroke="#f39a2b" stroke-width="0.7" />
<line x1="362.47" y1="452.62" x2="365.27" y2="452.62" stroke="#f39a2b" stroke-width="0.7" />
<line x1="371.99" y1="397.81" x2="371.99" y2="425.17" stroke="#f39a2b" stroke-width="0.7" />
<line x1="370.59" y1="397.81" x2="373.39" y2="397.81" stroke="#f39a2b" stroke-width="0.7" />
<line x1="370.59" y1="425.17" x2="373.39" y2="425.17" stroke="#f39a2b" stroke-width="0.7" />
<rect x="319.54" y="476.91" width="3.40" height="3.40" fill="#f39a2b"/>
<rect x="329.69" y="478.19" width="3.40" height="3.40" fill="#f39a2b"/>
<rect x="335.78" y="473.82" width="3.40" height="3.40" fill="#f39a2b"/>
<rect x="341.87" y="474.99" width="3.40" height="3.40" fill="#f39a2b"/>
<rect x="347.96" y="466.81" width="3.40" height="3.40" fill="#f39a2b"/>
<rect x="356.08" y="453.79" width="3.40" height="3.40" fill="#f39a2b"/>
<rect x="362.17" y="445.99" width="3.40" height="3.40" fill="#f39a2b"/>
<rect x="370.29" y="409.79" width="3.40" height="3.40" fill="#f39a2b"/>
<polyline points="321.24,478.61 331.39,468.21 337.48,446.60 343.57,416.20" fill="none" stroke="#4aa5de" stroke-width="0.9" stroke-linejoin="round" />
<line x1="331.39" y1="467.12" x2="331.39" y2="469.31" stroke="#4aa5de" stroke-width="0.7" />
<line x1="329.99" y1="467.12" x2="332.79" y2="467.12" stroke="#4aa5de" stroke-width="0.7" />
<line x1="329.99" y1="469.31" x2="332.79" y2="469.31" stroke="#4aa5de" stroke-width="0.7" />
<line x1="337.48" y1="442.49" x2="337.48" y2="450.70" stroke="#4aa5de" stroke-width="0.7" />
<line x1="336.08" y1="442.49" x2="338.88" y2="442.49" stroke="#4aa5de" stroke-width="0.7" />
<line x1="336.08" y1="450.70" x2="338.88" y2="450.70" stroke="#4aa5de" stroke-width="0.7" />
<line x1="343.57" y1="409.91" x2="343.57" y2="422.49" stroke="#4aa5de" stroke-width="0.7" />
<line x1="342.17" y1="409.91" x2="344.97" y2="409.91" stroke="#4aa5de" stroke-width="0.7" />
<line x1="342.17" y1="422.49" x2="344.97" y2="422.49" stroke="#4aa5de" stroke-width="0.7" />
<circle cx="321.24" cy="478.61" r="1.70" fill="#4aa5de"/>
<circle cx="331.39" cy="468.21" r="1.70" fill="#4aa5de"/>
<circle cx="337.48" cy="446.60" r="1.70" fill="#4aa5de"/>
<circle cx="343.57" cy="416.20" r="1.70" fill="#4aa5de"/>
<polyline points="321.24,478.61 331.39,475.79 337.48,465.80 343.57,460.41 349.66,444.00 357.78,425.20" fill="none" stroke="#3fa447" stroke-width="0.9" stroke-linejoin="round" />
<line x1="331.39" y1="474.70" x2="331.39" y2="476.89" stroke="#3fa447" stroke-width="0.7" />
<line x1="329.99" y1="474.70" x2="332.79" y2="474.70" stroke="#3fa447" stroke-width="0.7" />
<line x1="329.99" y1="476.89" x2="332.79" y2="476.89" stroke="#3fa447" stroke-width="0.7" />
<line x1="337.48" y1="464.16" x2="337.48" y2="467.45" stroke="#3fa447" stroke-width="0.7" />
<line x1="336.08" y1="464.16" x2="338.88" y2="464.16" stroke="#3fa447" stroke-width="0.7" />
<line x1="336.08" y1="467.45" x2="338.88" y2="467.45" stroke="#3fa447" stroke-width="0.7" />
<line x1="343.57" y1="458.23" x2="343.57" y2="462.60" stroke="#3fa447" stroke-width="0.7" />
<line x1="342.17" y1="458.23" x2="344.97" y2="458.23" stroke="#3fa447" stroke-width="0.7" />
<line x1="342.17" y1="462.60" x2="344.97" y2="462.60" stroke="#3fa447" stroke-width="0.7" />
<line x1="349.66" y1="439.89" x2="349.66" y2="448.10" stroke="#3fa447" stroke-width="0.7" />
<line x1="348.26" y1="439.89" x2="351.06" y2="439.89" stroke="#3fa447" stroke-width="0.7" />
<line x1="348.26" y1="448.10" x2="351.06" y2="448.10" stroke="#3fa447" stroke-width="0.7" />
<line x1="357.78" y1="413.71" x2="357.78" y2="436.69" stroke="#3fa447" stroke-width="0.7" />
<line x1="356.38" y1="413.71" x2="359.18" y2="413.71" stroke="#3fa447" stroke-width="0.7" />
<line x1="356.38" y1="436.69" x2="359.18" y2="436.69" stroke="#3fa447" stroke-width="0.7" />
<polygon points="321.24,476.57 323.28,480.24 319.20,480.24" fill="#3fa447"/>
<polygon points="331.39,473.75 333.43,477.42 329.35,477.42" fill="#3fa447"/>
<polygon points="337.48,463.76 339.52,467.44 335.44,467.44" fill="#3fa447"/>
<polygon points="343.57,458.37 345.61,462.05 341.53,462.05" fill="#3fa447"/>
<polygon points="349.66,441.96 351.70,445.63 347.62,445.63" fill="#3fa447"/>
<polygon points="357.78,423.16 359.82,426.83 355.74,426.83" fill="#3fa447"/>
<line x1="419.50" y1="424.90" x2="427.10" y2="424.90" stroke="#4aa5de" stroke-width="1.0" />
<circle cx="423.30" cy="424.90" r="1.70" fill="#4aa5de"/>
<text x="431.70" y="427.10" font-size="6.3" fill="#444" >Vehicle</text>
<line x1="419.50" y1="433.30" x2="427.10" y2="433.30" stroke="#f39a2b" stroke-width="1.0" />
<rect x="421.60" y="431.60" width="3.40" height="3.40" fill="#f39a2b"/>
<text x="431.70" y="435.50" font-size="6.3" fill="#444" >Eftoza</text>
<line x1="419.50" y1="442.20" x2="427.10" y2="442.20" stroke="#3fa447" stroke-width="1.0" />
<polygon points="423.30,440.16 425.34,443.83 421.26,443.83" fill="#3fa447"/>
<text x="431.70" y="444.40" font-size="6.3" fill="#444" >VEN</text>
<line x1="419.50" y1="450.60" x2="427.10" y2="450.60" stroke="#1f4a80" stroke-width="1.0" />
<polygon points="423.30,452.64 425.34,448.97 421.26,448.97" fill="#1f4a80"/>
<text x="431.70" y="452.80" font-size="6.3" fill="#444" >Eftoza + VEN</text>
<text x="6.40" y="540.30" font-size="11.8" fill="#111" font-weight="bold" style="stroke:#111;stroke-width:0.5px" >H</text>
<line x1="62.40" y1="543.20" x2="62.40" y2="639.40" stroke="#2a2a2a" stroke-width="1.2" />
<line x1="58.80" y1="636.29" x2="62.40" y2="636.29" stroke="#2a2a2a" stroke-width="1" />
<text x="57.20" y="638.49" font-size="6.4" fill="#444" text-anchor="end" >10</text>
<line x1="58.80" y1="606.16" x2="62.40" y2="606.16" stroke="#2a2a2a" stroke-width="1" />
<text x="57.20" y="608.36" font-size="6.4" fill="#444" text-anchor="end" >100</text>
<line x1="58.80" y1="576.03" x2="62.40" y2="576.03" stroke="#2a2a2a" stroke-width="1" />
<text x="57.20" y="578.23" font-size="6.4" fill="#444" text-anchor="end" >1000</text>
<line x1="58.80" y1="545.90" x2="62.40" y2="545.90" stroke="#2a2a2a" stroke-width="1" />
<text x="57.20" y="548.10" font-size="6.4" fill="#444" text-anchor="end" >10000</text>
<line x1="60.60" y1="627.22" x2="62.40" y2="627.22" stroke="#2a2a2a" stroke-width="0.7" />
<line x1="60.60" y1="621.91" x2="62.40" y2="621.91" stroke="#2a2a2a" stroke-width="0.7" />
<line x1="60.60" y1="618.15" x2="62.40" y2="618.15" stroke="#2a2a2a" stroke-width="0.7" />
<line x1="60.60" y1="615.23" x2="62.40" y2="615.23" stroke="#2a2a2a" stroke-width="0.7" />
<line x1="60.60" y1="612.84" x2="62.40" y2="612.84" stroke="#2a2a2a" stroke-width="0.7" />
<line x1="60.60" y1="610.83" x2="62.40" y2="610.83" stroke="#2a2a2a" stroke-width="0.7" />
<line x1="60.60" y1="609.08" x2="62.40" y2="609.08" stroke="#2a2a2a" stroke-width="0.7" />
<line x1="60.60" y1="607.54" x2="62.40" y2="607.54" stroke="#2a2a2a" stroke-width="0.7" />
<line x1="60.60" y1="597.09" x2="62.40" y2="597.09" stroke="#2a2a2a" stroke-width="0.7" />
<line x1="60.60" y1="591.78" x2="62.40" y2="591.78" stroke="#2a2a2a" stroke-width="0.7" />
<line x1="60.60" y1="588.02" x2="62.40" y2="588.02" stroke="#2a2a2a" stroke-width="0.7" />
<line x1="60.60" y1="585.10" x2="62.40" y2="585.10" stroke="#2a2a2a" stroke-width="0.7" />
<line x1="60.60" y1="582.71" x2="62.40" y2="582.71" stroke="#2a2a2a" stroke-width="0.7" />
<line x1="60.60" y1="580.70" x2="62.40" y2="580.70" stroke="#2a2a2a" stroke-width="0.7" />
<line x1="60.60" y1="578.95" x2="62.40" y2="578.95" stroke="#2a2a2a" stroke-width="0.7" />
<line x1="60.60" y1="577.41" x2="62.40" y2="577.41" stroke="#2a2a2a" stroke-width="0.7" />
<line x1="60.60" y1="566.96" x2="62.40" y2="566.96" stroke="#2a2a2a" stroke-width="0.7" />
<line x1="60.60" y1="561.65" x2="62.40" y2="561.65" stroke="#2a2a2a" stroke-width="0.7" />
<line x1="60.60" y1="557.89" x2="62.40" y2="557.89" stroke="#2a2a2a" stroke-width="0.7" />
<line x1="60.60" y1="554.97" x2="62.40" y2="554.97" stroke="#2a2a2a" stroke-width="0.7" />
<line x1="60.60" y1="552.58" x2="62.40" y2="552.58" stroke="#2a2a2a" stroke-width="0.7" />
<line x1="60.60" y1="550.57" x2="62.40" y2="550.57" stroke="#2a2a2a" stroke-width="0.7" />
<line x1="60.60" y1="548.82" x2="62.40" y2="548.82" stroke="#2a2a2a" stroke-width="0.7" />
<line x1="60.60" y1="547.28" x2="62.40" y2="547.28" stroke="#2a2a2a" stroke-width="0.7" />
<line x1="65.30" y1="643.40" x2="164.20" y2="643.40" stroke="#2a2a2a" stroke-width="1.2" />
<line x1="68.10" y1="643.40" x2="68.10" y2="645.80" stroke="#2a2a2a" stroke-width="1" />
<text x="68.10" y="654.70" font-size="6.4" fill="#444" text-anchor="middle" >−500</text>
<line x1="99.00" y1="643.40" x2="99.00" y2="645.80" stroke="#2a2a2a" stroke-width="1" />
<text x="99.00" y="654.70" font-size="6.4" fill="#444" text-anchor="middle" >0</text>
<line x1="129.90" y1="643.40" x2="129.90" y2="645.80" stroke="#2a2a2a" stroke-width="1" />
<text x="129.90" y="654.70" font-size="6.4" fill="#444" text-anchor="middle" >500</text>
<line x1="160.80" y1="643.40" x2="160.80" y2="645.80" stroke="#2a2a2a" stroke-width="1" />
<text x="160.80" y="654.70" font-size="6.4" fill="#444" text-anchor="middle" >1000</text>
<text x="76.80" y="667.00" font-size="8.5" fill="#333" textLength="75" lengthAdjust="spacingAndGlyphs" >Bliss sum (Eftoza + VEN)</text>
<text x="21.60" y="591.20" font-size="8.6" fill="#333" text-anchor="middle" textLength="57.7" lengthAdjust="spacingAndGlyphs" transform="rotate(-90 21.60 591.20)" >Plasma membrane</text>
<text x="31.40" y="591.20" font-size="8.6" fill="#333" text-anchor="middle" textLength="52" lengthAdjust="spacingAndGlyphs" transform="rotate(-90 31.40 591.20)" >receptor number</text>
<rect x="89.85" y="547.35" width="3.10" height="3.10" fill="#35a03a"/>
<rect x="102.75" y="545.85" width="3.10" height="3.10" fill="#35a03a"/>
<rect x="110.15" y="545.45" width="3.10" height="3.10" fill="#35a03a"/>
<rect x="102.75" y="549.65" width="3.10" height="3.10" fill="#35a03a"/>
<rect x="120.75" y="550.55" width="3.10" height="3.10" fill="#35a03a"/>
<rect x="132.35" y="551.15" width="3.10" height="3.10" fill="#35a03a"/>
<rect x="143.95" y="551.55" width="3.10" height="3.10" fill="#35a03a"/>
<rect x="150.15" y="552.85" width="3.10" height="3.10" fill="#35a03a"/>
<rect x="119.05" y="553.85" width="3.10" height="3.10" fill="#35a03a"/>
<rect x="127.05" y="554.75" width="3.10" height="3.10" fill="#35a03a"/>
<rect x="122.85" y="557.45" width="3.10" height="3.10" fill="#35a03a"/>
<rect x="129.65" y="559.15" width="3.10" height="3.10" fill="#35a03a"/>
<rect x="113.75" y="560.65" width="3.10" height="3.10" fill="#35a03a"/>
<rect x="90.05" y="560.05" width="3.10" height="3.10" fill="#35a03a"/>
<rect x="108.05" y="569.75" width="3.10" height="3.10" fill="#35a03a"/>
<rect x="87.95" y="591.95" width="3.10" height="3.10" fill="#35a03a"/>
<rect x="97.45" y="591.35" width="3.10" height="3.10" fill="#35a03a"/>
<rect x="91.55" y="599.75" width="3.10" height="3.10" fill="#35a03a"/>
<rect x="92.55" y="601.45" width="3.10" height="3.10" fill="#35a03a"/>
<rect x="83.75" y="612.95" width="3.10" height="3.10" fill="#35a03a"/>
<rect x="102.75" y="620.55" width="3.10" height="3.10" fill="#35a03a"/>
<rect x="102.75" y="555.75" width="3.10" height="3.10" fill="#b50d28"/>
<rect x="113.75" y="558.15" width="3.10" height="3.10" fill="#b50d28"/>
<rect x="91.95" y="568.75" width="3.10" height="3.10" fill="#b50d28"/>
<rect x="120.75" y="571.65" width="3.10" height="3.10" fill="#b50d28"/>
<rect x="103.15" y="574.45" width="3.10" height="3.10" fill="#b50d28"/>
<rect x="129.65" y="574.45" width="3.10" height="3.10" fill="#b50d28"/>
<rect x="113.75" y="578.65" width="3.10" height="3.10" fill="#b50d28"/>
<rect x="127.45" y="584.95" width="3.10" height="3.10" fill="#b50d28"/>
<rect x="108.05" y="586.45" width="3.10" height="3.10" fill="#b50d28"/>
<rect x="122.65" y="589.25" width="3.10" height="3.10" fill="#b50d28"/>
<rect x="83.75" y="593.45" width="3.10" height="3.10" fill="#b50d28"/>
<rect x="88.35" y="593.85" width="3.10" height="3.10" fill="#b50d28"/>
<rect x="110.15" y="595.55" width="3.10" height="3.10" fill="#b50d28"/>
<rect x="143.95" y="596.25" width="3.10" height="3.10" fill="#b50d28"/>
<rect x="119.05" y="596.85" width="3.10" height="3.10" fill="#b50d28"/>
<rect x="90.05" y="598.35" width="3.10" height="3.10" fill="#b50d28"/>
<rect x="132.35" y="601.45" width="3.10" height="3.10" fill="#b50d28"/>
<rect x="150.15" y="604.05" width="3.10" height="3.10" fill="#b50d28"/>
<rect x="90.45" y="606.55" width="3.10" height="3.10" fill="#b50d28"/>
<rect x="97.45" y="607.25" width="3.10" height="3.10" fill="#b50d28"/>
<rect x="88.35" y="611.45" width="3.10" height="3.10" fill="#b50d28"/>
<rect x="92.55" y="611.45" width="3.10" height="3.10" fill="#b50d28"/>
<rect x="102.75" y="619.25" width="3.10" height="3.10" fill="#b50d28"/>
<rect x="45.10" y="677.40" width="3.20" height="3.20" fill="#b50d28"/>
<text x="53.70" y="681.20" font-size="6.3" fill="#444" >DR4</text>
<text x="53.70" y="688.70" font-size="6.3" fill="#444" >Spearman <tspan font-style="italic">r</tspan> = 0.2223</text>
<text x="53.70" y="695.90" font-size="6.3" fill="#444" ><tspan font-style="italic">P</tspan> = .3079, <tspan font-style="italic">n</tspan> = 23</text>
<rect x="117.00" y="677.40" width="3.20" height="3.20" fill="#35a03a"/>
<text x="123.00" y="681.20" font-size="6.3" fill="#444" >DR5</text>
<text x="123.00" y="688.70" font-size="6.3" fill="#444" >Spearman <tspan font-style="italic">r</tspan> = 0.4615</text>
<text x="123.00" y="695.90" font-size="6.3" fill="#444" ><tspan font-style="italic">P</tspan> = .0267, <tspan font-style="italic">n</tspan> = 23</text>
<text x="187.4" y="541.4" font-size="11.8" font-weight="bold" fill="#111" style="stroke:#111;stroke-width:0.5px">I</text>
<line x1="239.60" y1="548.50" x2="239.60" y2="638.60" stroke="#2a2a2a" stroke-width="1.2" />
<line x1="236.60" y1="636.30" x2="239.60" y2="636.30" stroke="#2a2a2a" stroke-width="1" />
<text x="233.80" y="638.50" font-size="6.4" fill="#444" text-anchor="end" >100</text>
<line x1="236.60" y1="593.90" x2="239.60" y2="593.90" stroke="#2a2a2a" stroke-width="1" />
<text x="233.80" y="596.10" font-size="6.4" fill="#444" text-anchor="end" >1000</text>
<line x1="236.60" y1="551.50" x2="239.60" y2="551.50" stroke="#2a2a2a" stroke-width="1" />
<text x="233.80" y="553.70" font-size="6.4" fill="#444" text-anchor="end" >10000</text>
<line x1="237.80" y1="623.54" x2="239.60" y2="623.54" stroke="#2a2a2a" stroke-width="0.7" />
<line x1="237.80" y1="616.07" x2="239.60" y2="616.07" stroke="#2a2a2a" stroke-width="0.7" />
<line x1="237.80" y1="610.77" x2="239.60" y2="610.77" stroke="#2a2a2a" stroke-width="0.7" />
<line x1="237.80" y1="606.66" x2="239.60" y2="606.66" stroke="#2a2a2a" stroke-width="0.7" />
<line x1="237.80" y1="603.31" x2="239.60" y2="603.31" stroke="#2a2a2a" stroke-width="0.7" />
<line x1="237.80" y1="600.47" x2="239.60" y2="600.47" stroke="#2a2a2a" stroke-width="0.7" />
<line x1="237.80" y1="598.01" x2="239.60" y2="598.01" stroke="#2a2a2a" stroke-width="0.7" />
<line x1="237.80" y1="595.84" x2="239.60" y2="595.84" stroke="#2a2a2a" stroke-width="0.7" />
<line x1="237.80" y1="581.14" x2="239.60" y2="581.14" stroke="#2a2a2a" stroke-width="0.7" />
<line x1="237.80" y1="573.67" x2="239.60" y2="573.67" stroke="#2a2a2a" stroke-width="0.7" />
<line x1="237.80" y1="568.37" x2="239.60" y2="568.37" stroke="#2a2a2a" stroke-width="0.7" />
<line x1="237.80" y1="564.26" x2="239.60" y2="564.26" stroke="#2a2a2a" stroke-width="0.7" />
<line x1="237.80" y1="560.91" x2="239.60" y2="560.91" stroke="#2a2a2a" stroke-width="0.7" />
<line x1="237.80" y1="558.07" x2="239.60" y2="558.07" stroke="#2a2a2a" stroke-width="0.7" />
<line x1="237.80" y1="555.61" x2="239.60" y2="555.61" stroke="#2a2a2a" stroke-width="0.7" />
<line x1="237.80" y1="553.44" x2="239.60" y2="553.44" stroke="#2a2a2a" stroke-width="0.7" />
<line x1="243.50" y1="643.40" x2="341.80" y2="643.40" stroke="#2a2a2a" stroke-width="1.2" />
<line x1="246.10" y1="643.40" x2="246.10" y2="645.80" stroke="#2a2a2a" stroke-width="1" />
<text x="246.10" y="654.70" font-size="6.4" fill="#444" text-anchor="middle" >−500</text>
<line x1="277.30" y1="643.40" x2="277.30" y2="645.80" stroke="#2a2a2a" stroke-width="1" />
<text x="277.30" y="654.70" font-size="6.4" fill="#444" text-anchor="middle" >0</text>
<line x1="308.50" y1="643.40" x2="308.50" y2="645.80" stroke="#2a2a2a" stroke-width="1" />
<text x="308.50" y="654.70" font-size="6.4" fill="#444" text-anchor="middle" >500</text>
<line x1="339.70" y1="643.40" x2="339.70" y2="645.80" stroke="#2a2a2a" stroke-width="1" />
<text x="339.70" y="654.70" font-size="6.4" fill="#444" text-anchor="middle" >1000</text>
<text x="254.00" y="666.70" font-size="8.5" fill="#333" textLength="74.7" lengthAdjust="spacingAndGlyphs" >Bliss sum (Eftoza + VEN)</text>
<text x="202.50" y="588.10" font-size="8.6" fill="#333" text-anchor="middle" textLength="45.8" lengthAdjust="spacingAndGlyphs" transform="rotate(-90 202.50 588.10)" >DR4 + DR5 plasma</text>
<text x="210.40" y="591.90" font-size="8.6" fill="#333" text-anchor="middle" textLength="77.5" lengthAdjust="spacingAndGlyphs" transform="rotate(-90 210.40 591.90)" >membrane receptor number</text>
<rect x="281.05" y="545.45" width="3.10" height="3.10" fill="#1d3f7a"/>
<rect x="267.95" y="553.65" width="3.10" height="3.10" fill="#1d3f7a"/>
<rect x="288.45" y="551.55" width="3.10" height="3.10" fill="#1d3f7a"/>
<rect x="299.05" y="555.35" width="3.10" height="3.10" fill="#1d3f7a"/>
<rect x="280.65" y="557.95" width="3.10" height="3.10" fill="#1d3f7a"/>
<rect x="291.65" y="558.95" width="3.10" height="3.10" fill="#1d3f7a"/>
<rect x="310.65" y="559.15" width="3.10" height="3.10" fill="#1d3f7a"/>
<rect x="322.35" y="560.05" width="3.10" height="3.10" fill="#1d3f7a"/>
<rect x="328.65" y="561.25" width="3.10" height="3.10" fill="#1d3f7a"/>
<rect x="297.35" y="563.45" width="3.10" height="3.10" fill="#1d3f7a"/>
<rect x="305.85" y="562.75" width="3.10" height="3.10" fill="#1d3f7a"/>
<rect x="292.05" y="565.55" width="3.10" height="3.10" fill="#1d3f7a"/>
<rect x="300.75" y="566.55" width="3.10" height="3.10" fill="#1d3f7a"/>
<rect x="307.95" y="565.95" width="3.10" height="3.10" fill="#1d3f7a"/>
<rect x="268.35" y="571.85" width="3.10" height="3.10" fill="#1d3f7a"/>
<rect x="270.05" y="582.25" width="3.10" height="3.10" fill="#1d3f7a"/>
<rect x="286.35" y="581.15" width="3.10" height="3.10" fill="#1d3f7a"/>
<rect x="281.45" y="591.35" width="3.10" height="3.10" fill="#1d3f7a"/>
<rect x="266.65" y="605.75" width="3.10" height="3.10" fill="#1d3f7a"/>
<rect x="275.75" y="610.85" width="3.10" height="3.10" fill="#1d3f7a"/>
<rect x="265.85" y="612.95" width="3.10" height="3.10" fill="#1d3f7a"/>
<rect x="261.55" y="614.65" width="3.10" height="3.10" fill="#1d3f7a"/>
<rect x="271.15" y="623.05" width="3.10" height="3.10" fill="#1d3f7a"/>
<text x="279.80" y="629.00" font-size="6.3" fill="#444" >Spearman <tspan font-style="italic">r</tspan> = 0.4644</text>
<text x="279.80" y="636.00" font-size="6.3" fill="#444" ><tspan font-style="italic">P</tspan> = .0246, <tspan font-style="italic">n</tspan> = 23</text>
<text x="355.50" y="540.60" font-size="11.8" fill="#111" font-weight="bold" style="stroke:#111;stroke-width:0.5px" >J</text>
<line x1="405.30" y1="543.20" x2="405.30" y2="639.40" stroke="#2a2a2a" stroke-width="1.2" />
<line x1="402.20" y1="636.60" x2="405.30" y2="636.60" stroke="#2a2a2a" stroke-width="1" />
<text x="399.20" y="638.80" font-size="6.4" fill="#444" text-anchor="end" >10000</text>
<line x1="402.20" y1="580.10" x2="405.30" y2="580.10" stroke="#2a2a2a" stroke-width="1" />
<text x="399.20" y="582.30" font-size="6.4" fill="#444" text-anchor="end" >100000</text>
<line x1="402.20" y1="546.08" x2="405.30" y2="546.08" stroke="#2a2a2a" stroke-width="1" />
<text x="399.20" y="548.28" font-size="6.4" fill="#444" text-anchor="end" >400000</text>
<line x1="403.50" y1="619.59" x2="405.30" y2="619.59" stroke="#2a2a2a" stroke-width="0.7" />
<line x1="403.50" y1="609.64" x2="405.30" y2="609.64" stroke="#2a2a2a" stroke-width="0.7" />
<line x1="403.50" y1="602.58" x2="405.30" y2="602.58" stroke="#2a2a2a" stroke-width="0.7" />
<line x1="403.50" y1="597.11" x2="405.30" y2="597.11" stroke="#2a2a2a" stroke-width="0.7" />
<line x1="403.50" y1="592.63" x2="405.30" y2="592.63" stroke="#2a2a2a" stroke-width="0.7" />
<line x1="403.50" y1="588.85" x2="405.30" y2="588.85" stroke="#2a2a2a" stroke-width="0.7" />
<line x1="403.50" y1="585.58" x2="405.30" y2="585.58" stroke="#2a2a2a" stroke-width="0.7" />
<line x1="403.50" y1="582.69" x2="405.30" y2="582.69" stroke="#2a2a2a" stroke-width="0.7" />
<line x1="403.50" y1="563.09" x2="405.30" y2="563.09" stroke="#2a2a2a" stroke-width="0.7" />
<line x1="403.50" y1="553.14" x2="405.30" y2="553.14" stroke="#2a2a2a" stroke-width="0.7" />
<line x1="408.90" y1="643.00" x2="506.80" y2="643.00" stroke="#2a2a2a" stroke-width="1.2" />
<line x1="411.70" y1="643.00" x2="411.70" y2="645.40" stroke="#2a2a2a" stroke-width="1" />
<text x="411.70" y="654.30" font-size="6.4" fill="#444" text-anchor="middle" >−500</text>
<line x1="442.70" y1="643.00" x2="442.70" y2="645.40" stroke="#2a2a2a" stroke-width="1" />
<text x="442.70" y="654.30" font-size="6.4" fill="#444" text-anchor="middle" >0</text>
<line x1="473.70" y1="643.00" x2="473.70" y2="645.40" stroke="#2a2a2a" stroke-width="1" />
<text x="473.70" y="654.30" font-size="6.4" fill="#444" text-anchor="middle" >500</text>
<line x1="504.70" y1="643.00" x2="504.70" y2="645.40" stroke="#2a2a2a" stroke-width="1" />
<text x="504.70" y="654.30" font-size="6.4" fill="#444" text-anchor="middle" >1000</text>
<text x="419.50" y="666.70" font-size="8.5" fill="#333" textLength="74.7" lengthAdjust="spacingAndGlyphs" >Bliss sum (Eftoza + VEN)</text>
<text x="371.40" y="590.20" font-size="8.6" fill="#333" text-anchor="middle" textLength="82.3" lengthAdjust="spacingAndGlyphs" transform="rotate(-90 371.40 590.20)" >BCL-2 expression (PE MESF)</text>
<rect x="456.65" y="546.95" width="3.10" height="3.10" fill="#4e1c5a"/>
<rect x="463.65" y="546.95" width="3.10" height="3.10" fill="#4e1c5a"/>
<rect x="440.75" y="553.85" width="3.10" height="3.10" fill="#4e1c5a"/>
<rect x="470.35" y="559.65" width="3.10" height="3.10" fill="#4e1c5a"/>
<rect x="461.95" y="562.75" width="3.10" height="3.10" fill="#4e1c5a"/>
<rect x="465.75" y="562.75" width="3.10" height="3.10" fill="#4e1c5a"/>
<rect x="475.05" y="561.75" width="3.10" height="3.10" fill="#4e1c5a"/>
<rect x="486.85" y="563.45" width="3.10" height="3.10" fill="#4e1c5a"/>
<rect x="472.45" y="565.55" width="3.10" height="3.10" fill="#4e1c5a"/>
<rect x="457.05" y="565.95" width="3.10" height="3.10" fill="#4e1c5a"/>
<rect x="451.35" y="568.45" width="3.10" height="3.10" fill="#4e1c5a"/>
<rect x="446.05" y="574.85" width="3.10" height="3.10" fill="#4e1c5a"/>
<rect x="446.45" y="579.05" width="3.10" height="3.10" fill="#4e1c5a"/>
<rect x="431.65" y="585.45" width="3.10" height="3.10" fill="#4e1c5a"/>
<rect x="431.25" y="588.15" width="3.10" height="3.10" fill="#4e1c5a"/>
<rect x="432.95" y="602.55" width="3.10" height="3.10" fill="#4e1c5a"/>
<rect x="433.35" y="609.75" width="3.10" height="3.10" fill="#4e1c5a"/>
<rect x="445.65" y="609.75" width="3.10" height="3.10" fill="#4e1c5a"/>
<text x="444.80" y="630.60" font-size="6.3" fill="#444" >Spearman <tspan font-style="italic">r</tspan> = 0.6326</text>
<text x="444.80" y="637.40" font-size="6.3" fill="#444" ><tspan font-style="italic">P</tspan> = .0048, <tspan font-style="italic">n</tspan> = 18</text>
<rect x="0.5" y="0.5" width="519" height="704" fill="none" stroke="#636363" stroke-width="1"/>
</svg>
</body></html>
